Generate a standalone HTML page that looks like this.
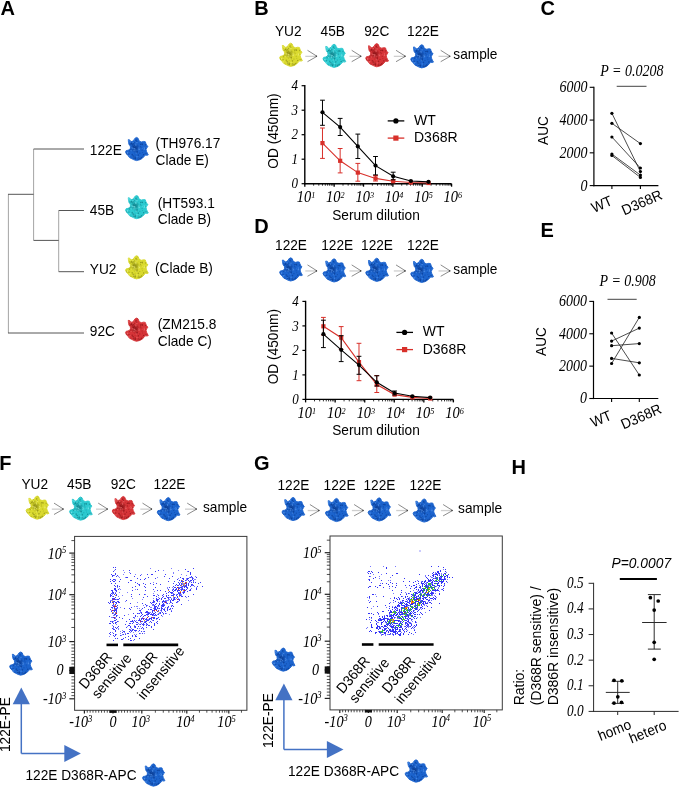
<!DOCTYPE html>
<html><head><meta charset="utf-8"><style>
html,body{margin:0;padding:0;background:#fff;}
body{width:685px;height:787px;overflow:hidden;}
svg{display:block;filter:blur(0.35px);}
</style></head><body>
<svg width="685" height="787" viewBox="0 0 685 787">
<defs>
<clipPath id="bclip"><path d="M2.81,2.30 4.34,2.55 5.37,4.34 7.15,3.83 8.69,2.55 9.45,1.02 11.24,0.00 12.77,0.77 13.54,2.55 14.05,3.83 16.35,4.60 18.40,4.09 20.18,4.34 20.69,5.88 21.46,7.66 22.74,9.20 21.72,10.73 20.95,12.26 21.46,14.31 22.48,16.35 23.25,17.63 21.97,18.14 20.44,17.88 18.91,19.42 16.86,21.46 14.31,22.74 11.24,23.51 8.69,22.74 6.13,21.46 4.09,20.44 2.55,18.40 1.02,16.86 0.00,14.82 0.77,13.29 2.55,13.03 4.34,12.26 5.11,10.73 4.85,8.69 3.58,7.15 3.07,5.11Z"/></clipPath>
<radialGradient id="gy" cx="0.42" cy="0.45" r="0.62"><stop offset="0" stop-color="#8e8e16"/><stop offset="0.35" stop-color="#dada2e"/><stop offset="1" stop-color="#dada2e"/></radialGradient>
<radialGradient id="gc" cx="0.42" cy="0.45" r="0.62"><stop offset="0" stop-color="#11808a"/><stop offset="0.35" stop-color="#2ccad0"/><stop offset="1" stop-color="#2ccad0"/></radialGradient>
<radialGradient id="gr" cx="0.42" cy="0.45" r="0.62"><stop offset="0" stop-color="#8c1418"/><stop offset="0.35" stop-color="#d63438"/><stop offset="1" stop-color="#d63438"/></radialGradient>
<radialGradient id="gb" cx="0.42" cy="0.45" r="0.62"><stop offset="0" stop-color="#0a3c92"/><stop offset="0.35" stop-color="#1c64ce"/><stop offset="1" stop-color="#1c64ce"/></radialGradient>
<g id="py"><path d="M2.81,2.30 4.34,2.55 5.37,4.34 7.15,3.83 8.69,2.55 9.45,1.02 11.24,0.00 12.77,0.77 13.54,2.55 14.05,3.83 16.35,4.60 18.40,4.09 20.18,4.34 20.69,5.88 21.46,7.66 22.74,9.20 21.72,10.73 20.95,12.26 21.46,14.31 22.48,16.35 23.25,17.63 21.97,18.14 20.44,17.88 18.91,19.42 16.86,21.46 14.31,22.74 11.24,23.51 8.69,22.74 6.13,21.46 4.09,20.44 2.55,18.40 1.02,16.86 0.00,14.82 0.77,13.29 2.55,13.03 4.34,12.26 5.11,10.73 4.85,8.69 3.58,7.15 3.07,5.11Z" fill="url(#gy)" stroke="#dada2e" stroke-width="0.9" stroke-linejoin="round"/><g clip-path="url(#bclip)">
<circle cx="7.5" cy="3.5" r="0.68" fill="#8e8e16" opacity="0.6"/>
<circle cx="12.5" cy="8.6" r="0.38" fill="#8e8e16" opacity="0.6"/>
<circle cx="0.9" cy="10.2" r="0.38" fill="#8e8e16" opacity="0.6"/>
<circle cx="9.9" cy="19.4" r="0.41" fill="#8e8e16" opacity="0.6"/>
<circle cx="14.6" cy="22.3" r="0.64" fill="#8e8e16" opacity="0.6"/>
<circle cx="22.7" cy="1.1" r="0.78" fill="#8e8e16" opacity="0.6"/>
<circle cx="3.4" cy="2.8" r="0.50" fill="#f2f27a" opacity="0.6"/>
<circle cx="4.2" cy="13.7" r="0.67" fill="#8e8e16" opacity="0.6"/>
<circle cx="12.7" cy="1.5" r="0.38" fill="#8e8e16" opacity="0.6"/>
<circle cx="15.8" cy="10.1" r="0.51" fill="#8e8e16" opacity="0.6"/>
<circle cx="10.5" cy="7.0" r="0.75" fill="#f2f27a" opacity="0.6"/>
<circle cx="5.7" cy="13.5" r="0.61" fill="#f2f27a" opacity="0.6"/>
<circle cx="17.0" cy="6.8" r="0.84" fill="#8e8e16" opacity="0.6"/>
<circle cx="9.7" cy="17.8" r="0.43" fill="#8e8e16" opacity="0.6"/>
<circle cx="0.9" cy="15.7" r="0.73" fill="#8e8e16" opacity="0.6"/>
<circle cx="20.4" cy="7.4" r="0.70" fill="#8e8e16" opacity="0.6"/>
<circle cx="13.5" cy="10.7" r="0.77" fill="#f2f27a" opacity="0.6"/>
<circle cx="11.0" cy="15.6" r="0.38" fill="#f2f27a" opacity="0.6"/>
<circle cx="15.0" cy="23.3" r="0.76" fill="#8e8e16" opacity="0.6"/>
<circle cx="9.0" cy="15.7" r="0.36" fill="#8e8e16" opacity="0.6"/>
<circle cx="3.9" cy="2.8" r="0.38" fill="#f2f27a" opacity="0.6"/>
<circle cx="3.0" cy="5.8" r="0.55" fill="#f2f27a" opacity="0.6"/>
<circle cx="1.9" cy="10.6" r="0.62" fill="#f2f27a" opacity="0.6"/>
<circle cx="19.0" cy="20.3" r="0.49" fill="#8e8e16" opacity="0.6"/>
<circle cx="8.3" cy="20.8" r="0.83" fill="#8e8e16" opacity="0.6"/>
<circle cx="4.1" cy="5.5" r="0.47" fill="#8e8e16" opacity="0.6"/>
<circle cx="13.7" cy="6.2" r="0.35" fill="#8e8e16" opacity="0.6"/>
<circle cx="8.6" cy="13.3" r="0.83" fill="#f2f27a" opacity="0.6"/>
<circle cx="12.0" cy="14.5" r="0.69" fill="#8e8e16" opacity="0.6"/>
<circle cx="20.9" cy="18.3" r="0.79" fill="#f2f27a" opacity="0.6"/>
<circle cx="9.1" cy="9.4" r="0.40" fill="#f2f27a" opacity="0.6"/>
<circle cx="1.4" cy="1.6" r="0.45" fill="#8e8e16" opacity="0.6"/>
<circle cx="7.9" cy="1.2" r="0.35" fill="#8e8e16" opacity="0.6"/>
<circle cx="2.4" cy="8.5" r="0.36" fill="#f2f27a" opacity="0.6"/>
<circle cx="14.3" cy="3.5" r="0.48" fill="#8e8e16" opacity="0.6"/>
<circle cx="8.5" cy="2.9" r="0.77" fill="#f2f27a" opacity="0.6"/>
<circle cx="10.8" cy="11.4" r="0.39" fill="#8e8e16" opacity="0.6"/>
<circle cx="8.0" cy="6.2" r="0.76" fill="#8e8e16" opacity="0.6"/>
<circle cx="0.5" cy="22.4" r="0.61" fill="#8e8e16" opacity="0.6"/>
<circle cx="12.6" cy="0.6" r="0.61" fill="#f2f27a" opacity="0.6"/>
<circle cx="20.1" cy="16.4" r="0.48" fill="#8e8e16" opacity="0.6"/>
<circle cx="3.9" cy="18.1" r="0.62" fill="#f2f27a" opacity="0.6"/>
<circle cx="7.7" cy="5.2" r="0.76" fill="#f2f27a" opacity="0.6"/>
<circle cx="19.8" cy="19.0" r="0.76" fill="#f2f27a" opacity="0.6"/>
<circle cx="5.3" cy="12.2" r="0.53" fill="#8e8e16" opacity="0.6"/>
<circle cx="0.6" cy="6.6" r="0.48" fill="#f2f27a" opacity="0.6"/>
<circle cx="22.2" cy="10.5" r="0.82" fill="#f2f27a" opacity="0.6"/>
<circle cx="22.2" cy="8.6" r="0.46" fill="#8e8e16" opacity="0.6"/>
<circle cx="4.6" cy="4.8" r="0.66" fill="#f2f27a" opacity="0.6"/>
<circle cx="19.5" cy="11.3" r="0.68" fill="#f2f27a" opacity="0.6"/>
<circle cx="2.0" cy="15.5" r="0.80" fill="#f2f27a" opacity="0.6"/>
<circle cx="17.4" cy="11.2" r="0.44" fill="#f2f27a" opacity="0.6"/>
<circle cx="7.7" cy="18.8" r="0.84" fill="#8e8e16" opacity="0.6"/>
<circle cx="9.3" cy="22.3" r="0.71" fill="#8e8e16" opacity="0.6"/>
<circle cx="3.0" cy="3.6" r="0.80" fill="#f2f27a" opacity="0.6"/>
<circle cx="3.4" cy="19.4" r="0.84" fill="#f2f27a" opacity="0.6"/>
<circle cx="8.1" cy="12.9" r="0.42" fill="#8e8e16" opacity="0.6"/>
<circle cx="22.6" cy="15.3" r="0.61" fill="#f2f27a" opacity="0.6"/>
<circle cx="10.1" cy="20.5" r="0.76" fill="#8e8e16" opacity="0.6"/>
<circle cx="5.9" cy="6.9" r="0.47" fill="#8e8e16" opacity="0.6"/>
<circle cx="6.0" cy="9.9" r="0.42" fill="#f2f27a" opacity="0.6"/>
<circle cx="8.2" cy="10.8" r="0.64" fill="#f2f27a" opacity="0.6"/>
<circle cx="9.8" cy="21.6" r="0.60" fill="#8e8e16" opacity="0.6"/>
<circle cx="12.2" cy="0.4" r="0.57" fill="#8e8e16" opacity="0.6"/>
<circle cx="0.1" cy="18.8" r="0.44" fill="#8e8e16" opacity="0.6"/>
<circle cx="16.9" cy="13.1" r="0.51" fill="#8e8e16" opacity="0.6"/>
<circle cx="12.9" cy="18.4" r="0.40" fill="#8e8e16" opacity="0.6"/>
<circle cx="5.8" cy="6.5" r="0.74" fill="#8e8e16" opacity="0.6"/>
<circle cx="13.1" cy="17.9" r="0.81" fill="#8e8e16" opacity="0.6"/>
<circle cx="14.2" cy="11.9" r="0.61" fill="#f2f27a" opacity="0.6"/>
<circle cx="10.5" cy="12.5" r="0.59" fill="#f2f27a" opacity="0.6"/>
<circle cx="16.3" cy="20.6" r="0.82" fill="#8e8e16" opacity="0.6"/>
<circle cx="13.0" cy="22.2" r="0.77" fill="#8e8e16" opacity="0.6"/>
<circle cx="2.8" cy="10.4" r="0.39" fill="#8e8e16" opacity="0.6"/>
<circle cx="1.7" cy="15.7" r="0.74" fill="#f2f27a" opacity="0.6"/>
<circle cx="3.6" cy="16.8" r="0.68" fill="#8e8e16" opacity="0.6"/>
<circle cx="20.5" cy="22.7" r="0.46" fill="#f2f27a" opacity="0.6"/>
<circle cx="9.3" cy="11.5" r="0.84" fill="#f2f27a" opacity="0.6"/>
<circle cx="3.8" cy="10.1" r="0.61" fill="#8e8e16" opacity="0.6"/>
<circle cx="4.6" cy="7.5" r="0.71" fill="#8e8e16" opacity="0.6"/>
<circle cx="12.9" cy="10.4" r="0.36" fill="#8e8e16" opacity="0.6"/>
<circle cx="14.5" cy="12.0" r="0.38" fill="#f2f27a" opacity="0.6"/>
<circle cx="18.3" cy="22.8" r="0.40" fill="#8e8e16" opacity="0.6"/>
<circle cx="0.9" cy="18.3" r="0.49" fill="#8e8e16" opacity="0.6"/>
<circle cx="9.8" cy="21.4" r="0.76" fill="#8e8e16" opacity="0.6"/>
<circle cx="3.5" cy="21.6" r="0.64" fill="#f2f27a" opacity="0.6"/>
<circle cx="2.1" cy="1.4" r="0.69" fill="#8e8e16" opacity="0.6"/>
<circle cx="1.7" cy="22.1" r="0.67" fill="#f2f27a" opacity="0.6"/>
<circle cx="1.9" cy="20.1" r="0.38" fill="#f2f27a" opacity="0.6"/>
<circle cx="10.6" cy="8.0" r="0.63" fill="#f2f27a" opacity="0.6"/>
<circle cx="6.2" cy="3.0" r="0.61" fill="#8e8e16" opacity="0.6"/>
<circle cx="2.5" cy="3.8" r="0.38" fill="#8e8e16" opacity="0.6"/>
<circle cx="7.3" cy="7.2" r="0.73" fill="#8e8e16" opacity="0.6"/>
<circle cx="11.6" cy="4.2" r="0.52" fill="#8e8e16" opacity="0.6"/>
<circle cx="5.8" cy="0.4" r="0.72" fill="#8e8e16" opacity="0.6"/>
<circle cx="4.4" cy="11.2" r="0.82" fill="#8e8e16" opacity="0.6"/>
<circle cx="19.0" cy="10.2" r="0.60" fill="#f2f27a" opacity="0.6"/>
<circle cx="9.1" cy="11.9" r="0.69" fill="#f2f27a" opacity="0.6"/>
<circle cx="8.0" cy="19.6" r="0.70" fill="#f2f27a" opacity="0.6"/>
<circle cx="9.4" cy="8.2" r="0.38" fill="#8e8e16" opacity="0.6"/>
<circle cx="1.6" cy="17.4" r="0.48" fill="#8e8e16" opacity="0.6"/>
<circle cx="2.0" cy="19.8" r="0.79" fill="#f2f27a" opacity="0.6"/>
<circle cx="6.6" cy="5.7" r="0.50" fill="#8e8e16" opacity="0.6"/>
<circle cx="3.7" cy="10.5" r="0.48" fill="#f2f27a" opacity="0.6"/>
<circle cx="22.6" cy="12.9" r="0.47" fill="#f2f27a" opacity="0.6"/>
<circle cx="7.2" cy="8.4" r="0.35" fill="#8e8e16" opacity="0.6"/>
<circle cx="11.0" cy="11.8" r="0.45" fill="#8e8e16" opacity="0.6"/>
<circle cx="0.1" cy="6.2" r="0.39" fill="#8e8e16" opacity="0.6"/>
<circle cx="1.0" cy="0.5" r="0.50" fill="#8e8e16" opacity="0.6"/>
<circle cx="13.6" cy="12.4" r="0.73" fill="#f2f27a" opacity="0.6"/>
<circle cx="16.6" cy="20.7" r="0.54" fill="#8e8e16" opacity="0.6"/>
<circle cx="22.9" cy="3.5" r="0.71" fill="#f2f27a" opacity="0.6"/>
<circle cx="1.0" cy="19.6" r="0.80" fill="#f2f27a" opacity="0.6"/>
<circle cx="17.1" cy="19.1" r="0.42" fill="#8e8e16" opacity="0.6"/>
<circle cx="11.7" cy="19.6" r="0.75" fill="#f2f27a" opacity="0.6"/>
<circle cx="13.6" cy="21.0" r="0.69" fill="#f2f27a" opacity="0.6"/>
<circle cx="5.3" cy="0.7" r="0.42" fill="#8e8e16" opacity="0.6"/>
<circle cx="2.4" cy="19.7" r="0.63" fill="#f2f27a" opacity="0.6"/>
<circle cx="14.6" cy="16.0" r="0.59" fill="#8e8e16" opacity="0.6"/>
<circle cx="18.5" cy="17.6" r="0.60" fill="#8e8e16" opacity="0.6"/>
<circle cx="15.3" cy="1.6" r="0.72" fill="#8e8e16" opacity="0.6"/>
<circle cx="1.7" cy="6.2" r="0.71" fill="#8e8e16" opacity="0.6"/>
<circle cx="17.2" cy="22.9" r="0.60" fill="#8e8e16" opacity="0.6"/>
<circle cx="11.1" cy="16.1" r="0.73" fill="#f2f27a" opacity="0.6"/>
<circle cx="14.9" cy="1.8" r="0.42" fill="#8e8e16" opacity="0.6"/>
<circle cx="17.3" cy="7.2" r="0.63" fill="#8e8e16" opacity="0.6"/>
<circle cx="1.4" cy="6.3" r="0.69" fill="#f2f27a" opacity="0.6"/>
<circle cx="15.7" cy="6.8" r="0.61" fill="#8e8e16" opacity="0.6"/>
<circle cx="10.8" cy="2.8" r="0.80" fill="#8e8e16" opacity="0.6"/>
<circle cx="22.7" cy="22.0" r="0.36" fill="#8e8e16" opacity="0.6"/>
<circle cx="19.1" cy="22.8" r="0.57" fill="#8e8e16" opacity="0.6"/>
<circle cx="4.9" cy="22.2" r="0.46" fill="#8e8e16" opacity="0.6"/>
<circle cx="3.3" cy="12.3" r="0.83" fill="#8e8e16" opacity="0.6"/>
<circle cx="19.1" cy="12.0" r="0.79" fill="#f2f27a" opacity="0.6"/>
<circle cx="5.4" cy="21.1" r="0.59" fill="#8e8e16" opacity="0.6"/>
<circle cx="0.1" cy="11.6" r="0.58" fill="#8e8e16" opacity="0.6"/>
<circle cx="3.3" cy="8.1" r="0.51" fill="#f2f27a" opacity="0.6"/>
<circle cx="0.0" cy="17.6" r="0.77" fill="#8e8e16" opacity="0.6"/>
<circle cx="21.5" cy="16.8" r="0.80" fill="#8e8e16" opacity="0.6"/>
<circle cx="8.7" cy="9.2" r="0.85" fill="#8e8e16" opacity="0.6"/>
<circle cx="8.4" cy="10.1" r="0.49" fill="#8e8e16" opacity="0.6"/>
<circle cx="2.4" cy="19.6" r="0.49" fill="#f2f27a" opacity="0.6"/>
<circle cx="5.8" cy="6.2" r="0.61" fill="#8e8e16" opacity="0.6"/>
<circle cx="8.7" cy="22.5" r="0.79" fill="#f2f27a" opacity="0.6"/>
<circle cx="14.7" cy="21.5" r="0.82" fill="#8e8e16" opacity="0.6"/>
<circle cx="16.7" cy="1.2" r="0.72" fill="#8e8e16" opacity="0.6"/>
<circle cx="17.5" cy="15.2" r="0.49" fill="#8e8e16" opacity="0.6"/>
<circle cx="21.5" cy="3.0" r="0.59" fill="#8e8e16" opacity="0.6"/>
<circle cx="6.9" cy="17.4" r="0.84" fill="#8e8e16" opacity="0.6"/>
<circle cx="15.3" cy="7.1" r="0.63" fill="#8e8e16" opacity="0.6"/>
<circle cx="3.9" cy="3.8" r="0.45" fill="#f2f27a" opacity="0.6"/>
<circle cx="11.6" cy="5.2" r="0.80" fill="#f2f27a" opacity="0.6"/>
<circle cx="10.5" cy="3.3" r="0.45" fill="#8e8e16" opacity="0.6"/>
<circle cx="8.0" cy="2.1" r="0.47" fill="#8e8e16" opacity="0.6"/>
<circle cx="13.2" cy="20.9" r="0.72" fill="#8e8e16" opacity="0.6"/>
<circle cx="9.6" cy="12.3" r="0.54" fill="#8e8e16" opacity="0.6"/>
<circle cx="1.4" cy="6.5" r="0.83" fill="#8e8e16" opacity="0.6"/>
<circle cx="11.7" cy="14.8" r="0.78" fill="#8e8e16" opacity="0.6"/>
<circle cx="6.3" cy="5.8" r="0.55" fill="#8e8e16" opacity="0.6"/>
<circle cx="22.2" cy="20.0" r="0.79" fill="#8e8e16" opacity="0.6"/>
<circle cx="0.7" cy="16.7" r="0.80" fill="#8e8e16" opacity="0.6"/>
<circle cx="13.7" cy="0.0" r="0.55" fill="#f2f27a" opacity="0.6"/>
<circle cx="19.2" cy="20.1" r="0.84" fill="#8e8e16" opacity="0.6"/>
<circle cx="2.5" cy="3.6" r="0.61" fill="#f2f27a" opacity="0.6"/>
<circle cx="21.9" cy="17.0" r="0.67" fill="#f2f27a" opacity="0.6"/>
<circle cx="10.6" cy="13.0" r="0.37" fill="#f2f27a" opacity="0.6"/>
<circle cx="5.4" cy="21.6" r="0.67" fill="#8e8e16" opacity="0.6"/>
<circle cx="3.0" cy="5.9" r="0.67" fill="#f2f27a" opacity="0.6"/>
<circle cx="2.6" cy="1.7" r="0.61" fill="#8e8e16" opacity="0.6"/>
<circle cx="9.0" cy="5.3" r="0.65" fill="#8e8e16" opacity="0.6"/>
<circle cx="7.0" cy="10.8" r="0.83" fill="#f2f27a" opacity="0.6"/>
<circle cx="20.5" cy="11.2" r="0.47" fill="#8e8e16" opacity="0.6"/>
<circle cx="22.3" cy="16.6" r="0.50" fill="#8e8e16" opacity="0.6"/>
<circle cx="11.6" cy="15.9" r="0.56" fill="#8e8e16" opacity="0.6"/>
<circle cx="15.5" cy="21.8" r="0.46" fill="#8e8e16" opacity="0.6"/>
<circle cx="7.9" cy="9.9" r="0.69" fill="#8e8e16" opacity="0.6"/>
<circle cx="18.5" cy="17.4" r="0.60" fill="#8e8e16" opacity="0.6"/>
<circle cx="22.5" cy="7.3" r="0.76" fill="#8e8e16" opacity="0.6"/>
<circle cx="5.1" cy="17.9" r="0.50" fill="#f2f27a" opacity="0.6"/>
<circle cx="11.5" cy="4.4" r="0.46" fill="#8e8e16" opacity="0.6"/>
<circle cx="15.5" cy="22.3" r="0.42" fill="#8e8e16" opacity="0.6"/>
<circle cx="5.0" cy="22.9" r="0.42" fill="#8e8e16" opacity="0.6"/>
<circle cx="1.4" cy="9.2" r="0.80" fill="#f2f27a" opacity="0.6"/>
<circle cx="17.0" cy="23.5" r="0.82" fill="#8e8e16" opacity="0.6"/>
<circle cx="4.3" cy="22.0" r="0.72" fill="#8e8e16" opacity="0.6"/>
<circle cx="15.4" cy="8.9" r="0.54" fill="#8e8e16" opacity="0.6"/>
<circle cx="3.9" cy="0.1" r="0.49" fill="#8e8e16" opacity="0.6"/>
<circle cx="22.2" cy="2.9" r="0.83" fill="#8e8e16" opacity="0.6"/>
<circle cx="8.3" cy="19.3" r="0.76" fill="#8e8e16" opacity="0.6"/>
<circle cx="1.1" cy="11.1" r="0.54" fill="#f2f27a" opacity="0.6"/>
</g></g>
<g id="pc"><path d="M2.81,2.30 4.34,2.55 5.37,4.34 7.15,3.83 8.69,2.55 9.45,1.02 11.24,0.00 12.77,0.77 13.54,2.55 14.05,3.83 16.35,4.60 18.40,4.09 20.18,4.34 20.69,5.88 21.46,7.66 22.74,9.20 21.72,10.73 20.95,12.26 21.46,14.31 22.48,16.35 23.25,17.63 21.97,18.14 20.44,17.88 18.91,19.42 16.86,21.46 14.31,22.74 11.24,23.51 8.69,22.74 6.13,21.46 4.09,20.44 2.55,18.40 1.02,16.86 0.00,14.82 0.77,13.29 2.55,13.03 4.34,12.26 5.11,10.73 4.85,8.69 3.58,7.15 3.07,5.11Z" fill="url(#gc)" stroke="#2ccad0" stroke-width="0.9" stroke-linejoin="round"/><g clip-path="url(#bclip)">
<circle cx="7.5" cy="3.5" r="0.68" fill="#11808a" opacity="0.6"/>
<circle cx="12.5" cy="8.6" r="0.38" fill="#11808a" opacity="0.6"/>
<circle cx="0.9" cy="10.2" r="0.38" fill="#11808a" opacity="0.6"/>
<circle cx="9.9" cy="19.4" r="0.41" fill="#11808a" opacity="0.6"/>
<circle cx="14.6" cy="22.3" r="0.64" fill="#11808a" opacity="0.6"/>
<circle cx="22.7" cy="1.1" r="0.78" fill="#11808a" opacity="0.6"/>
<circle cx="3.4" cy="2.8" r="0.50" fill="#7eeaee" opacity="0.6"/>
<circle cx="4.2" cy="13.7" r="0.67" fill="#11808a" opacity="0.6"/>
<circle cx="12.7" cy="1.5" r="0.38" fill="#11808a" opacity="0.6"/>
<circle cx="15.8" cy="10.1" r="0.51" fill="#11808a" opacity="0.6"/>
<circle cx="10.5" cy="7.0" r="0.75" fill="#7eeaee" opacity="0.6"/>
<circle cx="5.7" cy="13.5" r="0.61" fill="#7eeaee" opacity="0.6"/>
<circle cx="17.0" cy="6.8" r="0.84" fill="#11808a" opacity="0.6"/>
<circle cx="9.7" cy="17.8" r="0.43" fill="#11808a" opacity="0.6"/>
<circle cx="0.9" cy="15.7" r="0.73" fill="#11808a" opacity="0.6"/>
<circle cx="20.4" cy="7.4" r="0.70" fill="#11808a" opacity="0.6"/>
<circle cx="13.5" cy="10.7" r="0.77" fill="#7eeaee" opacity="0.6"/>
<circle cx="11.0" cy="15.6" r="0.38" fill="#7eeaee" opacity="0.6"/>
<circle cx="15.0" cy="23.3" r="0.76" fill="#11808a" opacity="0.6"/>
<circle cx="9.0" cy="15.7" r="0.36" fill="#11808a" opacity="0.6"/>
<circle cx="3.9" cy="2.8" r="0.38" fill="#7eeaee" opacity="0.6"/>
<circle cx="3.0" cy="5.8" r="0.55" fill="#7eeaee" opacity="0.6"/>
<circle cx="1.9" cy="10.6" r="0.62" fill="#7eeaee" opacity="0.6"/>
<circle cx="19.0" cy="20.3" r="0.49" fill="#11808a" opacity="0.6"/>
<circle cx="8.3" cy="20.8" r="0.83" fill="#11808a" opacity="0.6"/>
<circle cx="4.1" cy="5.5" r="0.47" fill="#11808a" opacity="0.6"/>
<circle cx="13.7" cy="6.2" r="0.35" fill="#11808a" opacity="0.6"/>
<circle cx="8.6" cy="13.3" r="0.83" fill="#7eeaee" opacity="0.6"/>
<circle cx="12.0" cy="14.5" r="0.69" fill="#11808a" opacity="0.6"/>
<circle cx="20.9" cy="18.3" r="0.79" fill="#7eeaee" opacity="0.6"/>
<circle cx="9.1" cy="9.4" r="0.40" fill="#7eeaee" opacity="0.6"/>
<circle cx="1.4" cy="1.6" r="0.45" fill="#11808a" opacity="0.6"/>
<circle cx="7.9" cy="1.2" r="0.35" fill="#11808a" opacity="0.6"/>
<circle cx="2.4" cy="8.5" r="0.36" fill="#7eeaee" opacity="0.6"/>
<circle cx="14.3" cy="3.5" r="0.48" fill="#11808a" opacity="0.6"/>
<circle cx="8.5" cy="2.9" r="0.77" fill="#7eeaee" opacity="0.6"/>
<circle cx="10.8" cy="11.4" r="0.39" fill="#11808a" opacity="0.6"/>
<circle cx="8.0" cy="6.2" r="0.76" fill="#11808a" opacity="0.6"/>
<circle cx="0.5" cy="22.4" r="0.61" fill="#11808a" opacity="0.6"/>
<circle cx="12.6" cy="0.6" r="0.61" fill="#7eeaee" opacity="0.6"/>
<circle cx="20.1" cy="16.4" r="0.48" fill="#11808a" opacity="0.6"/>
<circle cx="3.9" cy="18.1" r="0.62" fill="#7eeaee" opacity="0.6"/>
<circle cx="7.7" cy="5.2" r="0.76" fill="#7eeaee" opacity="0.6"/>
<circle cx="19.8" cy="19.0" r="0.76" fill="#7eeaee" opacity="0.6"/>
<circle cx="5.3" cy="12.2" r="0.53" fill="#11808a" opacity="0.6"/>
<circle cx="0.6" cy="6.6" r="0.48" fill="#7eeaee" opacity="0.6"/>
<circle cx="22.2" cy="10.5" r="0.82" fill="#7eeaee" opacity="0.6"/>
<circle cx="22.2" cy="8.6" r="0.46" fill="#11808a" opacity="0.6"/>
<circle cx="4.6" cy="4.8" r="0.66" fill="#7eeaee" opacity="0.6"/>
<circle cx="19.5" cy="11.3" r="0.68" fill="#7eeaee" opacity="0.6"/>
<circle cx="2.0" cy="15.5" r="0.80" fill="#7eeaee" opacity="0.6"/>
<circle cx="17.4" cy="11.2" r="0.44" fill="#7eeaee" opacity="0.6"/>
<circle cx="7.7" cy="18.8" r="0.84" fill="#11808a" opacity="0.6"/>
<circle cx="9.3" cy="22.3" r="0.71" fill="#11808a" opacity="0.6"/>
<circle cx="3.0" cy="3.6" r="0.80" fill="#7eeaee" opacity="0.6"/>
<circle cx="3.4" cy="19.4" r="0.84" fill="#7eeaee" opacity="0.6"/>
<circle cx="8.1" cy="12.9" r="0.42" fill="#11808a" opacity="0.6"/>
<circle cx="22.6" cy="15.3" r="0.61" fill="#7eeaee" opacity="0.6"/>
<circle cx="10.1" cy="20.5" r="0.76" fill="#11808a" opacity="0.6"/>
<circle cx="5.9" cy="6.9" r="0.47" fill="#11808a" opacity="0.6"/>
<circle cx="6.0" cy="9.9" r="0.42" fill="#7eeaee" opacity="0.6"/>
<circle cx="8.2" cy="10.8" r="0.64" fill="#7eeaee" opacity="0.6"/>
<circle cx="9.8" cy="21.6" r="0.60" fill="#11808a" opacity="0.6"/>
<circle cx="12.2" cy="0.4" r="0.57" fill="#11808a" opacity="0.6"/>
<circle cx="0.1" cy="18.8" r="0.44" fill="#11808a" opacity="0.6"/>
<circle cx="16.9" cy="13.1" r="0.51" fill="#11808a" opacity="0.6"/>
<circle cx="12.9" cy="18.4" r="0.40" fill="#11808a" opacity="0.6"/>
<circle cx="5.8" cy="6.5" r="0.74" fill="#11808a" opacity="0.6"/>
<circle cx="13.1" cy="17.9" r="0.81" fill="#11808a" opacity="0.6"/>
<circle cx="14.2" cy="11.9" r="0.61" fill="#7eeaee" opacity="0.6"/>
<circle cx="10.5" cy="12.5" r="0.59" fill="#7eeaee" opacity="0.6"/>
<circle cx="16.3" cy="20.6" r="0.82" fill="#11808a" opacity="0.6"/>
<circle cx="13.0" cy="22.2" r="0.77" fill="#11808a" opacity="0.6"/>
<circle cx="2.8" cy="10.4" r="0.39" fill="#11808a" opacity="0.6"/>
<circle cx="1.7" cy="15.7" r="0.74" fill="#7eeaee" opacity="0.6"/>
<circle cx="3.6" cy="16.8" r="0.68" fill="#11808a" opacity="0.6"/>
<circle cx="20.5" cy="22.7" r="0.46" fill="#7eeaee" opacity="0.6"/>
<circle cx="9.3" cy="11.5" r="0.84" fill="#7eeaee" opacity="0.6"/>
<circle cx="3.8" cy="10.1" r="0.61" fill="#11808a" opacity="0.6"/>
<circle cx="4.6" cy="7.5" r="0.71" fill="#11808a" opacity="0.6"/>
<circle cx="12.9" cy="10.4" r="0.36" fill="#11808a" opacity="0.6"/>
<circle cx="14.5" cy="12.0" r="0.38" fill="#7eeaee" opacity="0.6"/>
<circle cx="18.3" cy="22.8" r="0.40" fill="#11808a" opacity="0.6"/>
<circle cx="0.9" cy="18.3" r="0.49" fill="#11808a" opacity="0.6"/>
<circle cx="9.8" cy="21.4" r="0.76" fill="#11808a" opacity="0.6"/>
<circle cx="3.5" cy="21.6" r="0.64" fill="#7eeaee" opacity="0.6"/>
<circle cx="2.1" cy="1.4" r="0.69" fill="#11808a" opacity="0.6"/>
<circle cx="1.7" cy="22.1" r="0.67" fill="#7eeaee" opacity="0.6"/>
<circle cx="1.9" cy="20.1" r="0.38" fill="#7eeaee" opacity="0.6"/>
<circle cx="10.6" cy="8.0" r="0.63" fill="#7eeaee" opacity="0.6"/>
<circle cx="6.2" cy="3.0" r="0.61" fill="#11808a" opacity="0.6"/>
<circle cx="2.5" cy="3.8" r="0.38" fill="#11808a" opacity="0.6"/>
<circle cx="7.3" cy="7.2" r="0.73" fill="#11808a" opacity="0.6"/>
<circle cx="11.6" cy="4.2" r="0.52" fill="#11808a" opacity="0.6"/>
<circle cx="5.8" cy="0.4" r="0.72" fill="#11808a" opacity="0.6"/>
<circle cx="4.4" cy="11.2" r="0.82" fill="#11808a" opacity="0.6"/>
<circle cx="19.0" cy="10.2" r="0.60" fill="#7eeaee" opacity="0.6"/>
<circle cx="9.1" cy="11.9" r="0.69" fill="#7eeaee" opacity="0.6"/>
<circle cx="8.0" cy="19.6" r="0.70" fill="#7eeaee" opacity="0.6"/>
<circle cx="9.4" cy="8.2" r="0.38" fill="#11808a" opacity="0.6"/>
<circle cx="1.6" cy="17.4" r="0.48" fill="#11808a" opacity="0.6"/>
<circle cx="2.0" cy="19.8" r="0.79" fill="#7eeaee" opacity="0.6"/>
<circle cx="6.6" cy="5.7" r="0.50" fill="#11808a" opacity="0.6"/>
<circle cx="3.7" cy="10.5" r="0.48" fill="#7eeaee" opacity="0.6"/>
<circle cx="22.6" cy="12.9" r="0.47" fill="#7eeaee" opacity="0.6"/>
<circle cx="7.2" cy="8.4" r="0.35" fill="#11808a" opacity="0.6"/>
<circle cx="11.0" cy="11.8" r="0.45" fill="#11808a" opacity="0.6"/>
<circle cx="0.1" cy="6.2" r="0.39" fill="#11808a" opacity="0.6"/>
<circle cx="1.0" cy="0.5" r="0.50" fill="#11808a" opacity="0.6"/>
<circle cx="13.6" cy="12.4" r="0.73" fill="#7eeaee" opacity="0.6"/>
<circle cx="16.6" cy="20.7" r="0.54" fill="#11808a" opacity="0.6"/>
<circle cx="22.9" cy="3.5" r="0.71" fill="#7eeaee" opacity="0.6"/>
<circle cx="1.0" cy="19.6" r="0.80" fill="#7eeaee" opacity="0.6"/>
<circle cx="17.1" cy="19.1" r="0.42" fill="#11808a" opacity="0.6"/>
<circle cx="11.7" cy="19.6" r="0.75" fill="#7eeaee" opacity="0.6"/>
<circle cx="13.6" cy="21.0" r="0.69" fill="#7eeaee" opacity="0.6"/>
<circle cx="5.3" cy="0.7" r="0.42" fill="#11808a" opacity="0.6"/>
<circle cx="2.4" cy="19.7" r="0.63" fill="#7eeaee" opacity="0.6"/>
<circle cx="14.6" cy="16.0" r="0.59" fill="#11808a" opacity="0.6"/>
<circle cx="18.5" cy="17.6" r="0.60" fill="#11808a" opacity="0.6"/>
<circle cx="15.3" cy="1.6" r="0.72" fill="#11808a" opacity="0.6"/>
<circle cx="1.7" cy="6.2" r="0.71" fill="#11808a" opacity="0.6"/>
<circle cx="17.2" cy="22.9" r="0.60" fill="#11808a" opacity="0.6"/>
<circle cx="11.1" cy="16.1" r="0.73" fill="#7eeaee" opacity="0.6"/>
<circle cx="14.9" cy="1.8" r="0.42" fill="#11808a" opacity="0.6"/>
<circle cx="17.3" cy="7.2" r="0.63" fill="#11808a" opacity="0.6"/>
<circle cx="1.4" cy="6.3" r="0.69" fill="#7eeaee" opacity="0.6"/>
<circle cx="15.7" cy="6.8" r="0.61" fill="#11808a" opacity="0.6"/>
<circle cx="10.8" cy="2.8" r="0.80" fill="#11808a" opacity="0.6"/>
<circle cx="22.7" cy="22.0" r="0.36" fill="#11808a" opacity="0.6"/>
<circle cx="19.1" cy="22.8" r="0.57" fill="#11808a" opacity="0.6"/>
<circle cx="4.9" cy="22.2" r="0.46" fill="#11808a" opacity="0.6"/>
<circle cx="3.3" cy="12.3" r="0.83" fill="#11808a" opacity="0.6"/>
<circle cx="19.1" cy="12.0" r="0.79" fill="#7eeaee" opacity="0.6"/>
<circle cx="5.4" cy="21.1" r="0.59" fill="#11808a" opacity="0.6"/>
<circle cx="0.1" cy="11.6" r="0.58" fill="#11808a" opacity="0.6"/>
<circle cx="3.3" cy="8.1" r="0.51" fill="#7eeaee" opacity="0.6"/>
<circle cx="0.0" cy="17.6" r="0.77" fill="#11808a" opacity="0.6"/>
<circle cx="21.5" cy="16.8" r="0.80" fill="#11808a" opacity="0.6"/>
<circle cx="8.7" cy="9.2" r="0.85" fill="#11808a" opacity="0.6"/>
<circle cx="8.4" cy="10.1" r="0.49" fill="#11808a" opacity="0.6"/>
<circle cx="2.4" cy="19.6" r="0.49" fill="#7eeaee" opacity="0.6"/>
<circle cx="5.8" cy="6.2" r="0.61" fill="#11808a" opacity="0.6"/>
<circle cx="8.7" cy="22.5" r="0.79" fill="#7eeaee" opacity="0.6"/>
<circle cx="14.7" cy="21.5" r="0.82" fill="#11808a" opacity="0.6"/>
<circle cx="16.7" cy="1.2" r="0.72" fill="#11808a" opacity="0.6"/>
<circle cx="17.5" cy="15.2" r="0.49" fill="#11808a" opacity="0.6"/>
<circle cx="21.5" cy="3.0" r="0.59" fill="#11808a" opacity="0.6"/>
<circle cx="6.9" cy="17.4" r="0.84" fill="#11808a" opacity="0.6"/>
<circle cx="15.3" cy="7.1" r="0.63" fill="#11808a" opacity="0.6"/>
<circle cx="3.9" cy="3.8" r="0.45" fill="#7eeaee" opacity="0.6"/>
<circle cx="11.6" cy="5.2" r="0.80" fill="#7eeaee" opacity="0.6"/>
<circle cx="10.5" cy="3.3" r="0.45" fill="#11808a" opacity="0.6"/>
<circle cx="8.0" cy="2.1" r="0.47" fill="#11808a" opacity="0.6"/>
<circle cx="13.2" cy="20.9" r="0.72" fill="#11808a" opacity="0.6"/>
<circle cx="9.6" cy="12.3" r="0.54" fill="#11808a" opacity="0.6"/>
<circle cx="1.4" cy="6.5" r="0.83" fill="#11808a" opacity="0.6"/>
<circle cx="11.7" cy="14.8" r="0.78" fill="#11808a" opacity="0.6"/>
<circle cx="6.3" cy="5.8" r="0.55" fill="#11808a" opacity="0.6"/>
<circle cx="22.2" cy="20.0" r="0.79" fill="#11808a" opacity="0.6"/>
<circle cx="0.7" cy="16.7" r="0.80" fill="#11808a" opacity="0.6"/>
<circle cx="13.7" cy="0.0" r="0.55" fill="#7eeaee" opacity="0.6"/>
<circle cx="19.2" cy="20.1" r="0.84" fill="#11808a" opacity="0.6"/>
<circle cx="2.5" cy="3.6" r="0.61" fill="#7eeaee" opacity="0.6"/>
<circle cx="21.9" cy="17.0" r="0.67" fill="#7eeaee" opacity="0.6"/>
<circle cx="10.6" cy="13.0" r="0.37" fill="#7eeaee" opacity="0.6"/>
<circle cx="5.4" cy="21.6" r="0.67" fill="#11808a" opacity="0.6"/>
<circle cx="3.0" cy="5.9" r="0.67" fill="#7eeaee" opacity="0.6"/>
<circle cx="2.6" cy="1.7" r="0.61" fill="#11808a" opacity="0.6"/>
<circle cx="9.0" cy="5.3" r="0.65" fill="#11808a" opacity="0.6"/>
<circle cx="7.0" cy="10.8" r="0.83" fill="#7eeaee" opacity="0.6"/>
<circle cx="20.5" cy="11.2" r="0.47" fill="#11808a" opacity="0.6"/>
<circle cx="22.3" cy="16.6" r="0.50" fill="#11808a" opacity="0.6"/>
<circle cx="11.6" cy="15.9" r="0.56" fill="#11808a" opacity="0.6"/>
<circle cx="15.5" cy="21.8" r="0.46" fill="#11808a" opacity="0.6"/>
<circle cx="7.9" cy="9.9" r="0.69" fill="#11808a" opacity="0.6"/>
<circle cx="18.5" cy="17.4" r="0.60" fill="#11808a" opacity="0.6"/>
<circle cx="22.5" cy="7.3" r="0.76" fill="#11808a" opacity="0.6"/>
<circle cx="5.1" cy="17.9" r="0.50" fill="#7eeaee" opacity="0.6"/>
<circle cx="11.5" cy="4.4" r="0.46" fill="#11808a" opacity="0.6"/>
<circle cx="15.5" cy="22.3" r="0.42" fill="#11808a" opacity="0.6"/>
<circle cx="5.0" cy="22.9" r="0.42" fill="#11808a" opacity="0.6"/>
<circle cx="1.4" cy="9.2" r="0.80" fill="#7eeaee" opacity="0.6"/>
<circle cx="17.0" cy="23.5" r="0.82" fill="#11808a" opacity="0.6"/>
<circle cx="4.3" cy="22.0" r="0.72" fill="#11808a" opacity="0.6"/>
<circle cx="15.4" cy="8.9" r="0.54" fill="#11808a" opacity="0.6"/>
<circle cx="3.9" cy="0.1" r="0.49" fill="#11808a" opacity="0.6"/>
<circle cx="22.2" cy="2.9" r="0.83" fill="#11808a" opacity="0.6"/>
<circle cx="8.3" cy="19.3" r="0.76" fill="#11808a" opacity="0.6"/>
<circle cx="1.1" cy="11.1" r="0.54" fill="#7eeaee" opacity="0.6"/>
</g></g>
<g id="pr"><path d="M2.81,2.30 4.34,2.55 5.37,4.34 7.15,3.83 8.69,2.55 9.45,1.02 11.24,0.00 12.77,0.77 13.54,2.55 14.05,3.83 16.35,4.60 18.40,4.09 20.18,4.34 20.69,5.88 21.46,7.66 22.74,9.20 21.72,10.73 20.95,12.26 21.46,14.31 22.48,16.35 23.25,17.63 21.97,18.14 20.44,17.88 18.91,19.42 16.86,21.46 14.31,22.74 11.24,23.51 8.69,22.74 6.13,21.46 4.09,20.44 2.55,18.40 1.02,16.86 0.00,14.82 0.77,13.29 2.55,13.03 4.34,12.26 5.11,10.73 4.85,8.69 3.58,7.15 3.07,5.11Z" fill="url(#gr)" stroke="#d63438" stroke-width="0.9" stroke-linejoin="round"/><g clip-path="url(#bclip)">
<circle cx="7.5" cy="3.5" r="0.68" fill="#8c1418" opacity="0.6"/>
<circle cx="12.5" cy="8.6" r="0.38" fill="#8c1418" opacity="0.6"/>
<circle cx="0.9" cy="10.2" r="0.38" fill="#8c1418" opacity="0.6"/>
<circle cx="9.9" cy="19.4" r="0.41" fill="#8c1418" opacity="0.6"/>
<circle cx="14.6" cy="22.3" r="0.64" fill="#8c1418" opacity="0.6"/>
<circle cx="22.7" cy="1.1" r="0.78" fill="#8c1418" opacity="0.6"/>
<circle cx="3.4" cy="2.8" r="0.50" fill="#ee7272" opacity="0.6"/>
<circle cx="4.2" cy="13.7" r="0.67" fill="#8c1418" opacity="0.6"/>
<circle cx="12.7" cy="1.5" r="0.38" fill="#8c1418" opacity="0.6"/>
<circle cx="15.8" cy="10.1" r="0.51" fill="#8c1418" opacity="0.6"/>
<circle cx="10.5" cy="7.0" r="0.75" fill="#ee7272" opacity="0.6"/>
<circle cx="5.7" cy="13.5" r="0.61" fill="#ee7272" opacity="0.6"/>
<circle cx="17.0" cy="6.8" r="0.84" fill="#8c1418" opacity="0.6"/>
<circle cx="9.7" cy="17.8" r="0.43" fill="#8c1418" opacity="0.6"/>
<circle cx="0.9" cy="15.7" r="0.73" fill="#8c1418" opacity="0.6"/>
<circle cx="20.4" cy="7.4" r="0.70" fill="#8c1418" opacity="0.6"/>
<circle cx="13.5" cy="10.7" r="0.77" fill="#ee7272" opacity="0.6"/>
<circle cx="11.0" cy="15.6" r="0.38" fill="#ee7272" opacity="0.6"/>
<circle cx="15.0" cy="23.3" r="0.76" fill="#8c1418" opacity="0.6"/>
<circle cx="9.0" cy="15.7" r="0.36" fill="#8c1418" opacity="0.6"/>
<circle cx="3.9" cy="2.8" r="0.38" fill="#ee7272" opacity="0.6"/>
<circle cx="3.0" cy="5.8" r="0.55" fill="#ee7272" opacity="0.6"/>
<circle cx="1.9" cy="10.6" r="0.62" fill="#ee7272" opacity="0.6"/>
<circle cx="19.0" cy="20.3" r="0.49" fill="#8c1418" opacity="0.6"/>
<circle cx="8.3" cy="20.8" r="0.83" fill="#8c1418" opacity="0.6"/>
<circle cx="4.1" cy="5.5" r="0.47" fill="#8c1418" opacity="0.6"/>
<circle cx="13.7" cy="6.2" r="0.35" fill="#8c1418" opacity="0.6"/>
<circle cx="8.6" cy="13.3" r="0.83" fill="#ee7272" opacity="0.6"/>
<circle cx="12.0" cy="14.5" r="0.69" fill="#8c1418" opacity="0.6"/>
<circle cx="20.9" cy="18.3" r="0.79" fill="#ee7272" opacity="0.6"/>
<circle cx="9.1" cy="9.4" r="0.40" fill="#ee7272" opacity="0.6"/>
<circle cx="1.4" cy="1.6" r="0.45" fill="#8c1418" opacity="0.6"/>
<circle cx="7.9" cy="1.2" r="0.35" fill="#8c1418" opacity="0.6"/>
<circle cx="2.4" cy="8.5" r="0.36" fill="#ee7272" opacity="0.6"/>
<circle cx="14.3" cy="3.5" r="0.48" fill="#8c1418" opacity="0.6"/>
<circle cx="8.5" cy="2.9" r="0.77" fill="#ee7272" opacity="0.6"/>
<circle cx="10.8" cy="11.4" r="0.39" fill="#8c1418" opacity="0.6"/>
<circle cx="8.0" cy="6.2" r="0.76" fill="#8c1418" opacity="0.6"/>
<circle cx="0.5" cy="22.4" r="0.61" fill="#8c1418" opacity="0.6"/>
<circle cx="12.6" cy="0.6" r="0.61" fill="#ee7272" opacity="0.6"/>
<circle cx="20.1" cy="16.4" r="0.48" fill="#8c1418" opacity="0.6"/>
<circle cx="3.9" cy="18.1" r="0.62" fill="#ee7272" opacity="0.6"/>
<circle cx="7.7" cy="5.2" r="0.76" fill="#ee7272" opacity="0.6"/>
<circle cx="19.8" cy="19.0" r="0.76" fill="#ee7272" opacity="0.6"/>
<circle cx="5.3" cy="12.2" r="0.53" fill="#8c1418" opacity="0.6"/>
<circle cx="0.6" cy="6.6" r="0.48" fill="#ee7272" opacity="0.6"/>
<circle cx="22.2" cy="10.5" r="0.82" fill="#ee7272" opacity="0.6"/>
<circle cx="22.2" cy="8.6" r="0.46" fill="#8c1418" opacity="0.6"/>
<circle cx="4.6" cy="4.8" r="0.66" fill="#ee7272" opacity="0.6"/>
<circle cx="19.5" cy="11.3" r="0.68" fill="#ee7272" opacity="0.6"/>
<circle cx="2.0" cy="15.5" r="0.80" fill="#ee7272" opacity="0.6"/>
<circle cx="17.4" cy="11.2" r="0.44" fill="#ee7272" opacity="0.6"/>
<circle cx="7.7" cy="18.8" r="0.84" fill="#8c1418" opacity="0.6"/>
<circle cx="9.3" cy="22.3" r="0.71" fill="#8c1418" opacity="0.6"/>
<circle cx="3.0" cy="3.6" r="0.80" fill="#ee7272" opacity="0.6"/>
<circle cx="3.4" cy="19.4" r="0.84" fill="#ee7272" opacity="0.6"/>
<circle cx="8.1" cy="12.9" r="0.42" fill="#8c1418" opacity="0.6"/>
<circle cx="22.6" cy="15.3" r="0.61" fill="#ee7272" opacity="0.6"/>
<circle cx="10.1" cy="20.5" r="0.76" fill="#8c1418" opacity="0.6"/>
<circle cx="5.9" cy="6.9" r="0.47" fill="#8c1418" opacity="0.6"/>
<circle cx="6.0" cy="9.9" r="0.42" fill="#ee7272" opacity="0.6"/>
<circle cx="8.2" cy="10.8" r="0.64" fill="#ee7272" opacity="0.6"/>
<circle cx="9.8" cy="21.6" r="0.60" fill="#8c1418" opacity="0.6"/>
<circle cx="12.2" cy="0.4" r="0.57" fill="#8c1418" opacity="0.6"/>
<circle cx="0.1" cy="18.8" r="0.44" fill="#8c1418" opacity="0.6"/>
<circle cx="16.9" cy="13.1" r="0.51" fill="#8c1418" opacity="0.6"/>
<circle cx="12.9" cy="18.4" r="0.40" fill="#8c1418" opacity="0.6"/>
<circle cx="5.8" cy="6.5" r="0.74" fill="#8c1418" opacity="0.6"/>
<circle cx="13.1" cy="17.9" r="0.81" fill="#8c1418" opacity="0.6"/>
<circle cx="14.2" cy="11.9" r="0.61" fill="#ee7272" opacity="0.6"/>
<circle cx="10.5" cy="12.5" r="0.59" fill="#ee7272" opacity="0.6"/>
<circle cx="16.3" cy="20.6" r="0.82" fill="#8c1418" opacity="0.6"/>
<circle cx="13.0" cy="22.2" r="0.77" fill="#8c1418" opacity="0.6"/>
<circle cx="2.8" cy="10.4" r="0.39" fill="#8c1418" opacity="0.6"/>
<circle cx="1.7" cy="15.7" r="0.74" fill="#ee7272" opacity="0.6"/>
<circle cx="3.6" cy="16.8" r="0.68" fill="#8c1418" opacity="0.6"/>
<circle cx="20.5" cy="22.7" r="0.46" fill="#ee7272" opacity="0.6"/>
<circle cx="9.3" cy="11.5" r="0.84" fill="#ee7272" opacity="0.6"/>
<circle cx="3.8" cy="10.1" r="0.61" fill="#8c1418" opacity="0.6"/>
<circle cx="4.6" cy="7.5" r="0.71" fill="#8c1418" opacity="0.6"/>
<circle cx="12.9" cy="10.4" r="0.36" fill="#8c1418" opacity="0.6"/>
<circle cx="14.5" cy="12.0" r="0.38" fill="#ee7272" opacity="0.6"/>
<circle cx="18.3" cy="22.8" r="0.40" fill="#8c1418" opacity="0.6"/>
<circle cx="0.9" cy="18.3" r="0.49" fill="#8c1418" opacity="0.6"/>
<circle cx="9.8" cy="21.4" r="0.76" fill="#8c1418" opacity="0.6"/>
<circle cx="3.5" cy="21.6" r="0.64" fill="#ee7272" opacity="0.6"/>
<circle cx="2.1" cy="1.4" r="0.69" fill="#8c1418" opacity="0.6"/>
<circle cx="1.7" cy="22.1" r="0.67" fill="#ee7272" opacity="0.6"/>
<circle cx="1.9" cy="20.1" r="0.38" fill="#ee7272" opacity="0.6"/>
<circle cx="10.6" cy="8.0" r="0.63" fill="#ee7272" opacity="0.6"/>
<circle cx="6.2" cy="3.0" r="0.61" fill="#8c1418" opacity="0.6"/>
<circle cx="2.5" cy="3.8" r="0.38" fill="#8c1418" opacity="0.6"/>
<circle cx="7.3" cy="7.2" r="0.73" fill="#8c1418" opacity="0.6"/>
<circle cx="11.6" cy="4.2" r="0.52" fill="#8c1418" opacity="0.6"/>
<circle cx="5.8" cy="0.4" r="0.72" fill="#8c1418" opacity="0.6"/>
<circle cx="4.4" cy="11.2" r="0.82" fill="#8c1418" opacity="0.6"/>
<circle cx="19.0" cy="10.2" r="0.60" fill="#ee7272" opacity="0.6"/>
<circle cx="9.1" cy="11.9" r="0.69" fill="#ee7272" opacity="0.6"/>
<circle cx="8.0" cy="19.6" r="0.70" fill="#ee7272" opacity="0.6"/>
<circle cx="9.4" cy="8.2" r="0.38" fill="#8c1418" opacity="0.6"/>
<circle cx="1.6" cy="17.4" r="0.48" fill="#8c1418" opacity="0.6"/>
<circle cx="2.0" cy="19.8" r="0.79" fill="#ee7272" opacity="0.6"/>
<circle cx="6.6" cy="5.7" r="0.50" fill="#8c1418" opacity="0.6"/>
<circle cx="3.7" cy="10.5" r="0.48" fill="#ee7272" opacity="0.6"/>
<circle cx="22.6" cy="12.9" r="0.47" fill="#ee7272" opacity="0.6"/>
<circle cx="7.2" cy="8.4" r="0.35" fill="#8c1418" opacity="0.6"/>
<circle cx="11.0" cy="11.8" r="0.45" fill="#8c1418" opacity="0.6"/>
<circle cx="0.1" cy="6.2" r="0.39" fill="#8c1418" opacity="0.6"/>
<circle cx="1.0" cy="0.5" r="0.50" fill="#8c1418" opacity="0.6"/>
<circle cx="13.6" cy="12.4" r="0.73" fill="#ee7272" opacity="0.6"/>
<circle cx="16.6" cy="20.7" r="0.54" fill="#8c1418" opacity="0.6"/>
<circle cx="22.9" cy="3.5" r="0.71" fill="#ee7272" opacity="0.6"/>
<circle cx="1.0" cy="19.6" r="0.80" fill="#ee7272" opacity="0.6"/>
<circle cx="17.1" cy="19.1" r="0.42" fill="#8c1418" opacity="0.6"/>
<circle cx="11.7" cy="19.6" r="0.75" fill="#ee7272" opacity="0.6"/>
<circle cx="13.6" cy="21.0" r="0.69" fill="#ee7272" opacity="0.6"/>
<circle cx="5.3" cy="0.7" r="0.42" fill="#8c1418" opacity="0.6"/>
<circle cx="2.4" cy="19.7" r="0.63" fill="#ee7272" opacity="0.6"/>
<circle cx="14.6" cy="16.0" r="0.59" fill="#8c1418" opacity="0.6"/>
<circle cx="18.5" cy="17.6" r="0.60" fill="#8c1418" opacity="0.6"/>
<circle cx="15.3" cy="1.6" r="0.72" fill="#8c1418" opacity="0.6"/>
<circle cx="1.7" cy="6.2" r="0.71" fill="#8c1418" opacity="0.6"/>
<circle cx="17.2" cy="22.9" r="0.60" fill="#8c1418" opacity="0.6"/>
<circle cx="11.1" cy="16.1" r="0.73" fill="#ee7272" opacity="0.6"/>
<circle cx="14.9" cy="1.8" r="0.42" fill="#8c1418" opacity="0.6"/>
<circle cx="17.3" cy="7.2" r="0.63" fill="#8c1418" opacity="0.6"/>
<circle cx="1.4" cy="6.3" r="0.69" fill="#ee7272" opacity="0.6"/>
<circle cx="15.7" cy="6.8" r="0.61" fill="#8c1418" opacity="0.6"/>
<circle cx="10.8" cy="2.8" r="0.80" fill="#8c1418" opacity="0.6"/>
<circle cx="22.7" cy="22.0" r="0.36" fill="#8c1418" opacity="0.6"/>
<circle cx="19.1" cy="22.8" r="0.57" fill="#8c1418" opacity="0.6"/>
<circle cx="4.9" cy="22.2" r="0.46" fill="#8c1418" opacity="0.6"/>
<circle cx="3.3" cy="12.3" r="0.83" fill="#8c1418" opacity="0.6"/>
<circle cx="19.1" cy="12.0" r="0.79" fill="#ee7272" opacity="0.6"/>
<circle cx="5.4" cy="21.1" r="0.59" fill="#8c1418" opacity="0.6"/>
<circle cx="0.1" cy="11.6" r="0.58" fill="#8c1418" opacity="0.6"/>
<circle cx="3.3" cy="8.1" r="0.51" fill="#ee7272" opacity="0.6"/>
<circle cx="0.0" cy="17.6" r="0.77" fill="#8c1418" opacity="0.6"/>
<circle cx="21.5" cy="16.8" r="0.80" fill="#8c1418" opacity="0.6"/>
<circle cx="8.7" cy="9.2" r="0.85" fill="#8c1418" opacity="0.6"/>
<circle cx="8.4" cy="10.1" r="0.49" fill="#8c1418" opacity="0.6"/>
<circle cx="2.4" cy="19.6" r="0.49" fill="#ee7272" opacity="0.6"/>
<circle cx="5.8" cy="6.2" r="0.61" fill="#8c1418" opacity="0.6"/>
<circle cx="8.7" cy="22.5" r="0.79" fill="#ee7272" opacity="0.6"/>
<circle cx="14.7" cy="21.5" r="0.82" fill="#8c1418" opacity="0.6"/>
<circle cx="16.7" cy="1.2" r="0.72" fill="#8c1418" opacity="0.6"/>
<circle cx="17.5" cy="15.2" r="0.49" fill="#8c1418" opacity="0.6"/>
<circle cx="21.5" cy="3.0" r="0.59" fill="#8c1418" opacity="0.6"/>
<circle cx="6.9" cy="17.4" r="0.84" fill="#8c1418" opacity="0.6"/>
<circle cx="15.3" cy="7.1" r="0.63" fill="#8c1418" opacity="0.6"/>
<circle cx="3.9" cy="3.8" r="0.45" fill="#ee7272" opacity="0.6"/>
<circle cx="11.6" cy="5.2" r="0.80" fill="#ee7272" opacity="0.6"/>
<circle cx="10.5" cy="3.3" r="0.45" fill="#8c1418" opacity="0.6"/>
<circle cx="8.0" cy="2.1" r="0.47" fill="#8c1418" opacity="0.6"/>
<circle cx="13.2" cy="20.9" r="0.72" fill="#8c1418" opacity="0.6"/>
<circle cx="9.6" cy="12.3" r="0.54" fill="#8c1418" opacity="0.6"/>
<circle cx="1.4" cy="6.5" r="0.83" fill="#8c1418" opacity="0.6"/>
<circle cx="11.7" cy="14.8" r="0.78" fill="#8c1418" opacity="0.6"/>
<circle cx="6.3" cy="5.8" r="0.55" fill="#8c1418" opacity="0.6"/>
<circle cx="22.2" cy="20.0" r="0.79" fill="#8c1418" opacity="0.6"/>
<circle cx="0.7" cy="16.7" r="0.80" fill="#8c1418" opacity="0.6"/>
<circle cx="13.7" cy="0.0" r="0.55" fill="#ee7272" opacity="0.6"/>
<circle cx="19.2" cy="20.1" r="0.84" fill="#8c1418" opacity="0.6"/>
<circle cx="2.5" cy="3.6" r="0.61" fill="#ee7272" opacity="0.6"/>
<circle cx="21.9" cy="17.0" r="0.67" fill="#ee7272" opacity="0.6"/>
<circle cx="10.6" cy="13.0" r="0.37" fill="#ee7272" opacity="0.6"/>
<circle cx="5.4" cy="21.6" r="0.67" fill="#8c1418" opacity="0.6"/>
<circle cx="3.0" cy="5.9" r="0.67" fill="#ee7272" opacity="0.6"/>
<circle cx="2.6" cy="1.7" r="0.61" fill="#8c1418" opacity="0.6"/>
<circle cx="9.0" cy="5.3" r="0.65" fill="#8c1418" opacity="0.6"/>
<circle cx="7.0" cy="10.8" r="0.83" fill="#ee7272" opacity="0.6"/>
<circle cx="20.5" cy="11.2" r="0.47" fill="#8c1418" opacity="0.6"/>
<circle cx="22.3" cy="16.6" r="0.50" fill="#8c1418" opacity="0.6"/>
<circle cx="11.6" cy="15.9" r="0.56" fill="#8c1418" opacity="0.6"/>
<circle cx="15.5" cy="21.8" r="0.46" fill="#8c1418" opacity="0.6"/>
<circle cx="7.9" cy="9.9" r="0.69" fill="#8c1418" opacity="0.6"/>
<circle cx="18.5" cy="17.4" r="0.60" fill="#8c1418" opacity="0.6"/>
<circle cx="22.5" cy="7.3" r="0.76" fill="#8c1418" opacity="0.6"/>
<circle cx="5.1" cy="17.9" r="0.50" fill="#ee7272" opacity="0.6"/>
<circle cx="11.5" cy="4.4" r="0.46" fill="#8c1418" opacity="0.6"/>
<circle cx="15.5" cy="22.3" r="0.42" fill="#8c1418" opacity="0.6"/>
<circle cx="5.0" cy="22.9" r="0.42" fill="#8c1418" opacity="0.6"/>
<circle cx="1.4" cy="9.2" r="0.80" fill="#ee7272" opacity="0.6"/>
<circle cx="17.0" cy="23.5" r="0.82" fill="#8c1418" opacity="0.6"/>
<circle cx="4.3" cy="22.0" r="0.72" fill="#8c1418" opacity="0.6"/>
<circle cx="15.4" cy="8.9" r="0.54" fill="#8c1418" opacity="0.6"/>
<circle cx="3.9" cy="0.1" r="0.49" fill="#8c1418" opacity="0.6"/>
<circle cx="22.2" cy="2.9" r="0.83" fill="#8c1418" opacity="0.6"/>
<circle cx="8.3" cy="19.3" r="0.76" fill="#8c1418" opacity="0.6"/>
<circle cx="1.1" cy="11.1" r="0.54" fill="#ee7272" opacity="0.6"/>
</g></g>
<g id="pb"><path d="M2.81,2.30 4.34,2.55 5.37,4.34 7.15,3.83 8.69,2.55 9.45,1.02 11.24,0.00 12.77,0.77 13.54,2.55 14.05,3.83 16.35,4.60 18.40,4.09 20.18,4.34 20.69,5.88 21.46,7.66 22.74,9.20 21.72,10.73 20.95,12.26 21.46,14.31 22.48,16.35 23.25,17.63 21.97,18.14 20.44,17.88 18.91,19.42 16.86,21.46 14.31,22.74 11.24,23.51 8.69,22.74 6.13,21.46 4.09,20.44 2.55,18.40 1.02,16.86 0.00,14.82 0.77,13.29 2.55,13.03 4.34,12.26 5.11,10.73 4.85,8.69 3.58,7.15 3.07,5.11Z" fill="url(#gb)" stroke="#1c64ce" stroke-width="0.9" stroke-linejoin="round"/><g clip-path="url(#bclip)">
<circle cx="7.5" cy="3.5" r="0.68" fill="#0a3c92" opacity="0.6"/>
<circle cx="12.5" cy="8.6" r="0.38" fill="#0a3c92" opacity="0.6"/>
<circle cx="0.9" cy="10.2" r="0.38" fill="#0a3c92" opacity="0.6"/>
<circle cx="9.9" cy="19.4" r="0.41" fill="#0a3c92" opacity="0.6"/>
<circle cx="14.6" cy="22.3" r="0.64" fill="#0a3c92" opacity="0.6"/>
<circle cx="22.7" cy="1.1" r="0.78" fill="#0a3c92" opacity="0.6"/>
<circle cx="3.4" cy="2.8" r="0.50" fill="#5a9aee" opacity="0.6"/>
<circle cx="4.2" cy="13.7" r="0.67" fill="#0a3c92" opacity="0.6"/>
<circle cx="12.7" cy="1.5" r="0.38" fill="#0a3c92" opacity="0.6"/>
<circle cx="15.8" cy="10.1" r="0.51" fill="#0a3c92" opacity="0.6"/>
<circle cx="10.5" cy="7.0" r="0.75" fill="#5a9aee" opacity="0.6"/>
<circle cx="5.7" cy="13.5" r="0.61" fill="#5a9aee" opacity="0.6"/>
<circle cx="17.0" cy="6.8" r="0.84" fill="#0a3c92" opacity="0.6"/>
<circle cx="9.7" cy="17.8" r="0.43" fill="#0a3c92" opacity="0.6"/>
<circle cx="0.9" cy="15.7" r="0.73" fill="#0a3c92" opacity="0.6"/>
<circle cx="20.4" cy="7.4" r="0.70" fill="#0a3c92" opacity="0.6"/>
<circle cx="13.5" cy="10.7" r="0.77" fill="#5a9aee" opacity="0.6"/>
<circle cx="11.0" cy="15.6" r="0.38" fill="#5a9aee" opacity="0.6"/>
<circle cx="15.0" cy="23.3" r="0.76" fill="#0a3c92" opacity="0.6"/>
<circle cx="9.0" cy="15.7" r="0.36" fill="#0a3c92" opacity="0.6"/>
<circle cx="3.9" cy="2.8" r="0.38" fill="#5a9aee" opacity="0.6"/>
<circle cx="3.0" cy="5.8" r="0.55" fill="#5a9aee" opacity="0.6"/>
<circle cx="1.9" cy="10.6" r="0.62" fill="#5a9aee" opacity="0.6"/>
<circle cx="19.0" cy="20.3" r="0.49" fill="#0a3c92" opacity="0.6"/>
<circle cx="8.3" cy="20.8" r="0.83" fill="#0a3c92" opacity="0.6"/>
<circle cx="4.1" cy="5.5" r="0.47" fill="#0a3c92" opacity="0.6"/>
<circle cx="13.7" cy="6.2" r="0.35" fill="#0a3c92" opacity="0.6"/>
<circle cx="8.6" cy="13.3" r="0.83" fill="#5a9aee" opacity="0.6"/>
<circle cx="12.0" cy="14.5" r="0.69" fill="#0a3c92" opacity="0.6"/>
<circle cx="20.9" cy="18.3" r="0.79" fill="#5a9aee" opacity="0.6"/>
<circle cx="9.1" cy="9.4" r="0.40" fill="#5a9aee" opacity="0.6"/>
<circle cx="1.4" cy="1.6" r="0.45" fill="#0a3c92" opacity="0.6"/>
<circle cx="7.9" cy="1.2" r="0.35" fill="#0a3c92" opacity="0.6"/>
<circle cx="2.4" cy="8.5" r="0.36" fill="#5a9aee" opacity="0.6"/>
<circle cx="14.3" cy="3.5" r="0.48" fill="#0a3c92" opacity="0.6"/>
<circle cx="8.5" cy="2.9" r="0.77" fill="#5a9aee" opacity="0.6"/>
<circle cx="10.8" cy="11.4" r="0.39" fill="#0a3c92" opacity="0.6"/>
<circle cx="8.0" cy="6.2" r="0.76" fill="#0a3c92" opacity="0.6"/>
<circle cx="0.5" cy="22.4" r="0.61" fill="#0a3c92" opacity="0.6"/>
<circle cx="12.6" cy="0.6" r="0.61" fill="#5a9aee" opacity="0.6"/>
<circle cx="20.1" cy="16.4" r="0.48" fill="#0a3c92" opacity="0.6"/>
<circle cx="3.9" cy="18.1" r="0.62" fill="#5a9aee" opacity="0.6"/>
<circle cx="7.7" cy="5.2" r="0.76" fill="#5a9aee" opacity="0.6"/>
<circle cx="19.8" cy="19.0" r="0.76" fill="#5a9aee" opacity="0.6"/>
<circle cx="5.3" cy="12.2" r="0.53" fill="#0a3c92" opacity="0.6"/>
<circle cx="0.6" cy="6.6" r="0.48" fill="#5a9aee" opacity="0.6"/>
<circle cx="22.2" cy="10.5" r="0.82" fill="#5a9aee" opacity="0.6"/>
<circle cx="22.2" cy="8.6" r="0.46" fill="#0a3c92" opacity="0.6"/>
<circle cx="4.6" cy="4.8" r="0.66" fill="#5a9aee" opacity="0.6"/>
<circle cx="19.5" cy="11.3" r="0.68" fill="#5a9aee" opacity="0.6"/>
<circle cx="2.0" cy="15.5" r="0.80" fill="#5a9aee" opacity="0.6"/>
<circle cx="17.4" cy="11.2" r="0.44" fill="#5a9aee" opacity="0.6"/>
<circle cx="7.7" cy="18.8" r="0.84" fill="#0a3c92" opacity="0.6"/>
<circle cx="9.3" cy="22.3" r="0.71" fill="#0a3c92" opacity="0.6"/>
<circle cx="3.0" cy="3.6" r="0.80" fill="#5a9aee" opacity="0.6"/>
<circle cx="3.4" cy="19.4" r="0.84" fill="#5a9aee" opacity="0.6"/>
<circle cx="8.1" cy="12.9" r="0.42" fill="#0a3c92" opacity="0.6"/>
<circle cx="22.6" cy="15.3" r="0.61" fill="#5a9aee" opacity="0.6"/>
<circle cx="10.1" cy="20.5" r="0.76" fill="#0a3c92" opacity="0.6"/>
<circle cx="5.9" cy="6.9" r="0.47" fill="#0a3c92" opacity="0.6"/>
<circle cx="6.0" cy="9.9" r="0.42" fill="#5a9aee" opacity="0.6"/>
<circle cx="8.2" cy="10.8" r="0.64" fill="#5a9aee" opacity="0.6"/>
<circle cx="9.8" cy="21.6" r="0.60" fill="#0a3c92" opacity="0.6"/>
<circle cx="12.2" cy="0.4" r="0.57" fill="#0a3c92" opacity="0.6"/>
<circle cx="0.1" cy="18.8" r="0.44" fill="#0a3c92" opacity="0.6"/>
<circle cx="16.9" cy="13.1" r="0.51" fill="#0a3c92" opacity="0.6"/>
<circle cx="12.9" cy="18.4" r="0.40" fill="#0a3c92" opacity="0.6"/>
<circle cx="5.8" cy="6.5" r="0.74" fill="#0a3c92" opacity="0.6"/>
<circle cx="13.1" cy="17.9" r="0.81" fill="#0a3c92" opacity="0.6"/>
<circle cx="14.2" cy="11.9" r="0.61" fill="#5a9aee" opacity="0.6"/>
<circle cx="10.5" cy="12.5" r="0.59" fill="#5a9aee" opacity="0.6"/>
<circle cx="16.3" cy="20.6" r="0.82" fill="#0a3c92" opacity="0.6"/>
<circle cx="13.0" cy="22.2" r="0.77" fill="#0a3c92" opacity="0.6"/>
<circle cx="2.8" cy="10.4" r="0.39" fill="#0a3c92" opacity="0.6"/>
<circle cx="1.7" cy="15.7" r="0.74" fill="#5a9aee" opacity="0.6"/>
<circle cx="3.6" cy="16.8" r="0.68" fill="#0a3c92" opacity="0.6"/>
<circle cx="20.5" cy="22.7" r="0.46" fill="#5a9aee" opacity="0.6"/>
<circle cx="9.3" cy="11.5" r="0.84" fill="#5a9aee" opacity="0.6"/>
<circle cx="3.8" cy="10.1" r="0.61" fill="#0a3c92" opacity="0.6"/>
<circle cx="4.6" cy="7.5" r="0.71" fill="#0a3c92" opacity="0.6"/>
<circle cx="12.9" cy="10.4" r="0.36" fill="#0a3c92" opacity="0.6"/>
<circle cx="14.5" cy="12.0" r="0.38" fill="#5a9aee" opacity="0.6"/>
<circle cx="18.3" cy="22.8" r="0.40" fill="#0a3c92" opacity="0.6"/>
<circle cx="0.9" cy="18.3" r="0.49" fill="#0a3c92" opacity="0.6"/>
<circle cx="9.8" cy="21.4" r="0.76" fill="#0a3c92" opacity="0.6"/>
<circle cx="3.5" cy="21.6" r="0.64" fill="#5a9aee" opacity="0.6"/>
<circle cx="2.1" cy="1.4" r="0.69" fill="#0a3c92" opacity="0.6"/>
<circle cx="1.7" cy="22.1" r="0.67" fill="#5a9aee" opacity="0.6"/>
<circle cx="1.9" cy="20.1" r="0.38" fill="#5a9aee" opacity="0.6"/>
<circle cx="10.6" cy="8.0" r="0.63" fill="#5a9aee" opacity="0.6"/>
<circle cx="6.2" cy="3.0" r="0.61" fill="#0a3c92" opacity="0.6"/>
<circle cx="2.5" cy="3.8" r="0.38" fill="#0a3c92" opacity="0.6"/>
<circle cx="7.3" cy="7.2" r="0.73" fill="#0a3c92" opacity="0.6"/>
<circle cx="11.6" cy="4.2" r="0.52" fill="#0a3c92" opacity="0.6"/>
<circle cx="5.8" cy="0.4" r="0.72" fill="#0a3c92" opacity="0.6"/>
<circle cx="4.4" cy="11.2" r="0.82" fill="#0a3c92" opacity="0.6"/>
<circle cx="19.0" cy="10.2" r="0.60" fill="#5a9aee" opacity="0.6"/>
<circle cx="9.1" cy="11.9" r="0.69" fill="#5a9aee" opacity="0.6"/>
<circle cx="8.0" cy="19.6" r="0.70" fill="#5a9aee" opacity="0.6"/>
<circle cx="9.4" cy="8.2" r="0.38" fill="#0a3c92" opacity="0.6"/>
<circle cx="1.6" cy="17.4" r="0.48" fill="#0a3c92" opacity="0.6"/>
<circle cx="2.0" cy="19.8" r="0.79" fill="#5a9aee" opacity="0.6"/>
<circle cx="6.6" cy="5.7" r="0.50" fill="#0a3c92" opacity="0.6"/>
<circle cx="3.7" cy="10.5" r="0.48" fill="#5a9aee" opacity="0.6"/>
<circle cx="22.6" cy="12.9" r="0.47" fill="#5a9aee" opacity="0.6"/>
<circle cx="7.2" cy="8.4" r="0.35" fill="#0a3c92" opacity="0.6"/>
<circle cx="11.0" cy="11.8" r="0.45" fill="#0a3c92" opacity="0.6"/>
<circle cx="0.1" cy="6.2" r="0.39" fill="#0a3c92" opacity="0.6"/>
<circle cx="1.0" cy="0.5" r="0.50" fill="#0a3c92" opacity="0.6"/>
<circle cx="13.6" cy="12.4" r="0.73" fill="#5a9aee" opacity="0.6"/>
<circle cx="16.6" cy="20.7" r="0.54" fill="#0a3c92" opacity="0.6"/>
<circle cx="22.9" cy="3.5" r="0.71" fill="#5a9aee" opacity="0.6"/>
<circle cx="1.0" cy="19.6" r="0.80" fill="#5a9aee" opacity="0.6"/>
<circle cx="17.1" cy="19.1" r="0.42" fill="#0a3c92" opacity="0.6"/>
<circle cx="11.7" cy="19.6" r="0.75" fill="#5a9aee" opacity="0.6"/>
<circle cx="13.6" cy="21.0" r="0.69" fill="#5a9aee" opacity="0.6"/>
<circle cx="5.3" cy="0.7" r="0.42" fill="#0a3c92" opacity="0.6"/>
<circle cx="2.4" cy="19.7" r="0.63" fill="#5a9aee" opacity="0.6"/>
<circle cx="14.6" cy="16.0" r="0.59" fill="#0a3c92" opacity="0.6"/>
<circle cx="18.5" cy="17.6" r="0.60" fill="#0a3c92" opacity="0.6"/>
<circle cx="15.3" cy="1.6" r="0.72" fill="#0a3c92" opacity="0.6"/>
<circle cx="1.7" cy="6.2" r="0.71" fill="#0a3c92" opacity="0.6"/>
<circle cx="17.2" cy="22.9" r="0.60" fill="#0a3c92" opacity="0.6"/>
<circle cx="11.1" cy="16.1" r="0.73" fill="#5a9aee" opacity="0.6"/>
<circle cx="14.9" cy="1.8" r="0.42" fill="#0a3c92" opacity="0.6"/>
<circle cx="17.3" cy="7.2" r="0.63" fill="#0a3c92" opacity="0.6"/>
<circle cx="1.4" cy="6.3" r="0.69" fill="#5a9aee" opacity="0.6"/>
<circle cx="15.7" cy="6.8" r="0.61" fill="#0a3c92" opacity="0.6"/>
<circle cx="10.8" cy="2.8" r="0.80" fill="#0a3c92" opacity="0.6"/>
<circle cx="22.7" cy="22.0" r="0.36" fill="#0a3c92" opacity="0.6"/>
<circle cx="19.1" cy="22.8" r="0.57" fill="#0a3c92" opacity="0.6"/>
<circle cx="4.9" cy="22.2" r="0.46" fill="#0a3c92" opacity="0.6"/>
<circle cx="3.3" cy="12.3" r="0.83" fill="#0a3c92" opacity="0.6"/>
<circle cx="19.1" cy="12.0" r="0.79" fill="#5a9aee" opacity="0.6"/>
<circle cx="5.4" cy="21.1" r="0.59" fill="#0a3c92" opacity="0.6"/>
<circle cx="0.1" cy="11.6" r="0.58" fill="#0a3c92" opacity="0.6"/>
<circle cx="3.3" cy="8.1" r="0.51" fill="#5a9aee" opacity="0.6"/>
<circle cx="0.0" cy="17.6" r="0.77" fill="#0a3c92" opacity="0.6"/>
<circle cx="21.5" cy="16.8" r="0.80" fill="#0a3c92" opacity="0.6"/>
<circle cx="8.7" cy="9.2" r="0.85" fill="#0a3c92" opacity="0.6"/>
<circle cx="8.4" cy="10.1" r="0.49" fill="#0a3c92" opacity="0.6"/>
<circle cx="2.4" cy="19.6" r="0.49" fill="#5a9aee" opacity="0.6"/>
<circle cx="5.8" cy="6.2" r="0.61" fill="#0a3c92" opacity="0.6"/>
<circle cx="8.7" cy="22.5" r="0.79" fill="#5a9aee" opacity="0.6"/>
<circle cx="14.7" cy="21.5" r="0.82" fill="#0a3c92" opacity="0.6"/>
<circle cx="16.7" cy="1.2" r="0.72" fill="#0a3c92" opacity="0.6"/>
<circle cx="17.5" cy="15.2" r="0.49" fill="#0a3c92" opacity="0.6"/>
<circle cx="21.5" cy="3.0" r="0.59" fill="#0a3c92" opacity="0.6"/>
<circle cx="6.9" cy="17.4" r="0.84" fill="#0a3c92" opacity="0.6"/>
<circle cx="15.3" cy="7.1" r="0.63" fill="#0a3c92" opacity="0.6"/>
<circle cx="3.9" cy="3.8" r="0.45" fill="#5a9aee" opacity="0.6"/>
<circle cx="11.6" cy="5.2" r="0.80" fill="#5a9aee" opacity="0.6"/>
<circle cx="10.5" cy="3.3" r="0.45" fill="#0a3c92" opacity="0.6"/>
<circle cx="8.0" cy="2.1" r="0.47" fill="#0a3c92" opacity="0.6"/>
<circle cx="13.2" cy="20.9" r="0.72" fill="#0a3c92" opacity="0.6"/>
<circle cx="9.6" cy="12.3" r="0.54" fill="#0a3c92" opacity="0.6"/>
<circle cx="1.4" cy="6.5" r="0.83" fill="#0a3c92" opacity="0.6"/>
<circle cx="11.7" cy="14.8" r="0.78" fill="#0a3c92" opacity="0.6"/>
<circle cx="6.3" cy="5.8" r="0.55" fill="#0a3c92" opacity="0.6"/>
<circle cx="22.2" cy="20.0" r="0.79" fill="#0a3c92" opacity="0.6"/>
<circle cx="0.7" cy="16.7" r="0.80" fill="#0a3c92" opacity="0.6"/>
<circle cx="13.7" cy="0.0" r="0.55" fill="#5a9aee" opacity="0.6"/>
<circle cx="19.2" cy="20.1" r="0.84" fill="#0a3c92" opacity="0.6"/>
<circle cx="2.5" cy="3.6" r="0.61" fill="#5a9aee" opacity="0.6"/>
<circle cx="21.9" cy="17.0" r="0.67" fill="#5a9aee" opacity="0.6"/>
<circle cx="10.6" cy="13.0" r="0.37" fill="#5a9aee" opacity="0.6"/>
<circle cx="5.4" cy="21.6" r="0.67" fill="#0a3c92" opacity="0.6"/>
<circle cx="3.0" cy="5.9" r="0.67" fill="#5a9aee" opacity="0.6"/>
<circle cx="2.6" cy="1.7" r="0.61" fill="#0a3c92" opacity="0.6"/>
<circle cx="9.0" cy="5.3" r="0.65" fill="#0a3c92" opacity="0.6"/>
<circle cx="7.0" cy="10.8" r="0.83" fill="#5a9aee" opacity="0.6"/>
<circle cx="20.5" cy="11.2" r="0.47" fill="#0a3c92" opacity="0.6"/>
<circle cx="22.3" cy="16.6" r="0.50" fill="#0a3c92" opacity="0.6"/>
<circle cx="11.6" cy="15.9" r="0.56" fill="#0a3c92" opacity="0.6"/>
<circle cx="15.5" cy="21.8" r="0.46" fill="#0a3c92" opacity="0.6"/>
<circle cx="7.9" cy="9.9" r="0.69" fill="#0a3c92" opacity="0.6"/>
<circle cx="18.5" cy="17.4" r="0.60" fill="#0a3c92" opacity="0.6"/>
<circle cx="22.5" cy="7.3" r="0.76" fill="#0a3c92" opacity="0.6"/>
<circle cx="5.1" cy="17.9" r="0.50" fill="#5a9aee" opacity="0.6"/>
<circle cx="11.5" cy="4.4" r="0.46" fill="#0a3c92" opacity="0.6"/>
<circle cx="15.5" cy="22.3" r="0.42" fill="#0a3c92" opacity="0.6"/>
<circle cx="5.0" cy="22.9" r="0.42" fill="#0a3c92" opacity="0.6"/>
<circle cx="1.4" cy="9.2" r="0.80" fill="#5a9aee" opacity="0.6"/>
<circle cx="17.0" cy="23.5" r="0.82" fill="#0a3c92" opacity="0.6"/>
<circle cx="4.3" cy="22.0" r="0.72" fill="#0a3c92" opacity="0.6"/>
<circle cx="15.4" cy="8.9" r="0.54" fill="#0a3c92" opacity="0.6"/>
<circle cx="3.9" cy="0.1" r="0.49" fill="#0a3c92" opacity="0.6"/>
<circle cx="22.2" cy="2.9" r="0.83" fill="#0a3c92" opacity="0.6"/>
<circle cx="8.3" cy="19.3" r="0.76" fill="#0a3c92" opacity="0.6"/>
<circle cx="1.1" cy="11.1" r="0.54" fill="#5a9aee" opacity="0.6"/>
</g></g>
<g id="chev"><rect x="-11.7" y="-0.6" width="11.2" height="1.3" fill="#cfcfcf"/><polyline points="-9.5,-6 0,0 -9.5,5.4" fill="none" stroke="#858585" stroke-width="0.95"/><circle cx="-0.6" cy="0" r="0.8" fill="#444"/></g>
</defs>
<text font-family='"Liberation Sans", sans-serif' font-size="20" font-weight="bold" transform="translate(0.60,14.60)">A</text>
<text font-family='"Liberation Sans", sans-serif' font-size="20" font-weight="bold" transform="translate(254.20,14.60)">B</text>
<text font-family='"Liberation Sans", sans-serif' font-size="20" font-weight="bold" transform="translate(540.40,14.60)">C</text>
<text font-family='"Liberation Sans", sans-serif' font-size="20" font-weight="bold" transform="translate(254.20,233.00)">D</text>
<text font-family='"Liberation Sans", sans-serif' font-size="20" font-weight="bold" transform="translate(540.60,237.00)">E</text>
<text font-family='"Liberation Sans", sans-serif' font-size="20" font-weight="bold" transform="translate(-0.80,469.60)">F</text>
<text font-family='"Liberation Sans", sans-serif' font-size="20" font-weight="bold" transform="translate(254.00,470.20)">G</text>
<text font-family='"Liberation Sans", sans-serif' font-size="20" font-weight="bold" transform="translate(511.60,474.30)">H</text>
<line x1="33.60" y1="149.00" x2="33.60" y2="240.40" stroke="#9a9a9a" stroke-width="0.9"/>
<line x1="8.40" y1="194.30" x2="8.40" y2="333.00" stroke="#9a9a9a" stroke-width="0.9"/>
<line x1="58.70" y1="210.50" x2="58.70" y2="271.70" stroke="#9a9a9a" stroke-width="0.9"/>
<line x1="33.60" y1="149.00" x2="84.00" y2="149.00" stroke="#555" stroke-width="1.0"/>
<line x1="8.00" y1="194.30" x2="33.60" y2="194.30" stroke="#555" stroke-width="1.0"/>
<line x1="33.60" y1="240.40" x2="58.70" y2="240.40" stroke="#555" stroke-width="1.0"/>
<line x1="58.70" y1="210.50" x2="84.00" y2="210.50" stroke="#555" stroke-width="1.0"/>
<line x1="58.70" y1="271.70" x2="84.00" y2="271.70" stroke="#555" stroke-width="1.0"/>
<line x1="8.00" y1="333.00" x2="84.00" y2="333.00" stroke="#555" stroke-width="1.0"/>
<text font-family='"Liberation Sans", sans-serif' font-size="13.7" transform="translate(89.80,154.50) scale(1,1.06)">122E</text>
<text font-family='"Liberation Sans", sans-serif' font-size="13.7" transform="translate(89.80,215.00) scale(1,1.06)">45B</text>
<text font-family='"Liberation Sans", sans-serif' font-size="13.7" transform="translate(89.80,274.10) scale(1,1.06)">YU2</text>
<text font-family='"Liberation Sans", sans-serif' font-size="13.7" transform="translate(89.80,335.80) scale(1,1.06)">92C</text>
<use href="#pb" transform="translate(125.50,137.40) scale(0.981,0.987)"/>
<use href="#pc" transform="translate(125.50,195.50) scale(0.981,0.987)"/>
<use href="#py" transform="translate(125.50,255.70) scale(0.981,0.987)"/>
<use href="#pr" transform="translate(125.50,318.10) scale(0.981,0.987)"/>
<text font-family='"Liberation Sans", sans-serif' font-size="13.7" transform="translate(155.60,148.00) scale(1,1.06)">(TH976.17</text>
<text font-family='"Liberation Sans", sans-serif' font-size="13.7" transform="translate(155.60,165.00) scale(1,1.06)">Clade E)</text>
<text font-family='"Liberation Sans", sans-serif' font-size="13.7" transform="translate(157.80,207.70) scale(1,1.06)">(HT593.1</text>
<text font-family='"Liberation Sans", sans-serif' font-size="13.7" transform="translate(157.80,224.20) scale(1,1.06)">Clade B)</text>
<text font-family='"Liberation Sans", sans-serif' font-size="13.7" transform="translate(155.00,272.60) scale(1,1.06)">(Clade B)</text>
<text font-family='"Liberation Sans", sans-serif' font-size="13.7" transform="translate(157.80,329.30) scale(1,1.06)">(ZM215.8</text>
<text font-family='"Liberation Sans", sans-serif' font-size="13.7" transform="translate(157.80,345.90) scale(1,1.06)">Clade C)</text>
<use href="#py" transform="translate(279.60,43.20) scale(0.981,0.987)"/>
<use href="#pc" transform="translate(323.00,44.20) scale(0.981,0.987)"/>
<use href="#pr" transform="translate(365.70,43.60) scale(0.981,0.987)"/>
<use href="#pb" transform="translate(410.70,44.70) scale(0.981,0.987)"/>
<use href="#chev" x="317.00" y="56.30"/>
<use href="#chev" x="361.20" y="56.30"/>
<use href="#chev" x="405.50" y="56.30"/>
<use href="#chev" x="450.20" y="56.30"/>
<text font-family='"Liberation Sans", sans-serif' font-size="13.7" text-anchor="middle" transform="translate(288.20,35.80) scale(1,1.06)">YU2</text>
<text font-family='"Liberation Sans", sans-serif' font-size="13.7" text-anchor="middle" transform="translate(332.80,35.80) scale(1,1.06)">45B</text>
<text font-family='"Liberation Sans", sans-serif' font-size="13.7" text-anchor="middle" transform="translate(376.70,35.80) scale(1,1.06)">92C</text>
<text font-family='"Liberation Sans", sans-serif' font-size="13.7" text-anchor="middle" transform="translate(423.00,35.80) scale(1,1.06)">122E</text>
<text font-family='"Liberation Sans", sans-serif' font-size="13.7" transform="translate(453.30,59.20) scale(1,1.06)">sample</text>
<use href="#pb" transform="translate(279.60,257.80) scale(0.981,0.987)"/>
<use href="#pb" transform="translate(323.00,258.80) scale(0.981,0.987)"/>
<use href="#pb" transform="translate(365.70,258.20) scale(0.981,0.987)"/>
<use href="#pb" transform="translate(410.70,259.30) scale(0.981,0.987)"/>
<use href="#chev" x="317.00" y="270.90"/>
<use href="#chev" x="361.20" y="270.90"/>
<use href="#chev" x="405.50" y="270.90"/>
<use href="#chev" x="450.20" y="270.90"/>
<text font-family='"Liberation Sans", sans-serif' font-size="13.7" text-anchor="middle" transform="translate(291.00,250.40) scale(1,1.06)">122E</text>
<text font-family='"Liberation Sans", sans-serif' font-size="13.7" text-anchor="middle" transform="translate(337.20,250.40) scale(1,1.06)">122E</text>
<text font-family='"Liberation Sans", sans-serif' font-size="13.7" text-anchor="middle" transform="translate(377.00,250.40) scale(1,1.06)">122E</text>
<text font-family='"Liberation Sans", sans-serif' font-size="13.7" text-anchor="middle" transform="translate(423.00,250.40) scale(1,1.06)">122E</text>
<text font-family='"Liberation Sans", sans-serif' font-size="13.7" transform="translate(453.30,273.80) scale(1,1.06)">sample</text>
<use href="#py" transform="translate(26.10,496.00) scale(0.981,0.987)"/>
<use href="#pc" transform="translate(69.50,497.00) scale(0.981,0.987)"/>
<use href="#pr" transform="translate(112.20,496.40) scale(0.981,0.987)"/>
<use href="#pb" transform="translate(157.20,497.50) scale(0.981,0.987)"/>
<use href="#chev" x="63.50" y="509.10"/>
<use href="#chev" x="107.70" y="509.10"/>
<use href="#chev" x="152.00" y="509.10"/>
<use href="#chev" x="196.70" y="509.10"/>
<text font-family='"Liberation Sans", sans-serif' font-size="13.7" text-anchor="middle" transform="translate(34.70,488.60) scale(1,1.06)">YU2</text>
<text font-family='"Liberation Sans", sans-serif' font-size="13.7" text-anchor="middle" transform="translate(79.30,488.60) scale(1,1.06)">45B</text>
<text font-family='"Liberation Sans", sans-serif' font-size="13.7" text-anchor="middle" transform="translate(123.20,488.60) scale(1,1.06)">92C</text>
<text font-family='"Liberation Sans", sans-serif' font-size="13.7" text-anchor="middle" transform="translate(169.50,488.60) scale(1,1.06)">122E</text>
<text font-family='"Liberation Sans", sans-serif' font-size="13.7" transform="translate(203.00,512.00) scale(1,1.06)">sample</text>
<use href="#pb" transform="translate(282.00,497.40) scale(0.981,0.987)"/>
<use href="#pb" transform="translate(325.40,498.40) scale(0.981,0.987)"/>
<use href="#pb" transform="translate(368.10,497.80) scale(0.981,0.987)"/>
<use href="#pb" transform="translate(413.10,498.90) scale(0.981,0.987)"/>
<use href="#chev" x="319.40" y="510.50"/>
<use href="#chev" x="363.60" y="510.50"/>
<use href="#chev" x="407.90" y="510.50"/>
<use href="#chev" x="452.60" y="510.50"/>
<text font-family='"Liberation Sans", sans-serif' font-size="13.7" text-anchor="middle" transform="translate(293.40,490.00) scale(1,1.06)">122E</text>
<text font-family='"Liberation Sans", sans-serif' font-size="13.7" text-anchor="middle" transform="translate(339.60,490.00) scale(1,1.06)">122E</text>
<text font-family='"Liberation Sans", sans-serif' font-size="13.7" text-anchor="middle" transform="translate(379.40,490.00) scale(1,1.06)">122E</text>
<text font-family='"Liberation Sans", sans-serif' font-size="13.7" text-anchor="middle" transform="translate(425.40,490.00) scale(1,1.06)">122E</text>
<text font-family='"Liberation Sans", sans-serif' font-size="13.7" transform="translate(458.10,513.40) scale(1,1.06)">sample</text>
<line x1="304.80" y1="85.10" x2="304.80" y2="184.30" stroke="#000" stroke-width="1.4"/>
<line x1="304.10" y1="183.70" x2="451.60" y2="183.70" stroke="#000" stroke-width="1.4"/>
<line x1="301.60" y1="183.70" x2="304.80" y2="183.70" stroke="#000" stroke-width="1.2"/>
<text font-family='"Liberation Serif", serif' font-size="13" font-style="italic" text-anchor="end" transform="translate(298.00,188.30) scale(1,1.2)">0</text>
<line x1="301.60" y1="159.20" x2="304.80" y2="159.20" stroke="#000" stroke-width="1.2"/>
<text font-family='"Liberation Serif", serif' font-size="13" font-style="italic" text-anchor="end" transform="translate(298.00,163.80) scale(1,1.2)">1</text>
<line x1="301.60" y1="134.70" x2="304.80" y2="134.70" stroke="#000" stroke-width="1.2"/>
<text font-family='"Liberation Serif", serif' font-size="13" font-style="italic" text-anchor="end" transform="translate(298.00,139.30) scale(1,1.2)">2</text>
<line x1="301.60" y1="110.20" x2="304.80" y2="110.20" stroke="#000" stroke-width="1.2"/>
<text font-family='"Liberation Serif", serif' font-size="13" font-style="italic" text-anchor="end" transform="translate(298.00,114.80) scale(1,1.2)">3</text>
<line x1="301.60" y1="85.70" x2="304.80" y2="85.70" stroke="#000" stroke-width="1.2"/>
<text font-family='"Liberation Serif", serif' font-size="13" font-style="italic" text-anchor="end" transform="translate(298.00,90.30) scale(1,1.2)">4</text>
<line x1="304.80" y1="183.70" x2="304.80" y2="186.70" stroke="#000" stroke-width="1.3"/>
<text font-family='"Liberation Serif", serif' font-size="14.5" font-style="italic" text-anchor="middle" transform="translate(306.00,201.90) scale(1,1.12)">10<tspan font-size="8.2" dy="-3.2">1</tspan></text>
<line x1="313.64" y1="183.70" x2="313.64" y2="185.70" stroke="#000" stroke-width="0.8"/>
<line x1="318.81" y1="183.70" x2="318.81" y2="185.70" stroke="#000" stroke-width="0.8"/>
<line x1="322.48" y1="183.70" x2="322.48" y2="185.70" stroke="#000" stroke-width="0.8"/>
<line x1="325.32" y1="183.70" x2="325.32" y2="185.70" stroke="#000" stroke-width="0.8"/>
<line x1="327.65" y1="183.70" x2="327.65" y2="185.70" stroke="#000" stroke-width="0.8"/>
<line x1="329.61" y1="183.70" x2="329.61" y2="185.70" stroke="#000" stroke-width="0.8"/>
<line x1="331.31" y1="183.70" x2="331.31" y2="185.70" stroke="#000" stroke-width="0.8"/>
<line x1="332.82" y1="183.70" x2="332.82" y2="185.70" stroke="#000" stroke-width="0.8"/>
<line x1="334.16" y1="183.70" x2="334.16" y2="186.70" stroke="#000" stroke-width="1.3"/>
<text font-family='"Liberation Serif", serif' font-size="14.5" font-style="italic" text-anchor="middle" transform="translate(335.36,201.90) scale(1,1.12)">10<tspan font-size="8.2" dy="-3.2">2</tspan></text>
<line x1="343.00" y1="183.70" x2="343.00" y2="185.70" stroke="#000" stroke-width="0.8"/>
<line x1="348.17" y1="183.70" x2="348.17" y2="185.70" stroke="#000" stroke-width="0.8"/>
<line x1="351.84" y1="183.70" x2="351.84" y2="185.70" stroke="#000" stroke-width="0.8"/>
<line x1="354.68" y1="183.70" x2="354.68" y2="185.70" stroke="#000" stroke-width="0.8"/>
<line x1="357.01" y1="183.70" x2="357.01" y2="185.70" stroke="#000" stroke-width="0.8"/>
<line x1="358.97" y1="183.70" x2="358.97" y2="185.70" stroke="#000" stroke-width="0.8"/>
<line x1="360.67" y1="183.70" x2="360.67" y2="185.70" stroke="#000" stroke-width="0.8"/>
<line x1="362.18" y1="183.70" x2="362.18" y2="185.70" stroke="#000" stroke-width="0.8"/>
<line x1="363.52" y1="183.70" x2="363.52" y2="186.70" stroke="#000" stroke-width="1.3"/>
<text font-family='"Liberation Serif", serif' font-size="14.5" font-style="italic" text-anchor="middle" transform="translate(364.72,201.90) scale(1,1.12)">10<tspan font-size="8.2" dy="-3.2">3</tspan></text>
<line x1="372.36" y1="183.70" x2="372.36" y2="185.70" stroke="#000" stroke-width="0.8"/>
<line x1="377.53" y1="183.70" x2="377.53" y2="185.70" stroke="#000" stroke-width="0.8"/>
<line x1="381.20" y1="183.70" x2="381.20" y2="185.70" stroke="#000" stroke-width="0.8"/>
<line x1="384.04" y1="183.70" x2="384.04" y2="185.70" stroke="#000" stroke-width="0.8"/>
<line x1="386.37" y1="183.70" x2="386.37" y2="185.70" stroke="#000" stroke-width="0.8"/>
<line x1="388.33" y1="183.70" x2="388.33" y2="185.70" stroke="#000" stroke-width="0.8"/>
<line x1="390.03" y1="183.70" x2="390.03" y2="185.70" stroke="#000" stroke-width="0.8"/>
<line x1="391.54" y1="183.70" x2="391.54" y2="185.70" stroke="#000" stroke-width="0.8"/>
<line x1="392.88" y1="183.70" x2="392.88" y2="186.70" stroke="#000" stroke-width="1.3"/>
<text font-family='"Liberation Serif", serif' font-size="14.5" font-style="italic" text-anchor="middle" transform="translate(394.08,201.90) scale(1,1.12)">10<tspan font-size="8.2" dy="-3.2">4</tspan></text>
<line x1="401.72" y1="183.70" x2="401.72" y2="185.70" stroke="#000" stroke-width="0.8"/>
<line x1="406.89" y1="183.70" x2="406.89" y2="185.70" stroke="#000" stroke-width="0.8"/>
<line x1="410.56" y1="183.70" x2="410.56" y2="185.70" stroke="#000" stroke-width="0.8"/>
<line x1="413.40" y1="183.70" x2="413.40" y2="185.70" stroke="#000" stroke-width="0.8"/>
<line x1="415.73" y1="183.70" x2="415.73" y2="185.70" stroke="#000" stroke-width="0.8"/>
<line x1="417.69" y1="183.70" x2="417.69" y2="185.70" stroke="#000" stroke-width="0.8"/>
<line x1="419.39" y1="183.70" x2="419.39" y2="185.70" stroke="#000" stroke-width="0.8"/>
<line x1="420.90" y1="183.70" x2="420.90" y2="185.70" stroke="#000" stroke-width="0.8"/>
<line x1="422.24" y1="183.70" x2="422.24" y2="186.70" stroke="#000" stroke-width="1.3"/>
<text font-family='"Liberation Serif", serif' font-size="14.5" font-style="italic" text-anchor="middle" transform="translate(423.44,201.90) scale(1,1.12)">10<tspan font-size="8.2" dy="-3.2">5</tspan></text>
<line x1="431.08" y1="183.70" x2="431.08" y2="185.70" stroke="#000" stroke-width="0.8"/>
<line x1="436.25" y1="183.70" x2="436.25" y2="185.70" stroke="#000" stroke-width="0.8"/>
<line x1="439.92" y1="183.70" x2="439.92" y2="185.70" stroke="#000" stroke-width="0.8"/>
<line x1="442.76" y1="183.70" x2="442.76" y2="185.70" stroke="#000" stroke-width="0.8"/>
<line x1="445.09" y1="183.70" x2="445.09" y2="185.70" stroke="#000" stroke-width="0.8"/>
<line x1="447.05" y1="183.70" x2="447.05" y2="185.70" stroke="#000" stroke-width="0.8"/>
<line x1="448.75" y1="183.70" x2="448.75" y2="185.70" stroke="#000" stroke-width="0.8"/>
<line x1="450.26" y1="183.70" x2="450.26" y2="185.70" stroke="#000" stroke-width="0.8"/>
<line x1="451.60" y1="183.70" x2="451.60" y2="186.70" stroke="#000" stroke-width="1.3"/>
<text font-family='"Liberation Serif", serif' font-size="14.5" font-style="italic" text-anchor="middle" transform="translate(452.80,201.90) scale(1,1.12)">10<tspan font-size="8.2" dy="-3.2">6</tspan></text>
<polyline points="322.48,143.10 340.15,160.80 357.83,172.60 375.51,178.40 393.18,181.20 410.86,182.50 428.54,183.00" fill="none" stroke="#d8302a" stroke-width="1.1"/>
<line x1="322.48" y1="128.00" x2="322.48" y2="158.40" stroke="#d8302a" stroke-width="1.0"/>
<line x1="320.08" y1="128.00" x2="324.88" y2="128.00" stroke="#d8302a" stroke-width="1.0"/>
<line x1="320.08" y1="158.40" x2="324.88" y2="158.40" stroke="#d8302a" stroke-width="1.0"/>
<line x1="340.15" y1="148.50" x2="340.15" y2="172.90" stroke="#d8302a" stroke-width="1.0"/>
<line x1="337.75" y1="148.50" x2="342.55" y2="148.50" stroke="#d8302a" stroke-width="1.0"/>
<line x1="337.75" y1="172.90" x2="342.55" y2="172.90" stroke="#d8302a" stroke-width="1.0"/>
<line x1="357.83" y1="163.40" x2="357.83" y2="181.20" stroke="#d8302a" stroke-width="1.0"/>
<line x1="355.43" y1="163.40" x2="360.23" y2="163.40" stroke="#d8302a" stroke-width="1.0"/>
<line x1="355.43" y1="181.20" x2="360.23" y2="181.20" stroke="#d8302a" stroke-width="1.0"/>
<line x1="375.51" y1="175.50" x2="375.51" y2="181.00" stroke="#d8302a" stroke-width="1.0"/>
<line x1="373.11" y1="175.50" x2="377.91" y2="175.50" stroke="#d8302a" stroke-width="1.0"/>
<line x1="373.11" y1="181.00" x2="377.91" y2="181.00" stroke="#d8302a" stroke-width="1.0"/>
<rect x="320.38" y="141.00" width="4.2" height="4.2" fill="#d8302a"/>
<rect x="338.05" y="158.70" width="4.2" height="4.2" fill="#d8302a"/>
<rect x="355.73" y="170.50" width="4.2" height="4.2" fill="#d8302a"/>
<rect x="373.41" y="176.30" width="4.2" height="4.2" fill="#d8302a"/>
<rect x="391.08" y="179.10" width="4.2" height="4.2" fill="#d8302a"/>
<rect x="408.76" y="180.40" width="4.2" height="4.2" fill="#d8302a"/>
<rect x="426.44" y="180.90" width="4.2" height="4.2" fill="#d8302a"/>
<polyline points="322.48,112.30 340.15,127.10 357.83,146.40 375.51,165.60 393.18,176.30 410.86,181.00 428.54,181.90" fill="none" stroke="#000" stroke-width="1.1"/>
<line x1="322.48" y1="100.20" x2="322.48" y2="125.30" stroke="#000" stroke-width="1.0"/>
<line x1="320.08" y1="100.20" x2="324.88" y2="100.20" stroke="#000" stroke-width="1.0"/>
<line x1="320.08" y1="125.30" x2="324.88" y2="125.30" stroke="#000" stroke-width="1.0"/>
<line x1="340.15" y1="118.40" x2="340.15" y2="135.50" stroke="#000" stroke-width="1.0"/>
<line x1="337.75" y1="118.40" x2="342.55" y2="118.40" stroke="#000" stroke-width="1.0"/>
<line x1="337.75" y1="135.50" x2="342.55" y2="135.50" stroke="#000" stroke-width="1.0"/>
<line x1="357.83" y1="134.10" x2="357.83" y2="158.50" stroke="#000" stroke-width="1.0"/>
<line x1="355.43" y1="134.10" x2="360.23" y2="134.10" stroke="#000" stroke-width="1.0"/>
<line x1="355.43" y1="158.50" x2="360.23" y2="158.50" stroke="#000" stroke-width="1.0"/>
<line x1="375.51" y1="156.50" x2="375.51" y2="174.90" stroke="#000" stroke-width="1.0"/>
<line x1="373.11" y1="156.50" x2="377.91" y2="156.50" stroke="#000" stroke-width="1.0"/>
<line x1="373.11" y1="174.90" x2="377.91" y2="174.90" stroke="#000" stroke-width="1.0"/>
<line x1="393.18" y1="172.20" x2="393.18" y2="179.80" stroke="#000" stroke-width="1.0"/>
<line x1="390.78" y1="172.20" x2="395.58" y2="172.20" stroke="#000" stroke-width="1.0"/>
<line x1="390.78" y1="179.80" x2="395.58" y2="179.80" stroke="#000" stroke-width="1.0"/>
<circle cx="322.48" cy="112.30" r="2.1" fill="#000"/>
<circle cx="340.15" cy="127.10" r="2.1" fill="#000"/>
<circle cx="357.83" cy="146.40" r="2.1" fill="#000"/>
<circle cx="375.51" cy="165.60" r="2.1" fill="#000"/>
<circle cx="393.18" cy="176.30" r="2.1" fill="#000"/>
<circle cx="410.86" cy="181.00" r="2.1" fill="#000"/>
<circle cx="428.54" cy="181.90" r="2.1" fill="#000"/>
<line x1="387.70" y1="120.90" x2="404.30" y2="120.90" stroke="#000" stroke-width="1.3"/>
<circle cx="395.90" cy="120.90" r="2.6" fill="#000"/>
<text font-family='"Liberation Sans", sans-serif' font-size="14" transform="translate(414.00,124.90)">WT</text>
<line x1="387.70" y1="138.10" x2="404.30" y2="138.10" stroke="#d8302a" stroke-width="1.3"/>
<rect x="393.30" y="135.50" width="5.2" height="5.2" fill="#d8302a"/>
<text font-family='"Liberation Sans", sans-serif' font-size="14" transform="translate(414.00,142.10)">D368R</text>
<text font-family='"Liberation Sans", sans-serif' font-size="13.7" text-anchor="middle" transform="translate(277.60,131.00) rotate(-90) scale(1,1.06)">OD (450nm)</text>
<text font-family='"Liberation Sans", sans-serif' font-size="13.7" text-anchor="middle" transform="translate(376.00,219.70) scale(1,1.06)">Serum dilution</text>
<line x1="305.60" y1="300.80" x2="305.60" y2="400.00" stroke="#000" stroke-width="1.4"/>
<line x1="304.90" y1="399.40" x2="453.40" y2="399.40" stroke="#000" stroke-width="1.4"/>
<line x1="302.40" y1="399.40" x2="305.60" y2="399.40" stroke="#000" stroke-width="1.2"/>
<text font-family='"Liberation Serif", serif' font-size="13" font-style="italic" text-anchor="end" transform="translate(298.80,404.00) scale(1,1.2)">0</text>
<line x1="302.40" y1="374.90" x2="305.60" y2="374.90" stroke="#000" stroke-width="1.2"/>
<text font-family='"Liberation Serif", serif' font-size="13" font-style="italic" text-anchor="end" transform="translate(298.80,379.50) scale(1,1.2)">1</text>
<line x1="302.40" y1="350.40" x2="305.60" y2="350.40" stroke="#000" stroke-width="1.2"/>
<text font-family='"Liberation Serif", serif' font-size="13" font-style="italic" text-anchor="end" transform="translate(298.80,355.00) scale(1,1.2)">2</text>
<line x1="302.40" y1="325.90" x2="305.60" y2="325.90" stroke="#000" stroke-width="1.2"/>
<text font-family='"Liberation Serif", serif' font-size="13" font-style="italic" text-anchor="end" transform="translate(298.80,330.50) scale(1,1.2)">3</text>
<line x1="302.40" y1="301.40" x2="305.60" y2="301.40" stroke="#000" stroke-width="1.2"/>
<text font-family='"Liberation Serif", serif' font-size="13" font-style="italic" text-anchor="end" transform="translate(298.80,306.00) scale(1,1.2)">4</text>
<line x1="305.60" y1="399.40" x2="305.60" y2="402.40" stroke="#000" stroke-width="1.3"/>
<text font-family='"Liberation Serif", serif' font-size="14.5" font-style="italic" text-anchor="middle" transform="translate(306.80,417.60) scale(1,1.12)">10<tspan font-size="8.2" dy="-3.2">1</tspan></text>
<line x1="314.50" y1="399.40" x2="314.50" y2="401.40" stroke="#000" stroke-width="0.8"/>
<line x1="319.70" y1="399.40" x2="319.70" y2="401.40" stroke="#000" stroke-width="0.8"/>
<line x1="323.40" y1="399.40" x2="323.40" y2="401.40" stroke="#000" stroke-width="0.8"/>
<line x1="326.26" y1="399.40" x2="326.26" y2="401.40" stroke="#000" stroke-width="0.8"/>
<line x1="328.60" y1="399.40" x2="328.60" y2="401.40" stroke="#000" stroke-width="0.8"/>
<line x1="330.58" y1="399.40" x2="330.58" y2="401.40" stroke="#000" stroke-width="0.8"/>
<line x1="332.30" y1="399.40" x2="332.30" y2="401.40" stroke="#000" stroke-width="0.8"/>
<line x1="333.81" y1="399.40" x2="333.81" y2="401.40" stroke="#000" stroke-width="0.8"/>
<line x1="335.16" y1="399.40" x2="335.16" y2="402.40" stroke="#000" stroke-width="1.3"/>
<text font-family='"Liberation Serif", serif' font-size="14.5" font-style="italic" text-anchor="middle" transform="translate(336.36,417.60) scale(1,1.12)">10<tspan font-size="8.2" dy="-3.2">2</tspan></text>
<line x1="344.06" y1="399.40" x2="344.06" y2="401.40" stroke="#000" stroke-width="0.8"/>
<line x1="349.26" y1="399.40" x2="349.26" y2="401.40" stroke="#000" stroke-width="0.8"/>
<line x1="352.96" y1="399.40" x2="352.96" y2="401.40" stroke="#000" stroke-width="0.8"/>
<line x1="355.82" y1="399.40" x2="355.82" y2="401.40" stroke="#000" stroke-width="0.8"/>
<line x1="358.16" y1="399.40" x2="358.16" y2="401.40" stroke="#000" stroke-width="0.8"/>
<line x1="360.14" y1="399.40" x2="360.14" y2="401.40" stroke="#000" stroke-width="0.8"/>
<line x1="361.86" y1="399.40" x2="361.86" y2="401.40" stroke="#000" stroke-width="0.8"/>
<line x1="363.37" y1="399.40" x2="363.37" y2="401.40" stroke="#000" stroke-width="0.8"/>
<line x1="364.72" y1="399.40" x2="364.72" y2="402.40" stroke="#000" stroke-width="1.3"/>
<text font-family='"Liberation Serif", serif' font-size="14.5" font-style="italic" text-anchor="middle" transform="translate(365.92,417.60) scale(1,1.12)">10<tspan font-size="8.2" dy="-3.2">3</tspan></text>
<line x1="373.62" y1="399.40" x2="373.62" y2="401.40" stroke="#000" stroke-width="0.8"/>
<line x1="378.82" y1="399.40" x2="378.82" y2="401.40" stroke="#000" stroke-width="0.8"/>
<line x1="382.52" y1="399.40" x2="382.52" y2="401.40" stroke="#000" stroke-width="0.8"/>
<line x1="385.38" y1="399.40" x2="385.38" y2="401.40" stroke="#000" stroke-width="0.8"/>
<line x1="387.72" y1="399.40" x2="387.72" y2="401.40" stroke="#000" stroke-width="0.8"/>
<line x1="389.70" y1="399.40" x2="389.70" y2="401.40" stroke="#000" stroke-width="0.8"/>
<line x1="391.42" y1="399.40" x2="391.42" y2="401.40" stroke="#000" stroke-width="0.8"/>
<line x1="392.93" y1="399.40" x2="392.93" y2="401.40" stroke="#000" stroke-width="0.8"/>
<line x1="394.28" y1="399.40" x2="394.28" y2="402.40" stroke="#000" stroke-width="1.3"/>
<text font-family='"Liberation Serif", serif' font-size="14.5" font-style="italic" text-anchor="middle" transform="translate(395.48,417.60) scale(1,1.12)">10<tspan font-size="8.2" dy="-3.2">4</tspan></text>
<line x1="403.18" y1="399.40" x2="403.18" y2="401.40" stroke="#000" stroke-width="0.8"/>
<line x1="408.38" y1="399.40" x2="408.38" y2="401.40" stroke="#000" stroke-width="0.8"/>
<line x1="412.08" y1="399.40" x2="412.08" y2="401.40" stroke="#000" stroke-width="0.8"/>
<line x1="414.94" y1="399.40" x2="414.94" y2="401.40" stroke="#000" stroke-width="0.8"/>
<line x1="417.28" y1="399.40" x2="417.28" y2="401.40" stroke="#000" stroke-width="0.8"/>
<line x1="419.26" y1="399.40" x2="419.26" y2="401.40" stroke="#000" stroke-width="0.8"/>
<line x1="420.98" y1="399.40" x2="420.98" y2="401.40" stroke="#000" stroke-width="0.8"/>
<line x1="422.49" y1="399.40" x2="422.49" y2="401.40" stroke="#000" stroke-width="0.8"/>
<line x1="423.84" y1="399.40" x2="423.84" y2="402.40" stroke="#000" stroke-width="1.3"/>
<text font-family='"Liberation Serif", serif' font-size="14.5" font-style="italic" text-anchor="middle" transform="translate(425.04,417.60) scale(1,1.12)">10<tspan font-size="8.2" dy="-3.2">5</tspan></text>
<line x1="432.74" y1="399.40" x2="432.74" y2="401.40" stroke="#000" stroke-width="0.8"/>
<line x1="437.94" y1="399.40" x2="437.94" y2="401.40" stroke="#000" stroke-width="0.8"/>
<line x1="441.64" y1="399.40" x2="441.64" y2="401.40" stroke="#000" stroke-width="0.8"/>
<line x1="444.50" y1="399.40" x2="444.50" y2="401.40" stroke="#000" stroke-width="0.8"/>
<line x1="446.84" y1="399.40" x2="446.84" y2="401.40" stroke="#000" stroke-width="0.8"/>
<line x1="448.82" y1="399.40" x2="448.82" y2="401.40" stroke="#000" stroke-width="0.8"/>
<line x1="450.54" y1="399.40" x2="450.54" y2="401.40" stroke="#000" stroke-width="0.8"/>
<line x1="452.05" y1="399.40" x2="452.05" y2="401.40" stroke="#000" stroke-width="0.8"/>
<line x1="453.40" y1="399.40" x2="453.40" y2="402.40" stroke="#000" stroke-width="1.3"/>
<text font-family='"Liberation Serif", serif' font-size="14.5" font-style="italic" text-anchor="middle" transform="translate(454.60,417.60) scale(1,1.12)">10<tspan font-size="8.2" dy="-3.2">6</tspan></text>
<polyline points="323.40,326.30 341.19,337.70 358.99,362.10 376.79,384.60 394.58,394.60 412.38,397.40 430.18,398.50" fill="none" stroke="#d8302a" stroke-width="1.1"/>
<line x1="323.40" y1="317.40" x2="323.40" y2="335.00" stroke="#d8302a" stroke-width="1.0"/>
<line x1="321.00" y1="317.40" x2="325.80" y2="317.40" stroke="#d8302a" stroke-width="1.0"/>
<line x1="321.00" y1="335.00" x2="325.80" y2="335.00" stroke="#d8302a" stroke-width="1.0"/>
<line x1="341.19" y1="326.60" x2="341.19" y2="349.40" stroke="#d8302a" stroke-width="1.0"/>
<line x1="338.79" y1="326.60" x2="343.59" y2="326.60" stroke="#d8302a" stroke-width="1.0"/>
<line x1="338.79" y1="349.40" x2="343.59" y2="349.40" stroke="#d8302a" stroke-width="1.0"/>
<line x1="358.99" y1="343.30" x2="358.99" y2="380.70" stroke="#d8302a" stroke-width="1.0"/>
<line x1="356.59" y1="343.30" x2="361.39" y2="343.30" stroke="#d8302a" stroke-width="1.0"/>
<line x1="356.59" y1="380.70" x2="361.39" y2="380.70" stroke="#d8302a" stroke-width="1.0"/>
<line x1="376.79" y1="375.50" x2="376.79" y2="392.50" stroke="#d8302a" stroke-width="1.0"/>
<line x1="374.39" y1="375.50" x2="379.19" y2="375.50" stroke="#d8302a" stroke-width="1.0"/>
<line x1="374.39" y1="392.50" x2="379.19" y2="392.50" stroke="#d8302a" stroke-width="1.0"/>
<rect x="321.30" y="324.20" width="4.2" height="4.2" fill="#d8302a"/>
<rect x="339.09" y="335.60" width="4.2" height="4.2" fill="#d8302a"/>
<rect x="356.89" y="360.00" width="4.2" height="4.2" fill="#d8302a"/>
<rect x="374.69" y="382.50" width="4.2" height="4.2" fill="#d8302a"/>
<rect x="392.48" y="392.50" width="4.2" height="4.2" fill="#d8302a"/>
<rect x="410.28" y="395.30" width="4.2" height="4.2" fill="#d8302a"/>
<rect x="428.08" y="396.40" width="4.2" height="4.2" fill="#d8302a"/>
<polyline points="323.40,334.20 341.19,349.80 358.99,365.10 376.79,382.30 394.58,393.00 412.38,396.30 430.18,397.60" fill="none" stroke="#000" stroke-width="1.1"/>
<line x1="323.40" y1="320.20" x2="323.40" y2="347.60" stroke="#000" stroke-width="1.0"/>
<line x1="321.00" y1="320.20" x2="325.80" y2="320.20" stroke="#000" stroke-width="1.0"/>
<line x1="321.00" y1="347.60" x2="325.80" y2="347.60" stroke="#000" stroke-width="1.0"/>
<line x1="341.19" y1="335.70" x2="341.19" y2="361.60" stroke="#000" stroke-width="1.0"/>
<line x1="338.79" y1="335.70" x2="343.59" y2="335.70" stroke="#000" stroke-width="1.0"/>
<line x1="338.79" y1="361.60" x2="343.59" y2="361.60" stroke="#000" stroke-width="1.0"/>
<line x1="358.99" y1="356.30" x2="358.99" y2="374.30" stroke="#000" stroke-width="1.0"/>
<line x1="356.59" y1="356.30" x2="361.39" y2="356.30" stroke="#000" stroke-width="1.0"/>
<line x1="356.59" y1="374.30" x2="361.39" y2="374.30" stroke="#000" stroke-width="1.0"/>
<line x1="376.79" y1="375.80" x2="376.79" y2="386.00" stroke="#000" stroke-width="1.0"/>
<line x1="374.39" y1="375.80" x2="379.19" y2="375.80" stroke="#000" stroke-width="1.0"/>
<line x1="374.39" y1="386.00" x2="379.19" y2="386.00" stroke="#000" stroke-width="1.0"/>
<line x1="394.58" y1="391.00" x2="394.58" y2="395.00" stroke="#000" stroke-width="1.0"/>
<line x1="392.18" y1="391.00" x2="396.98" y2="391.00" stroke="#000" stroke-width="1.0"/>
<line x1="392.18" y1="395.00" x2="396.98" y2="395.00" stroke="#000" stroke-width="1.0"/>
<circle cx="323.40" cy="334.20" r="2.1" fill="#000"/>
<circle cx="341.19" cy="349.80" r="2.1" fill="#000"/>
<circle cx="358.99" cy="365.10" r="2.1" fill="#000"/>
<circle cx="376.79" cy="382.30" r="2.1" fill="#000"/>
<circle cx="394.58" cy="393.00" r="2.1" fill="#000"/>
<circle cx="412.38" cy="396.30" r="2.1" fill="#000"/>
<circle cx="430.18" cy="397.60" r="2.1" fill="#000"/>
<line x1="396.40" y1="332.40" x2="413.00" y2="332.40" stroke="#000" stroke-width="1.3"/>
<circle cx="404.60" cy="332.40" r="2.6" fill="#000"/>
<text font-family='"Liberation Sans", sans-serif' font-size="14" transform="translate(422.70,336.40)">WT</text>
<line x1="396.40" y1="349.60" x2="413.00" y2="349.60" stroke="#d8302a" stroke-width="1.3"/>
<rect x="402.00" y="347.00" width="5.2" height="5.2" fill="#d8302a"/>
<text font-family='"Liberation Sans", sans-serif' font-size="14" transform="translate(422.70,353.60)">D368R</text>
<text font-family='"Liberation Sans", sans-serif' font-size="13.7" text-anchor="middle" transform="translate(278.40,346.70) rotate(-90) scale(1,1.06)">OD (450nm)</text>
<text font-family='"Liberation Sans", sans-serif' font-size="13.7" text-anchor="middle" transform="translate(376.00,435.40) scale(1,1.06)">Serum dilution</text>
<line x1="593.90" y1="86.80" x2="593.90" y2="186.20" stroke="#000" stroke-width="1.2"/>
<line x1="593.30" y1="185.60" x2="658.40" y2="185.60" stroke="#000" stroke-width="1.2"/>
<line x1="589.70" y1="185.60" x2="593.90" y2="185.60" stroke="#000" stroke-width="1.1"/>
<text font-family='"Liberation Serif", serif' font-size="14" font-style="italic" text-anchor="end" transform="translate(587.50,190.50) scale(1,1.2)">0</text>
<line x1="589.70" y1="152.83" x2="593.90" y2="152.83" stroke="#000" stroke-width="1.1"/>
<text font-family='"Liberation Serif", serif' font-size="14" font-style="italic" text-anchor="end" transform="translate(587.50,157.73) scale(1,1.2)">2000</text>
<line x1="589.70" y1="120.07" x2="593.90" y2="120.07" stroke="#000" stroke-width="1.1"/>
<text font-family='"Liberation Serif", serif' font-size="14" font-style="italic" text-anchor="end" transform="translate(587.50,124.97) scale(1,1.2)">4000</text>
<line x1="589.70" y1="87.30" x2="593.90" y2="87.30" stroke="#000" stroke-width="1.1"/>
<text font-family='"Liberation Serif", serif' font-size="14" font-style="italic" text-anchor="end" transform="translate(587.50,92.20) scale(1,1.2)">6000</text>
<line x1="611.90" y1="185.60" x2="611.90" y2="189.00" stroke="#000" stroke-width="1.1"/>
<line x1="640.40" y1="185.60" x2="640.40" y2="189.00" stroke="#000" stroke-width="1.1"/>
<text font-family='"Liberation Serif", serif' font-size="14" font-style="italic" transform="translate(600.30,75.90) scale(1,1.2)">P = 0.0208</text>
<line x1="616.70" y1="86.30" x2="646.50" y2="86.30" stroke="#444" stroke-width="1.0"/>
<line x1="611.90" y1="113.30" x2="640.40" y2="171.60" stroke="#111" stroke-width="0.75"/>
<line x1="611.90" y1="123.30" x2="640.40" y2="143.60" stroke="#111" stroke-width="0.75"/>
<line x1="611.90" y1="137.00" x2="640.40" y2="168.00" stroke="#111" stroke-width="0.75"/>
<line x1="611.90" y1="154.10" x2="640.40" y2="175.10" stroke="#111" stroke-width="0.75"/>
<line x1="611.90" y1="155.50" x2="640.40" y2="177.40" stroke="#111" stroke-width="0.75"/>
<circle cx="611.90" cy="113.30" r="1.6" fill="#000"/><circle cx="640.40" cy="171.60" r="1.6" fill="#000"/>
<circle cx="611.90" cy="123.30" r="1.6" fill="#000"/><circle cx="640.40" cy="143.60" r="1.6" fill="#000"/>
<circle cx="611.90" cy="137.00" r="1.6" fill="#000"/><circle cx="640.40" cy="168.00" r="1.6" fill="#000"/>
<circle cx="611.90" cy="154.10" r="1.6" fill="#000"/><circle cx="640.40" cy="175.10" r="1.6" fill="#000"/>
<circle cx="611.90" cy="155.50" r="1.6" fill="#000"/><circle cx="640.40" cy="177.40" r="1.6" fill="#000"/>
<text font-family='"Liberation Sans", sans-serif' font-size="13.7" text-anchor="middle" transform="translate(547.60,130.50) rotate(-90) scale(1,1.06)">AUC</text>
<text font-family='"Liberation Sans", sans-serif' font-size="13.7" transform="translate(593.90,212.90) rotate(-23.4) scale(1,1.06)">WT</text>
<text font-family='"Liberation Sans", sans-serif' font-size="13.7" transform="translate(624.30,215.40) rotate(-23.4) scale(1,1.06)">D368R</text>
<line x1="593.50" y1="300.90" x2="593.50" y2="399.10" stroke="#000" stroke-width="1.2"/>
<line x1="592.90" y1="398.50" x2="658.30" y2="398.50" stroke="#000" stroke-width="1.2"/>
<line x1="589.30" y1="398.50" x2="593.50" y2="398.50" stroke="#000" stroke-width="1.1"/>
<text font-family='"Liberation Serif", serif' font-size="14" font-style="italic" text-anchor="end" transform="translate(587.10,403.40) scale(1,1.2)">0</text>
<line x1="589.30" y1="366.13" x2="593.50" y2="366.13" stroke="#000" stroke-width="1.1"/>
<text font-family='"Liberation Serif", serif' font-size="14" font-style="italic" text-anchor="end" transform="translate(587.10,371.03) scale(1,1.2)">2000</text>
<line x1="589.30" y1="333.77" x2="593.50" y2="333.77" stroke="#000" stroke-width="1.1"/>
<text font-family='"Liberation Serif", serif' font-size="14" font-style="italic" text-anchor="end" transform="translate(587.10,338.67) scale(1,1.2)">4000</text>
<line x1="589.30" y1="301.40" x2="593.50" y2="301.40" stroke="#000" stroke-width="1.1"/>
<text font-family='"Liberation Serif", serif' font-size="14" font-style="italic" text-anchor="end" transform="translate(587.10,306.30) scale(1,1.2)">6000</text>
<line x1="611.60" y1="398.50" x2="611.60" y2="401.90" stroke="#000" stroke-width="1.1"/>
<line x1="639.30" y1="398.50" x2="639.30" y2="401.90" stroke="#000" stroke-width="1.1"/>
<text font-family='"Liberation Serif", serif' font-size="14" font-style="italic" transform="translate(599.60,286.10) scale(1,1.2)">P = 0.908</text>
<line x1="607.50" y1="299.30" x2="636.70" y2="299.30" stroke="#444" stroke-width="1.0"/>
<line x1="611.60" y1="333.00" x2="639.30" y2="375.00" stroke="#111" stroke-width="0.75"/>
<line x1="611.60" y1="341.10" x2="639.30" y2="328.10" stroke="#111" stroke-width="0.75"/>
<line x1="611.60" y1="345.70" x2="639.30" y2="343.60" stroke="#111" stroke-width="0.75"/>
<line x1="611.60" y1="358.40" x2="639.30" y2="362.80" stroke="#111" stroke-width="0.75"/>
<line x1="611.60" y1="363.50" x2="639.30" y2="317.40" stroke="#111" stroke-width="0.75"/>
<circle cx="611.60" cy="333.00" r="1.6" fill="#000"/><circle cx="639.30" cy="375.00" r="1.6" fill="#000"/>
<circle cx="611.60" cy="341.10" r="1.6" fill="#000"/><circle cx="639.30" cy="328.10" r="1.6" fill="#000"/>
<circle cx="611.60" cy="345.70" r="1.6" fill="#000"/><circle cx="639.30" cy="343.60" r="1.6" fill="#000"/>
<circle cx="611.60" cy="358.40" r="1.6" fill="#000"/><circle cx="639.30" cy="362.80" r="1.6" fill="#000"/>
<circle cx="611.60" cy="363.50" r="1.6" fill="#000"/><circle cx="639.30" cy="317.40" r="1.6" fill="#000"/>
<text font-family='"Liberation Sans", sans-serif' font-size="13.7" text-anchor="middle" transform="translate(546.40,341.50) rotate(-90) scale(1,1.06)">AUC</text>
<text font-family='"Liberation Sans", sans-serif' font-size="13.7" transform="translate(593.20,427.60) rotate(-23.4) scale(1,1.06)">WT</text>
<text font-family='"Liberation Sans", sans-serif' font-size="13.7" transform="translate(623.50,429.60) rotate(-23.4) scale(1,1.06)">D368R</text>
<rect x="74.60" y="536.40" width="172.30" height="173.90" fill="none" stroke="#3a3a3a" stroke-width="1"/>
<line x1="69.30" y1="553.10" x2="74.60" y2="553.10" stroke="#222" stroke-width="1.2"/>
<line x1="69.30" y1="594.70" x2="74.60" y2="594.70" stroke="#222" stroke-width="1.2"/>
<line x1="69.30" y1="641.60" x2="74.60" y2="641.60" stroke="#222" stroke-width="1.2"/>
<line x1="69.30" y1="670.40" x2="74.60" y2="670.40" stroke="#222" stroke-width="1.2"/>
<line x1="69.30" y1="698.80" x2="74.60" y2="698.80" stroke="#222" stroke-width="1.2"/>
<line x1="71.40" y1="627.48" x2="74.60" y2="627.48" stroke="#222" stroke-width="0.8"/>
<line x1="71.40" y1="619.22" x2="74.60" y2="619.22" stroke="#222" stroke-width="0.8"/>
<line x1="71.40" y1="613.36" x2="74.60" y2="613.36" stroke="#222" stroke-width="0.8"/>
<line x1="71.40" y1="608.82" x2="74.60" y2="608.82" stroke="#222" stroke-width="0.8"/>
<line x1="71.40" y1="605.10" x2="74.60" y2="605.10" stroke="#222" stroke-width="0.8"/>
<line x1="71.40" y1="601.96" x2="74.60" y2="601.96" stroke="#222" stroke-width="0.8"/>
<line x1="71.40" y1="599.25" x2="74.60" y2="599.25" stroke="#222" stroke-width="0.8"/>
<line x1="71.40" y1="596.85" x2="74.60" y2="596.85" stroke="#222" stroke-width="0.8"/>
<line x1="71.40" y1="582.18" x2="74.60" y2="582.18" stroke="#222" stroke-width="0.8"/>
<line x1="71.40" y1="574.85" x2="74.60" y2="574.85" stroke="#222" stroke-width="0.8"/>
<line x1="71.40" y1="569.65" x2="74.60" y2="569.65" stroke="#222" stroke-width="0.8"/>
<line x1="71.40" y1="565.62" x2="74.60" y2="565.62" stroke="#222" stroke-width="0.8"/>
<line x1="71.40" y1="562.33" x2="74.60" y2="562.33" stroke="#222" stroke-width="0.8"/>
<line x1="71.40" y1="559.54" x2="74.60" y2="559.54" stroke="#222" stroke-width="0.8"/>
<line x1="71.40" y1="557.13" x2="74.60" y2="557.13" stroke="#222" stroke-width="0.8"/>
<line x1="71.40" y1="555.00" x2="74.60" y2="555.00" stroke="#222" stroke-width="0.8"/>
<line x1="71.40" y1="540.58" x2="74.60" y2="540.58" stroke="#222" stroke-width="0.8"/>
<line x1="71.40" y1="644.80" x2="74.60" y2="644.80" stroke="#222" stroke-width="0.8"/>
<line x1="71.40" y1="673.56" x2="74.60" y2="673.56" stroke="#222" stroke-width="0.8"/>
<line x1="71.40" y1="648.00" x2="74.60" y2="648.00" stroke="#222" stroke-width="0.8"/>
<line x1="71.40" y1="676.71" x2="74.60" y2="676.71" stroke="#222" stroke-width="0.8"/>
<line x1="71.40" y1="651.20" x2="74.60" y2="651.20" stroke="#222" stroke-width="0.8"/>
<line x1="71.40" y1="679.87" x2="74.60" y2="679.87" stroke="#222" stroke-width="0.8"/>
<line x1="71.40" y1="654.40" x2="74.60" y2="654.40" stroke="#222" stroke-width="0.8"/>
<line x1="71.40" y1="683.02" x2="74.60" y2="683.02" stroke="#222" stroke-width="0.8"/>
<line x1="71.40" y1="657.60" x2="74.60" y2="657.60" stroke="#222" stroke-width="0.8"/>
<line x1="71.40" y1="686.18" x2="74.60" y2="686.18" stroke="#222" stroke-width="0.8"/>
<line x1="71.40" y1="660.80" x2="74.60" y2="660.80" stroke="#222" stroke-width="0.8"/>
<line x1="71.40" y1="689.33" x2="74.60" y2="689.33" stroke="#222" stroke-width="0.8"/>
<line x1="71.40" y1="664.00" x2="74.60" y2="664.00" stroke="#222" stroke-width="0.8"/>
<line x1="71.40" y1="692.49" x2="74.60" y2="692.49" stroke="#222" stroke-width="0.8"/>
<line x1="71.40" y1="667.20" x2="74.60" y2="667.20" stroke="#222" stroke-width="0.8"/>
<line x1="71.40" y1="695.64" x2="74.60" y2="695.64" stroke="#222" stroke-width="0.8"/>
<rect x="69.30" y="666.80" width="5.3" height="7.2" fill="#111"/>
<text font-family='"Liberation Serif", serif' font-size="14.2" font-style="italic" text-anchor="end" transform="translate(66.20,558.60) scale(1,1.2)">10<tspan font-size="8.6" dy="-4.6">5</tspan></text>
<text font-family='"Liberation Serif", serif' font-size="14.2" font-style="italic" text-anchor="end" transform="translate(66.20,600.20) scale(1,1.2)">10<tspan font-size="8.6" dy="-4.6">4</tspan></text>
<text font-family='"Liberation Serif", serif' font-size="14.2" font-style="italic" text-anchor="end" transform="translate(66.20,647.10) scale(1,1.2)">10<tspan font-size="8.6" dy="-4.6">3</tspan></text>
<text font-family='"Liberation Serif", serif' font-size="14.2" font-style="italic" text-anchor="end" transform="translate(63.60,675.00) scale(1,1.2)">0</text>
<text font-family='"Liberation Serif", serif' font-size="14.2" font-style="italic" text-anchor="end" transform="translate(66.20,704.30) scale(1,1.2)">-10<tspan font-size="8.6" dy="-4.6">3</tspan></text>
<line x1="84.40" y1="710.30" x2="84.40" y2="713.50" stroke="#222" stroke-width="1.2"/>
<line x1="113.00" y1="710.30" x2="113.00" y2="713.50" stroke="#222" stroke-width="1.2"/>
<line x1="141.80" y1="710.30" x2="141.80" y2="713.50" stroke="#222" stroke-width="1.2"/>
<line x1="186.80" y1="710.30" x2="186.80" y2="713.50" stroke="#222" stroke-width="1.2"/>
<line x1="228.80" y1="710.30" x2="228.80" y2="713.50" stroke="#222" stroke-width="1.2"/>
<line x1="155.35" y1="710.30" x2="155.35" y2="712.70" stroke="#222" stroke-width="0.8"/>
<line x1="163.27" y1="710.30" x2="163.27" y2="712.70" stroke="#222" stroke-width="0.8"/>
<line x1="168.89" y1="710.30" x2="168.89" y2="712.70" stroke="#222" stroke-width="0.8"/>
<line x1="173.25" y1="710.30" x2="173.25" y2="712.70" stroke="#222" stroke-width="0.8"/>
<line x1="176.82" y1="710.30" x2="176.82" y2="712.70" stroke="#222" stroke-width="0.8"/>
<line x1="179.83" y1="710.30" x2="179.83" y2="712.70" stroke="#222" stroke-width="0.8"/>
<line x1="182.44" y1="710.30" x2="182.44" y2="712.70" stroke="#222" stroke-width="0.8"/>
<line x1="184.74" y1="710.30" x2="184.74" y2="712.70" stroke="#222" stroke-width="0.8"/>
<line x1="199.44" y1="710.30" x2="199.44" y2="712.70" stroke="#222" stroke-width="0.8"/>
<line x1="206.84" y1="710.30" x2="206.84" y2="712.70" stroke="#222" stroke-width="0.8"/>
<line x1="212.09" y1="710.30" x2="212.09" y2="712.70" stroke="#222" stroke-width="0.8"/>
<line x1="216.16" y1="710.30" x2="216.16" y2="712.70" stroke="#222" stroke-width="0.8"/>
<line x1="219.48" y1="710.30" x2="219.48" y2="712.70" stroke="#222" stroke-width="0.8"/>
<line x1="222.29" y1="710.30" x2="222.29" y2="712.70" stroke="#222" stroke-width="0.8"/>
<line x1="224.73" y1="710.30" x2="224.73" y2="712.70" stroke="#222" stroke-width="0.8"/>
<line x1="226.88" y1="710.30" x2="226.88" y2="712.70" stroke="#222" stroke-width="0.8"/>
<line x1="241.44" y1="710.30" x2="241.44" y2="712.70" stroke="#222" stroke-width="0.8"/>
<line x1="87.26" y1="710.30" x2="87.26" y2="712.70" stroke="#222" stroke-width="0.8"/>
<line x1="115.88" y1="710.30" x2="115.88" y2="712.70" stroke="#222" stroke-width="0.8"/>
<line x1="90.12" y1="710.30" x2="90.12" y2="712.70" stroke="#222" stroke-width="0.8"/>
<line x1="118.76" y1="710.30" x2="118.76" y2="712.70" stroke="#222" stroke-width="0.8"/>
<line x1="92.98" y1="710.30" x2="92.98" y2="712.70" stroke="#222" stroke-width="0.8"/>
<line x1="121.64" y1="710.30" x2="121.64" y2="712.70" stroke="#222" stroke-width="0.8"/>
<line x1="95.84" y1="710.30" x2="95.84" y2="712.70" stroke="#222" stroke-width="0.8"/>
<line x1="124.52" y1="710.30" x2="124.52" y2="712.70" stroke="#222" stroke-width="0.8"/>
<line x1="98.70" y1="710.30" x2="98.70" y2="712.70" stroke="#222" stroke-width="0.8"/>
<line x1="127.40" y1="710.30" x2="127.40" y2="712.70" stroke="#222" stroke-width="0.8"/>
<line x1="101.56" y1="710.30" x2="101.56" y2="712.70" stroke="#222" stroke-width="0.8"/>
<line x1="130.28" y1="710.30" x2="130.28" y2="712.70" stroke="#222" stroke-width="0.8"/>
<line x1="104.42" y1="710.30" x2="104.42" y2="712.70" stroke="#222" stroke-width="0.8"/>
<line x1="133.16" y1="710.30" x2="133.16" y2="712.70" stroke="#222" stroke-width="0.8"/>
<line x1="107.28" y1="710.30" x2="107.28" y2="712.70" stroke="#222" stroke-width="0.8"/>
<line x1="136.04" y1="710.30" x2="136.04" y2="712.70" stroke="#222" stroke-width="0.8"/>
<line x1="110.14" y1="710.30" x2="110.14" y2="712.70" stroke="#222" stroke-width="0.8"/>
<line x1="138.92" y1="710.30" x2="138.92" y2="712.70" stroke="#222" stroke-width="0.8"/>
<rect x="109.40" y="710.30" width="7.2" height="2.6" fill="#111"/>
<text font-family='"Liberation Serif", serif' font-size="14.2" font-style="italic" text-anchor="middle" transform="translate(80.80,727.20) scale(1,1.2)">-10<tspan font-size="8.6" dy="-4.6">3</tspan></text>
<text font-family='"Liberation Serif", serif' font-size="14.2" font-style="italic" text-anchor="middle" transform="translate(113.00,727.20) scale(1,1.2)">0</text>
<text font-family='"Liberation Serif", serif' font-size="14.2" font-style="italic" text-anchor="middle" transform="translate(140.80,727.20) scale(1,1.2)">10<tspan font-size="8.6" dy="-4.6">3</tspan></text>
<text font-family='"Liberation Serif", serif' font-size="14.2" font-style="italic" text-anchor="middle" transform="translate(185.40,727.20) scale(1,1.2)">10<tspan font-size="8.6" dy="-4.6">4</tspan></text>
<text font-family='"Liberation Serif", serif' font-size="14.2" font-style="italic" text-anchor="middle" transform="translate(226.60,727.20) scale(1,1.2)">10<tspan font-size="8.6" dy="-4.6">5</tspan></text>
<line x1="106.50" y1="644.90" x2="118.00" y2="644.90" stroke="#000" stroke-width="2.6"/>
<line x1="123.30" y1="644.90" x2="178.20" y2="644.90" stroke="#000" stroke-width="2.6"/>
<text font-family='"Liberation Sans", sans-serif' font-size="13.7" transform="translate(85.50,689.80) rotate(-50) scale(1,1.06)">D368R</text>
<text font-family='"Liberation Sans", sans-serif' font-size="13.7" transform="translate(98.20,699.50) rotate(-50) scale(1,1.06)">sensitive</text>
<text font-family='"Liberation Sans", sans-serif' font-size="13.7" transform="translate(130.90,689.60) rotate(-50) scale(1,1.06)">D368R</text>
<text font-family='"Liberation Sans", sans-serif' font-size="13.7" transform="translate(144.00,700.40) rotate(-50) scale(1,1.06)">insensitive</text>
<line x1="21.30" y1="703.00" x2="21.30" y2="753.50" stroke="#4472c4" stroke-width="1.5"/>
<line x1="21.30" y1="753.50" x2="65.00" y2="753.50" stroke="#4472c4" stroke-width="1.5"/>
<polygon points="21.30,687.60 29.90,704.30 12.70,704.30" fill="#4472c4"/>
<polygon points="80.90,753.50 64.30,745.10 64.30,761.90" fill="#4472c4"/>
<use href="#pb" transform="translate(9.60,652.00) scale(0.981,0.987)"/>
<text font-family='"Liberation Sans", sans-serif' font-size="13.7" text-anchor="middle" transform="translate(10.30,724.60) rotate(-90) scale(1,1.06)">122E-PE</text>
<text font-family='"Liberation Sans", sans-serif' font-size="13.7" transform="translate(25.40,780.40) scale(1,1.06)">122E D368R-APC</text>
<use href="#pb" transform="translate(142.50,763.80) scale(0.968,0.953)"/>
<rect x="330.00" y="536.00" width="172.30" height="173.90" fill="none" stroke="#3a3a3a" stroke-width="1"/>
<line x1="324.70" y1="552.70" x2="330.00" y2="552.70" stroke="#222" stroke-width="1.2"/>
<line x1="324.70" y1="594.30" x2="330.00" y2="594.30" stroke="#222" stroke-width="1.2"/>
<line x1="324.70" y1="641.20" x2="330.00" y2="641.20" stroke="#222" stroke-width="1.2"/>
<line x1="324.70" y1="670.00" x2="330.00" y2="670.00" stroke="#222" stroke-width="1.2"/>
<line x1="324.70" y1="698.40" x2="330.00" y2="698.40" stroke="#222" stroke-width="1.2"/>
<line x1="326.80" y1="627.08" x2="330.00" y2="627.08" stroke="#222" stroke-width="0.8"/>
<line x1="326.80" y1="618.82" x2="330.00" y2="618.82" stroke="#222" stroke-width="0.8"/>
<line x1="326.80" y1="612.96" x2="330.00" y2="612.96" stroke="#222" stroke-width="0.8"/>
<line x1="326.80" y1="608.42" x2="330.00" y2="608.42" stroke="#222" stroke-width="0.8"/>
<line x1="326.80" y1="604.70" x2="330.00" y2="604.70" stroke="#222" stroke-width="0.8"/>
<line x1="326.80" y1="601.56" x2="330.00" y2="601.56" stroke="#222" stroke-width="0.8"/>
<line x1="326.80" y1="598.85" x2="330.00" y2="598.85" stroke="#222" stroke-width="0.8"/>
<line x1="326.80" y1="596.45" x2="330.00" y2="596.45" stroke="#222" stroke-width="0.8"/>
<line x1="326.80" y1="581.78" x2="330.00" y2="581.78" stroke="#222" stroke-width="0.8"/>
<line x1="326.80" y1="574.45" x2="330.00" y2="574.45" stroke="#222" stroke-width="0.8"/>
<line x1="326.80" y1="569.25" x2="330.00" y2="569.25" stroke="#222" stroke-width="0.8"/>
<line x1="326.80" y1="565.22" x2="330.00" y2="565.22" stroke="#222" stroke-width="0.8"/>
<line x1="326.80" y1="561.93" x2="330.00" y2="561.93" stroke="#222" stroke-width="0.8"/>
<line x1="326.80" y1="559.14" x2="330.00" y2="559.14" stroke="#222" stroke-width="0.8"/>
<line x1="326.80" y1="556.73" x2="330.00" y2="556.73" stroke="#222" stroke-width="0.8"/>
<line x1="326.80" y1="554.60" x2="330.00" y2="554.60" stroke="#222" stroke-width="0.8"/>
<line x1="326.80" y1="540.18" x2="330.00" y2="540.18" stroke="#222" stroke-width="0.8"/>
<line x1="326.80" y1="644.40" x2="330.00" y2="644.40" stroke="#222" stroke-width="0.8"/>
<line x1="326.80" y1="673.16" x2="330.00" y2="673.16" stroke="#222" stroke-width="0.8"/>
<line x1="326.80" y1="647.60" x2="330.00" y2="647.60" stroke="#222" stroke-width="0.8"/>
<line x1="326.80" y1="676.31" x2="330.00" y2="676.31" stroke="#222" stroke-width="0.8"/>
<line x1="326.80" y1="650.80" x2="330.00" y2="650.80" stroke="#222" stroke-width="0.8"/>
<line x1="326.80" y1="679.47" x2="330.00" y2="679.47" stroke="#222" stroke-width="0.8"/>
<line x1="326.80" y1="654.00" x2="330.00" y2="654.00" stroke="#222" stroke-width="0.8"/>
<line x1="326.80" y1="682.62" x2="330.00" y2="682.62" stroke="#222" stroke-width="0.8"/>
<line x1="326.80" y1="657.20" x2="330.00" y2="657.20" stroke="#222" stroke-width="0.8"/>
<line x1="326.80" y1="685.78" x2="330.00" y2="685.78" stroke="#222" stroke-width="0.8"/>
<line x1="326.80" y1="660.40" x2="330.00" y2="660.40" stroke="#222" stroke-width="0.8"/>
<line x1="326.80" y1="688.93" x2="330.00" y2="688.93" stroke="#222" stroke-width="0.8"/>
<line x1="326.80" y1="663.60" x2="330.00" y2="663.60" stroke="#222" stroke-width="0.8"/>
<line x1="326.80" y1="692.09" x2="330.00" y2="692.09" stroke="#222" stroke-width="0.8"/>
<line x1="326.80" y1="666.80" x2="330.00" y2="666.80" stroke="#222" stroke-width="0.8"/>
<line x1="326.80" y1="695.24" x2="330.00" y2="695.24" stroke="#222" stroke-width="0.8"/>
<rect x="324.70" y="666.40" width="5.3" height="7.2" fill="#111"/>
<text font-family='"Liberation Serif", serif' font-size="14.2" font-style="italic" text-anchor="end" transform="translate(321.60,558.20) scale(1,1.2)">10<tspan font-size="8.6" dy="-4.6">5</tspan></text>
<text font-family='"Liberation Serif", serif' font-size="14.2" font-style="italic" text-anchor="end" transform="translate(321.60,599.80) scale(1,1.2)">10<tspan font-size="8.6" dy="-4.6">4</tspan></text>
<text font-family='"Liberation Serif", serif' font-size="14.2" font-style="italic" text-anchor="end" transform="translate(321.60,646.70) scale(1,1.2)">10<tspan font-size="8.6" dy="-4.6">3</tspan></text>
<text font-family='"Liberation Serif", serif' font-size="14.2" font-style="italic" text-anchor="end" transform="translate(319.00,674.60) scale(1,1.2)">0</text>
<text font-family='"Liberation Serif", serif' font-size="14.2" font-style="italic" text-anchor="end" transform="translate(321.60,703.90) scale(1,1.2)">-10<tspan font-size="8.6" dy="-4.6">3</tspan></text>
<line x1="339.80" y1="709.90" x2="339.80" y2="713.10" stroke="#222" stroke-width="1.2"/>
<line x1="368.40" y1="709.90" x2="368.40" y2="713.10" stroke="#222" stroke-width="1.2"/>
<line x1="397.20" y1="709.90" x2="397.20" y2="713.10" stroke="#222" stroke-width="1.2"/>
<line x1="442.20" y1="709.90" x2="442.20" y2="713.10" stroke="#222" stroke-width="1.2"/>
<line x1="484.20" y1="709.90" x2="484.20" y2="713.10" stroke="#222" stroke-width="1.2"/>
<line x1="410.75" y1="709.90" x2="410.75" y2="712.30" stroke="#222" stroke-width="0.8"/>
<line x1="418.67" y1="709.90" x2="418.67" y2="712.30" stroke="#222" stroke-width="0.8"/>
<line x1="424.29" y1="709.90" x2="424.29" y2="712.30" stroke="#222" stroke-width="0.8"/>
<line x1="428.65" y1="709.90" x2="428.65" y2="712.30" stroke="#222" stroke-width="0.8"/>
<line x1="432.22" y1="709.90" x2="432.22" y2="712.30" stroke="#222" stroke-width="0.8"/>
<line x1="435.23" y1="709.90" x2="435.23" y2="712.30" stroke="#222" stroke-width="0.8"/>
<line x1="437.84" y1="709.90" x2="437.84" y2="712.30" stroke="#222" stroke-width="0.8"/>
<line x1="440.14" y1="709.90" x2="440.14" y2="712.30" stroke="#222" stroke-width="0.8"/>
<line x1="454.84" y1="709.90" x2="454.84" y2="712.30" stroke="#222" stroke-width="0.8"/>
<line x1="462.24" y1="709.90" x2="462.24" y2="712.30" stroke="#222" stroke-width="0.8"/>
<line x1="467.49" y1="709.90" x2="467.49" y2="712.30" stroke="#222" stroke-width="0.8"/>
<line x1="471.56" y1="709.90" x2="471.56" y2="712.30" stroke="#222" stroke-width="0.8"/>
<line x1="474.88" y1="709.90" x2="474.88" y2="712.30" stroke="#222" stroke-width="0.8"/>
<line x1="477.69" y1="709.90" x2="477.69" y2="712.30" stroke="#222" stroke-width="0.8"/>
<line x1="480.13" y1="709.90" x2="480.13" y2="712.30" stroke="#222" stroke-width="0.8"/>
<line x1="482.28" y1="709.90" x2="482.28" y2="712.30" stroke="#222" stroke-width="0.8"/>
<line x1="496.84" y1="709.90" x2="496.84" y2="712.30" stroke="#222" stroke-width="0.8"/>
<line x1="342.66" y1="709.90" x2="342.66" y2="712.30" stroke="#222" stroke-width="0.8"/>
<line x1="371.28" y1="709.90" x2="371.28" y2="712.30" stroke="#222" stroke-width="0.8"/>
<line x1="345.52" y1="709.90" x2="345.52" y2="712.30" stroke="#222" stroke-width="0.8"/>
<line x1="374.16" y1="709.90" x2="374.16" y2="712.30" stroke="#222" stroke-width="0.8"/>
<line x1="348.38" y1="709.90" x2="348.38" y2="712.30" stroke="#222" stroke-width="0.8"/>
<line x1="377.04" y1="709.90" x2="377.04" y2="712.30" stroke="#222" stroke-width="0.8"/>
<line x1="351.24" y1="709.90" x2="351.24" y2="712.30" stroke="#222" stroke-width="0.8"/>
<line x1="379.92" y1="709.90" x2="379.92" y2="712.30" stroke="#222" stroke-width="0.8"/>
<line x1="354.10" y1="709.90" x2="354.10" y2="712.30" stroke="#222" stroke-width="0.8"/>
<line x1="382.80" y1="709.90" x2="382.80" y2="712.30" stroke="#222" stroke-width="0.8"/>
<line x1="356.96" y1="709.90" x2="356.96" y2="712.30" stroke="#222" stroke-width="0.8"/>
<line x1="385.68" y1="709.90" x2="385.68" y2="712.30" stroke="#222" stroke-width="0.8"/>
<line x1="359.82" y1="709.90" x2="359.82" y2="712.30" stroke="#222" stroke-width="0.8"/>
<line x1="388.56" y1="709.90" x2="388.56" y2="712.30" stroke="#222" stroke-width="0.8"/>
<line x1="362.68" y1="709.90" x2="362.68" y2="712.30" stroke="#222" stroke-width="0.8"/>
<line x1="391.44" y1="709.90" x2="391.44" y2="712.30" stroke="#222" stroke-width="0.8"/>
<line x1="365.54" y1="709.90" x2="365.54" y2="712.30" stroke="#222" stroke-width="0.8"/>
<line x1="394.32" y1="709.90" x2="394.32" y2="712.30" stroke="#222" stroke-width="0.8"/>
<rect x="364.80" y="709.90" width="7.2" height="2.6" fill="#111"/>
<text font-family='"Liberation Serif", serif' font-size="14.2" font-style="italic" text-anchor="middle" transform="translate(336.20,726.80) scale(1,1.2)">-10<tspan font-size="8.6" dy="-4.6">3</tspan></text>
<text font-family='"Liberation Serif", serif' font-size="14.2" font-style="italic" text-anchor="middle" transform="translate(368.40,726.80) scale(1,1.2)">0</text>
<text font-family='"Liberation Serif", serif' font-size="14.2" font-style="italic" text-anchor="middle" transform="translate(396.20,726.80) scale(1,1.2)">10<tspan font-size="8.6" dy="-4.6">3</tspan></text>
<text font-family='"Liberation Serif", serif' font-size="14.2" font-style="italic" text-anchor="middle" transform="translate(440.80,726.80) scale(1,1.2)">10<tspan font-size="8.6" dy="-4.6">4</tspan></text>
<text font-family='"Liberation Serif", serif' font-size="14.2" font-style="italic" text-anchor="middle" transform="translate(482.00,726.80) scale(1,1.2)">10<tspan font-size="8.6" dy="-4.6">5</tspan></text>
<line x1="361.90" y1="644.50" x2="373.40" y2="644.50" stroke="#000" stroke-width="2.6"/>
<line x1="378.70" y1="644.50" x2="433.60" y2="644.50" stroke="#000" stroke-width="2.6"/>
<text font-family='"Liberation Sans", sans-serif' font-size="13.7" transform="translate(343.10,694.20) rotate(-50) scale(1,1.06)">D368R</text>
<text font-family='"Liberation Sans", sans-serif' font-size="13.7" transform="translate(355.80,703.90) rotate(-50) scale(1,1.06)">sensitive</text>
<text font-family='"Liberation Sans", sans-serif' font-size="13.7" transform="translate(388.50,694.00) rotate(-50) scale(1,1.06)">D368R</text>
<text font-family='"Liberation Sans", sans-serif' font-size="13.7" transform="translate(401.60,704.80) rotate(-50) scale(1,1.06)">insensitive</text>
<line x1="283.90" y1="699.00" x2="283.90" y2="749.50" stroke="#4472c4" stroke-width="1.5"/>
<line x1="283.90" y1="749.50" x2="327.60" y2="749.50" stroke="#4472c4" stroke-width="1.5"/>
<polygon points="283.90,683.60 292.50,700.30 275.30,700.30" fill="#4472c4"/>
<polygon points="343.50,749.50 326.90,741.10 326.90,757.90" fill="#4472c4"/>
<use href="#pb" transform="translate(272.20,648.00) scale(0.981,0.987)"/>
<text font-family='"Liberation Sans", sans-serif' font-size="13.7" text-anchor="middle" transform="translate(272.90,720.60) rotate(-90) scale(1,1.06)">122E-PE</text>
<text font-family='"Liberation Sans", sans-serif' font-size="13.7" transform="translate(288.00,776.40) scale(1,1.06)">122E D368R-APC</text>
<use href="#pb" transform="translate(405.10,759.80) scale(0.968,0.953)"/>
<path fill="#e85020" d="M114 614h1v1h-1zM115 608h1v1h-1zM115 592h1v1h-1zM115 622h1v1h-1zM114 608h1v1h-1zM113 603h1v1h-1zM155 609h1v1h-1zM152 615h1v1h-1zM166 602h1v1h-1zM173 595h1v1h-1zM152 617h1v1h-1zM162 602h1v1h-1zM170 602h1v1h-1zM184 587h1v1h-1zM186 582h1v1h-1zM181 595h1v1h-1zM154 609h1v1h-1z"/>
<path fill="#8080ff" d="M117 587h1v1h-1zM113 599h1v1h-1zM113 599h1v1h-1zM116 595h1v1h-1zM118 621h1v1h-1zM113 596h1v1h-1zM113 617h1v1h-1zM115 618h1v1h-1zM113 615h1v1h-1zM113 627h1v1h-1zM115 579h1v1h-1zM112 613h1v1h-1zM111 610h1v1h-1zM112 590h1v1h-1zM115 608h1v1h-1zM113 606h1v1h-1zM116 612h1v1h-1zM113 599h1v1h-1zM112 625h1v1h-1zM115 606h1v1h-1zM112 632h1v1h-1zM110 609h1v1h-1zM112 594h1v1h-1zM117 608h1v1h-1zM115 606h1v1h-1zM113 581h1v1h-1zM115 597h1v1h-1zM112 607h1v1h-1zM113 602h1v1h-1zM116 634h1v1h-1zM111 600h1v1h-1zM117 615h1v1h-1zM110 600h1v1h-1zM111 621h1v1h-1zM118 596h1v1h-1zM114 599h1v1h-1zM113 613h1v1h-1zM120 607h1v1h-1zM113 612h1v1h-1zM116 613h1v1h-1zM109 636h1v1h-1zM112 610h1v1h-1zM115 592h1v1h-1zM112 592h1v1h-1zM111 611h1v1h-1zM112 593h1v1h-1zM119 588h1v1h-1zM115 631h1v1h-1zM114 615h1v1h-1zM114 605h1v1h-1zM113 605h1v1h-1zM115 617h1v1h-1zM114 575h1v1h-1zM112 600h1v1h-1zM113 628h1v1h-1zM112 596h1v1h-1zM114 570h1v1h-1zM118 629h1v1h-1zM115 597h1v1h-1zM116 624h1v1h-1zM116 599h1v1h-1zM114 614h1v1h-1zM112 617h1v1h-1zM111 617h1v1h-1zM113 621h1v1h-1zM115 610h1v1h-1zM167 610h1v1h-1zM169 597h1v1h-1zM182 583h1v1h-1zM169 603h1v1h-1zM195 579h1v1h-1zM168 590h1v1h-1zM136 620h1v1h-1zM157 600h1v1h-1zM144 624h1v1h-1zM160 613h1v1h-1zM190 581h1v1h-1zM143 624h1v1h-1zM183 591h1v1h-1zM159 612h1v1h-1zM166 600h1v1h-1zM183 583h1v1h-1zM138 613h1v1h-1zM146 620h1v1h-1zM178 601h1v1h-1zM194 586h1v1h-1zM182 580h1v1h-1zM140 633h1v1h-1zM157 614h1v1h-1zM149 622h1v1h-1zM161 606h1v1h-1zM125 633h1v1h-1zM120 631h1v1h-1zM168 600h1v1h-1zM183 579h1v1h-1zM177 594h1v1h-1zM168 599h1v1h-1zM181 590h1v1h-1zM147 615h1v1h-1zM147 613h1v1h-1zM175 599h1v1h-1zM180 595h1v1h-1zM141 623h1v1h-1zM164 604h1v1h-1zM144 618h1v1h-1zM143 629h1v1h-1zM141 612h1v1h-1zM153 608h1v1h-1zM180 593h1v1h-1zM183 589h1v1h-1zM169 603h1v1h-1zM171 598h1v1h-1zM162 601h1v1h-1zM149 612h1v1h-1zM153 593h1v1h-1zM157 594h1v1h-1zM150 612h1v1h-1zM134 625h1v1h-1zM157 590h1v1h-1zM193 578h1v1h-1zM181 589h1v1h-1zM174 597h1v1h-1zM170 609h1v1h-1zM159 601h1v1h-1zM148 619h1v1h-1zM153 615h1v1h-1zM152 605h1v1h-1zM161 611h1v1h-1zM190 589h1v1h-1zM127 626h1v1h-1zM183 586h1v1h-1zM131 628h1v1h-1zM179 590h1v1h-1zM195 576h1v1h-1zM129 625h1v1h-1zM143 631h1v1h-1zM140 616h1v1h-1zM185 583h1v1h-1zM166 601h1v1h-1zM171 602h1v1h-1zM181 595h1v1h-1zM173 598h1v1h-1zM127 633h1v1h-1zM136 634h1v1h-1zM156 606h1v1h-1zM166 603h1v1h-1zM134 627h1v1h-1zM189 577h1v1h-1zM160 610h1v1h-1zM185 583h1v1h-1zM181 588h1v1h-1zM177 599h1v1h-1zM165 600h1v1h-1zM168 606h1v1h-1zM175 597h1v1h-1zM139 618h1v1h-1zM165 601h1v1h-1zM140 626h1v1h-1zM150 609h1v1h-1zM171 610h1v1h-1zM154 611h1v1h-1zM188 583h1v1h-1zM152 604h1v1h-1zM136 606h1v1h-1zM192 585h1v1h-1zM131 630h1v1h-1zM139 628h1v1h-1zM165 601h1v1h-1zM134 634h1v1h-1zM153 598h1v1h-1zM158 608h1v1h-1zM186 597h1v1h-1zM146 606h1v1h-1zM140 612h1v1h-1zM171 605h1v1h-1zM182 584h1v1h-1zM180 589h1v1h-1zM162 595h1v1h-1zM183 589h1v1h-1zM168 606h1v1h-1zM191 577h1v1h-1zM155 615h1v1h-1zM158 613h1v1h-1zM171 602h1v1h-1zM138 631h1v1h-1zM180 587h1v1h-1zM169 614h1v1h-1zM172 593h1v1h-1zM140 611h1v1h-1zM168 607h1v1h-1zM133 621h1v1h-1zM176 598h1v1h-1zM166 613h1v1h-1zM166 602h1v1h-1zM169 603h1v1h-1zM180 594h1v1h-1zM150 607h1v1h-1zM183 593h1v1h-1zM124 632h1v1h-1zM179 592h1v1h-1zM170 592h1v1h-1zM140 622h1v1h-1zM184 584h1v1h-1zM142 617h1v1h-1zM173 597h1v1h-1zM182 592h1v1h-1zM190 573h1v1h-1zM148 612h1v1h-1zM181 574h1v1h-1zM159 613h1v1h-1zM152 614h1v1h-1zM193 581h1v1h-1zM189 582h1v1h-1zM122 634h1v1h-1zM147 619h1v1h-1zM152 620h1v1h-1zM164 602h1v1h-1zM146 620h1v1h-1zM179 596h1v1h-1zM130 629h1v1h-1zM174 594h1v1h-1zM134 617h1v1h-1zM164 608h1v1h-1zM137 616h1v1h-1zM180 594h1v1h-1zM191 588h1v1h-1zM186 578h1v1h-1zM138 626h1v1h-1zM133 632h1v1h-1zM162 616h1v1h-1zM177 602h1v1h-1zM171 598h1v1h-1zM181 586h1v1h-1zM182 587h1v1h-1zM167 587h1v1h-1zM140 616h1v1h-1zM183 591h1v1h-1zM160 613h1v1h-1zM134 618h1v1h-1zM145 619h1v1h-1zM156 619h1v1h-1zM170 609h1v1h-1zM161 608h1v1h-1zM132 635h1v1h-1zM166 603h1v1h-1zM141 613h1v1h-1zM167 588h1v1h-1zM172 589h1v1h-1zM169 599h1v1h-1zM155 607h1v1h-1zM144 633h1v1h-1zM142 617h1v1h-1zM168 589h1v1h-1zM122 630h1v1h-1zM186 580h1v1h-1zM154 602h1v1h-1zM173 588h1v1h-1zM196 587h1v1h-1zM176 589h1v1h-1zM167 600h1v1h-1zM133 640h1v1h-1zM164 608h1v1h-1zM144 621h1v1h-1zM167 588h1v1h-1zM176 594h1v1h-1zM158 597h1v1h-1zM173 593h1v1h-1zM181 594h1v1h-1zM179 587h1v1h-1zM163 614h1v1h-1zM135 636h1v1h-1zM164 601h1v1h-1zM189 590h1v1h-1zM165 607h1v1h-1zM131 631h1v1h-1zM153 605h1v1h-1zM168 598h1v1h-1zM178 598h1v1h-1zM151 609h1v1h-1zM139 620h1v1h-1zM135 631h1v1h-1zM143 605h1v1h-1zM151 619h1v1h-1zM146 624h1v1h-1zM141 609h1v1h-1zM188 600h1v1h-1zM179 593h1v1h-1zM166 593h1v1h-1zM185 582h1v1h-1zM127 577h1v1h-1zM137 606h1v1h-1zM138 620h1v1h-1zM139 608h1v1h-1zM113 615h1v1h-1zM172 587h1v1h-1zM137 608h1v1h-1zM158 606h1v1h-1zM115 595h1v1h-1zM123 574h1v1h-1zM163 570h1v1h-1zM178 578h1v1h-1zM129 572h1v1h-1zM120 589h1v1h-1zM168 589h1v1h-1zM186 575h1v1h-1zM173 596h1v1h-1zM112 608h1v1h-1zM115 586h1v1h-1zM127 592h1v1h-1zM147 615h1v1h-1zM122 595h1v1h-1zM141 574h1v1h-1zM147 617h1v1h-1zM156 610h1v1h-1zM142 599h1v1h-1zM139 624h1v1h-1zM145 594h1v1h-1zM187 571h1v1h-1zM194 579h1v1h-1zM178 570h1v1h-1zM135 574h1v1h-1zM121 635h1v1h-1zM147 605h1v1h-1zM124 572h1v1h-1zM154 591h1v1h-1zM119 592h1v1h-1zM135 621h1v1h-1zM129 608h1v1h-1zM130 632h1v1h-1zM115 593h1v1h-1zM159 604h1v1h-1zM125 601h1v1h-1zM186 579h1v1h-1zM113 581h1v1h-1zM123 570h1v1h-1zM125 577h1v1h-1zM180 582h1v1h-1zM173 572h1v1h-1zM153 582h1v1h-1zM138 623h1v1h-1zM128 614h1v1h-1zM151 613h1v1h-1zM119 577h1v1h-1zM151 607h1v1h-1zM118 576h1v1h-1zM135 589h1v1h-1zM137 602h1v1h-1zM150 568h1v1h-1zM157 577h1v1h-1zM134 606h1v1h-1zM172 590h1v1h-1zM138 584h1v1h-1zM132 598h1v1h-1zM118 628h1v1h-1zM163 596h1v1h-1zM120 633h1v1h-1zM173 573h1v1h-1zM171 568h1v1h-1zM173 589h1v1h-1z"/>
<path fill="#3c3cf8" d="M117 575h1v1h-1zM113 596h1v1h-1zM115 622h1v1h-1zM114 636h1v1h-1zM109 616h1v1h-1zM115 623h1v1h-1zM116 591h1v1h-1zM115 610h1v1h-1zM112 592h1v1h-1zM110 632h1v1h-1zM109 603h1v1h-1zM112 580h1v1h-1zM113 626h1v1h-1zM110 581h1v1h-1zM114 614h1v1h-1zM116 595h1v1h-1zM113 567h1v1h-1zM116 615h1v1h-1zM115 604h1v1h-1zM111 583h1v1h-1zM112 590h1v1h-1zM114 598h1v1h-1zM115 609h1v1h-1zM116 590h1v1h-1zM115 573h1v1h-1zM116 628h1v1h-1zM111 593h1v1h-1zM115 573h1v1h-1zM115 599h1v1h-1zM110 596h1v1h-1zM116 611h1v1h-1zM113 579h1v1h-1zM114 609h1v1h-1zM115 569h1v1h-1zM114 581h1v1h-1zM115 612h1v1h-1zM115 590h1v1h-1zM113 606h1v1h-1zM115 588h1v1h-1zM117 586h1v1h-1zM118 602h1v1h-1zM110 602h1v1h-1zM116 619h1v1h-1zM114 589h1v1h-1zM111 607h1v1h-1zM117 627h1v1h-1zM115 586h1v1h-1zM113 640h1v1h-1zM114 620h1v1h-1zM117 607h1v1h-1zM119 602h1v1h-1zM110 609h1v1h-1zM112 628h1v1h-1zM115 613h1v1h-1zM115 627h1v1h-1zM112 607h1v1h-1zM115 602h1v1h-1zM114 588h1v1h-1zM113 592h1v1h-1zM112 591h1v1h-1zM115 622h1v1h-1zM115 614h1v1h-1zM113 623h1v1h-1zM111 611h1v1h-1zM113 610h1v1h-1zM117 599h1v1h-1zM110 634h1v1h-1zM117 638h1v1h-1zM115 630h1v1h-1zM119 581h1v1h-1zM114 614h1v1h-1zM113 604h1v1h-1zM110 621h1v1h-1zM117 601h1v1h-1zM112 575h1v1h-1zM113 601h1v1h-1zM114 609h1v1h-1zM116 603h1v1h-1zM114 617h1v1h-1zM113 593h1v1h-1zM110 601h1v1h-1zM116 622h1v1h-1zM115 589h1v1h-1zM117 605h1v1h-1zM116 608h1v1h-1zM116 615h1v1h-1zM114 579h1v1h-1zM113 633h1v1h-1zM114 611h1v1h-1zM114 594h1v1h-1zM113 610h1v1h-1zM109 633h1v1h-1zM114 610h1v1h-1zM114 611h1v1h-1zM116 610h1v1h-1zM115 589h1v1h-1zM112 613h1v1h-1zM112 599h1v1h-1zM116 602h1v1h-1zM118 599h1v1h-1zM119 617h1v1h-1zM112 602h1v1h-1zM115 593h1v1h-1zM115 627h1v1h-1zM114 601h1v1h-1zM110 595h1v1h-1zM113 598h1v1h-1zM112 621h1v1h-1zM113 575h1v1h-1zM115 602h1v1h-1zM116 576h1v1h-1zM115 580h1v1h-1zM114 579h1v1h-1zM113 602h1v1h-1zM113 571h1v1h-1zM115 638h1v1h-1zM111 590h1v1h-1zM116 594h1v1h-1zM112 576h1v1h-1zM112 612h1v1h-1zM114 589h1v1h-1zM112 598h1v1h-1zM111 574h1v1h-1zM117 621h1v1h-1zM111 595h1v1h-1zM110 623h1v1h-1zM110 594h1v1h-1zM115 589h1v1h-1zM110 596h1v1h-1zM115 635h1v1h-1zM115 567h1v1h-1zM115 583h1v1h-1zM116 606h1v1h-1zM115 634h1v1h-1zM118 589h1v1h-1zM116 616h1v1h-1zM113 617h1v1h-1zM115 574h1v1h-1zM114 629h1v1h-1zM114 607h1v1h-1zM108 602h1v1h-1zM114 618h1v1h-1zM111 574h1v1h-1zM112 605h1v1h-1zM110 623h1v1h-1zM110 579h1v1h-1zM112 622h1v1h-1zM116 595h1v1h-1zM118 601h1v1h-1zM114 585h1v1h-1zM116 609h1v1h-1zM113 581h1v1h-1zM109 623h1v1h-1zM114 589h1v1h-1zM113 592h1v1h-1zM115 597h1v1h-1zM159 619h1v1h-1zM156 622h1v1h-1zM132 636h1v1h-1zM170 601h1v1h-1zM155 607h1v1h-1zM139 638h1v1h-1zM135 626h1v1h-1zM163 603h1v1h-1zM163 605h1v1h-1zM198 583h1v1h-1zM168 606h1v1h-1zM179 593h1v1h-1zM191 582h1v1h-1zM167 610h1v1h-1zM159 604h1v1h-1zM190 590h1v1h-1zM154 609h1v1h-1zM181 584h1v1h-1zM154 618h1v1h-1zM137 622h1v1h-1zM157 611h1v1h-1zM132 629h1v1h-1zM145 622h1v1h-1zM159 603h1v1h-1zM157 611h1v1h-1zM172 608h1v1h-1zM168 595h1v1h-1zM154 623h1v1h-1zM178 582h1v1h-1zM130 627h1v1h-1zM159 608h1v1h-1zM156 610h1v1h-1zM144 607h1v1h-1zM148 620h1v1h-1zM188 578h1v1h-1zM171 595h1v1h-1zM183 585h1v1h-1zM145 621h1v1h-1zM149 613h1v1h-1zM135 630h1v1h-1zM139 619h1v1h-1zM183 593h1v1h-1zM147 614h1v1h-1zM151 627h1v1h-1zM158 617h1v1h-1zM151 618h1v1h-1zM161 607h1v1h-1zM182 588h1v1h-1zM162 608h1v1h-1zM172 592h1v1h-1zM173 586h1v1h-1zM174 594h1v1h-1zM165 598h1v1h-1zM174 587h1v1h-1zM184 586h1v1h-1zM148 612h1v1h-1zM141 628h1v1h-1zM143 616h1v1h-1zM179 599h1v1h-1zM158 599h1v1h-1zM132 635h1v1h-1zM166 602h1v1h-1zM154 617h1v1h-1zM133 617h1v1h-1zM161 598h1v1h-1zM180 585h1v1h-1zM131 631h1v1h-1zM174 590h1v1h-1zM190 574h1v1h-1zM148 613h1v1h-1zM180 593h1v1h-1zM193 585h1v1h-1zM142 618h1v1h-1zM185 590h1v1h-1zM142 614h1v1h-1zM134 630h1v1h-1zM146 611h1v1h-1zM155 604h1v1h-1zM158 605h1v1h-1zM142 633h1v1h-1zM162 606h1v1h-1zM158 610h1v1h-1zM168 592h1v1h-1zM137 628h1v1h-1zM152 615h1v1h-1zM177 596h1v1h-1zM178 587h1v1h-1zM153 618h1v1h-1zM141 631h1v1h-1zM173 591h1v1h-1zM150 621h1v1h-1zM171 606h1v1h-1zM165 611h1v1h-1zM173 589h1v1h-1zM164 605h1v1h-1zM170 601h1v1h-1zM170 597h1v1h-1zM149 613h1v1h-1zM155 609h1v1h-1zM185 582h1v1h-1zM142 618h1v1h-1zM122 632h1v1h-1zM151 626h1v1h-1zM143 619h1v1h-1zM130 621h1v1h-1zM183 592h1v1h-1zM176 584h1v1h-1zM160 613h1v1h-1zM178 588h1v1h-1zM191 576h1v1h-1zM125 637h1v1h-1zM130 638h1v1h-1zM151 614h1v1h-1zM168 597h1v1h-1zM184 589h1v1h-1zM182 588h1v1h-1zM128 625h1v1h-1zM179 584h1v1h-1zM148 614h1v1h-1zM182 578h1v1h-1zM180 595h1v1h-1zM157 621h1v1h-1zM136 630h1v1h-1zM129 625h1v1h-1zM113 629h1v1h-1zM151 603h1v1h-1zM162 612h1v1h-1zM186 586h1v1h-1zM181 581h1v1h-1zM192 584h1v1h-1zM180 587h1v1h-1zM190 577h1v1h-1zM167 597h1v1h-1zM188 580h1v1h-1zM173 606h1v1h-1zM185 580h1v1h-1zM163 613h1v1h-1zM145 612h1v1h-1zM181 596h1v1h-1zM153 602h1v1h-1zM161 610h1v1h-1zM162 597h1v1h-1zM140 610h1v1h-1zM158 614h1v1h-1zM155 614h1v1h-1zM138 626h1v1h-1zM141 621h1v1h-1zM129 631h1v1h-1zM126 627h1v1h-1zM143 625h1v1h-1zM181 589h1v1h-1zM186 583h1v1h-1zM162 601h1v1h-1zM190 573h1v1h-1zM134 626h1v1h-1zM149 619h1v1h-1zM186 585h1v1h-1zM188 596h1v1h-1zM163 604h1v1h-1zM157 611h1v1h-1zM202 586h1v1h-1zM147 611h1v1h-1zM158 599h1v1h-1zM146 614h1v1h-1zM186 589h1v1h-1zM125 624h1v1h-1zM157 607h1v1h-1zM171 599h1v1h-1zM165 598h1v1h-1zM139 620h1v1h-1zM140 620h1v1h-1zM186 589h1v1h-1zM185 586h1v1h-1zM157 623h1v1h-1zM170 602h1v1h-1zM196 589h1v1h-1zM193 580h1v1h-1zM130 623h1v1h-1zM172 605h1v1h-1zM172 600h1v1h-1zM187 587h1v1h-1zM141 619h1v1h-1zM154 613h1v1h-1zM146 621h1v1h-1zM131 640h1v1h-1zM137 624h1v1h-1zM143 623h1v1h-1zM193 594h1v1h-1zM152 614h1v1h-1zM191 580h1v1h-1zM176 595h1v1h-1zM141 612h1v1h-1zM135 635h1v1h-1zM158 614h1v1h-1zM164 609h1v1h-1zM161 605h1v1h-1zM185 590h1v1h-1zM130 638h1v1h-1zM155 608h1v1h-1zM152 612h1v1h-1zM160 612h1v1h-1zM153 629h1v1h-1zM175 587h1v1h-1zM168 598h1v1h-1zM123 631h1v1h-1zM179 588h1v1h-1zM162 602h1v1h-1zM156 600h1v1h-1zM177 587h1v1h-1zM171 611h1v1h-1zM186 583h1v1h-1zM129 623h1v1h-1zM129 629h1v1h-1zM125 634h1v1h-1zM145 619h1v1h-1zM149 625h1v1h-1zM169 591h1v1h-1zM157 608h1v1h-1zM142 627h1v1h-1zM143 628h1v1h-1zM120 635h1v1h-1zM155 612h1v1h-1zM146 625h1v1h-1zM161 608h1v1h-1zM178 592h1v1h-1zM153 617h1v1h-1zM170 608h1v1h-1zM157 618h1v1h-1zM127 633h1v1h-1zM154 624h1v1h-1zM144 622h1v1h-1zM183 592h1v1h-1zM192 578h1v1h-1zM141 612h1v1h-1zM174 581h1v1h-1zM188 584h1v1h-1zM147 624h1v1h-1zM178 582h1v1h-1zM153 600h1v1h-1zM170 600h1v1h-1zM147 620h1v1h-1zM185 582h1v1h-1zM147 617h1v1h-1zM164 598h1v1h-1zM161 609h1v1h-1zM169 609h1v1h-1zM144 620h1v1h-1zM157 611h1v1h-1zM178 599h1v1h-1zM178 599h1v1h-1zM148 609h1v1h-1zM156 598h1v1h-1zM174 599h1v1h-1zM181 590h1v1h-1zM174 599h1v1h-1zM179 590h1v1h-1zM178 593h1v1h-1zM184 583h1v1h-1zM169 591h1v1h-1zM183 593h1v1h-1zM181 587h1v1h-1zM162 604h1v1h-1zM156 618h1v1h-1zM163 609h1v1h-1zM131 621h1v1h-1zM168 590h1v1h-1zM134 620h1v1h-1zM140 624h1v1h-1zM176 589h1v1h-1zM149 606h1v1h-1zM167 609h1v1h-1zM161 599h1v1h-1zM150 614h1v1h-1zM188 585h1v1h-1zM158 611h1v1h-1zM146 623h1v1h-1zM156 609h1v1h-1zM148 609h1v1h-1zM186 587h1v1h-1zM184 589h1v1h-1zM157 590h1v1h-1zM177 590h1v1h-1zM152 614h1v1h-1zM174 598h1v1h-1zM179 583h1v1h-1zM158 595h1v1h-1zM141 618h1v1h-1zM181 583h1v1h-1zM146 612h1v1h-1zM187 588h1v1h-1zM187 591h1v1h-1zM151 617h1v1h-1zM189 590h1v1h-1zM175 590h1v1h-1zM181 604h1v1h-1zM150 609h1v1h-1zM178 593h1v1h-1zM136 622h1v1h-1zM154 601h1v1h-1zM163 594h1v1h-1zM174 597h1v1h-1zM128 636h1v1h-1zM196 588h1v1h-1zM133 617h1v1h-1zM153 604h1v1h-1zM141 615h1v1h-1zM145 615h1v1h-1zM158 614h1v1h-1zM176 589h1v1h-1zM177 585h1v1h-1zM154 607h1v1h-1zM192 577h1v1h-1zM128 633h1v1h-1zM162 608h1v1h-1zM163 606h1v1h-1zM174 587h1v1h-1zM153 618h1v1h-1zM142 624h1v1h-1zM183 578h1v1h-1zM132 630h1v1h-1zM187 578h1v1h-1zM159 598h1v1h-1zM190 586h1v1h-1zM195 582h1v1h-1zM191 585h1v1h-1zM148 625h1v1h-1zM143 624h1v1h-1zM144 615h1v1h-1zM142 621h1v1h-1zM179 580h1v1h-1zM141 621h1v1h-1zM163 601h1v1h-1zM133 613h1v1h-1zM128 639h1v1h-1zM190 589h1v1h-1zM187 579h1v1h-1zM150 618h1v1h-1zM183 579h1v1h-1zM171 593h1v1h-1zM173 594h1v1h-1zM165 613h1v1h-1zM190 580h1v1h-1zM154 607h1v1h-1zM173 599h1v1h-1zM179 600h1v1h-1zM172 603h1v1h-1zM183 581h1v1h-1zM185 596h1v1h-1zM136 636h1v1h-1zM176 588h1v1h-1zM172 595h1v1h-1zM167 597h1v1h-1zM157 601h1v1h-1zM171 592h1v1h-1zM153 620h1v1h-1zM146 618h1v1h-1zM163 600h1v1h-1zM177 597h1v1h-1zM132 623h1v1h-1zM139 633h1v1h-1zM130 630h1v1h-1zM149 618h1v1h-1zM156 609h1v1h-1zM156 615h1v1h-1zM167 607h1v1h-1zM156 606h1v1h-1zM164 601h1v1h-1zM175 589h1v1h-1zM165 591h1v1h-1zM175 590h1v1h-1zM170 602h1v1h-1zM146 618h1v1h-1zM155 606h1v1h-1zM177 594h1v1h-1zM133 622h1v1h-1zM179 595h1v1h-1zM177 601h1v1h-1zM166 593h1v1h-1zM153 601h1v1h-1zM147 612h1v1h-1zM137 613h1v1h-1zM134 639h1v1h-1zM184 592h1v1h-1zM180 592h1v1h-1zM176 602h1v1h-1zM136 624h1v1h-1zM153 614h1v1h-1zM155 608h1v1h-1zM179 594h1v1h-1zM182 586h1v1h-1zM167 603h1v1h-1zM181 580h1v1h-1zM139 630h1v1h-1zM190 589h1v1h-1zM165 601h1v1h-1zM145 604h1v1h-1zM191 584h1v1h-1zM178 590h1v1h-1zM123 634h1v1h-1zM151 619h1v1h-1zM130 627h1v1h-1zM173 595h1v1h-1zM193 582h1v1h-1zM197 586h1v1h-1zM186 584h1v1h-1zM184 587h1v1h-1zM130 640h1v1h-1zM154 615h1v1h-1zM148 616h1v1h-1zM152 611h1v1h-1zM151 609h1v1h-1zM148 612h1v1h-1zM175 585h1v1h-1zM200 582h1v1h-1zM118 626h1v1h-1zM154 606h1v1h-1zM123 638h1v1h-1zM163 604h1v1h-1zM165 602h1v1h-1zM172 590h1v1h-1zM146 627h1v1h-1zM144 631h1v1h-1zM162 605h1v1h-1zM188 583h1v1h-1zM153 610h1v1h-1zM182 596h1v1h-1zM180 587h1v1h-1zM184 589h1v1h-1zM158 611h1v1h-1zM177 591h1v1h-1zM182 589h1v1h-1zM153 613h1v1h-1zM152 610h1v1h-1zM177 597h1v1h-1zM178 590h1v1h-1zM135 621h1v1h-1zM173 600h1v1h-1zM190 586h1v1h-1zM164 610h1v1h-1zM177 596h1v1h-1zM140 620h1v1h-1zM167 608h1v1h-1zM183 593h1v1h-1zM184 591h1v1h-1zM133 629h1v1h-1zM185 585h1v1h-1zM156 603h1v1h-1zM157 599h1v1h-1zM154 625h1v1h-1zM135 636h1v1h-1zM161 615h1v1h-1zM151 622h1v1h-1zM177 596h1v1h-1zM189 581h1v1h-1zM149 618h1v1h-1zM178 587h1v1h-1zM160 584h1v1h-1zM145 590h1v1h-1zM139 584h1v1h-1zM165 574h1v1h-1zM137 589h1v1h-1zM152 574h1v1h-1zM115 631h1v1h-1zM119 586h1v1h-1zM148 577h1v1h-1zM113 635h1v1h-1zM157 600h1v1h-1zM172 576h1v1h-1zM130 609h1v1h-1zM117 585h1v1h-1zM153 584h1v1h-1zM138 620h1v1h-1zM124 615h1v1h-1zM114 608h1v1h-1zM177 585h1v1h-1zM129 570h1v1h-1zM130 603h1v1h-1zM164 576h1v1h-1zM153 589h1v1h-1zM168 592h1v1h-1zM154 608h1v1h-1zM140 616h1v1h-1zM127 577h1v1h-1zM151 574h1v1h-1zM124 631h1v1h-1zM141 613h1v1h-1zM117 586h1v1h-1zM120 635h1v1h-1zM115 606h1v1h-1zM130 580h1v1h-1zM153 595h1v1h-1zM185 569h1v1h-1zM131 596h1v1h-1zM188 571h1v1h-1zM156 599h1v1h-1zM156 596h1v1h-1zM134 576h1v1h-1zM152 611h1v1h-1zM132 590h1v1h-1zM119 598h1v1h-1zM196 577h1v1h-1zM168 589h1v1h-1zM158 570h1v1h-1zM122 639h1v1h-1zM169 587h1v1h-1zM128 582h1v1h-1zM132 587h1v1h-1zM147 574h1v1h-1zM122 618h1v1h-1zM139 594h1v1h-1zM126 577h1v1h-1zM155 587h1v1h-1zM139 613h1v1h-1zM160 590h1v1h-1zM170 592h1v1h-1zM140 579h1v1h-1zM139 610h1v1h-1zM135 615h1v1h-1zM135 582h1v1h-1zM156 583h1v1h-1zM183 585h1v1h-1zM120 579h1v1h-1zM154 605h1v1h-1zM115 620h1v1h-1zM177 579h1v1h-1zM143 583h1v1h-1zM137 583h1v1h-1zM126 600h1v1h-1zM150 583h1v1h-1zM130 573h1v1h-1zM142 603h1v1h-1zM182 581h1v1h-1zM129 619h1v1h-1zM132 621h1v1h-1zM166 596h1v1h-1zM130 626h1v1h-1zM135 627h1v1h-1zM145 587h1v1h-1zM139 585h1v1h-1zM143 597h1v1h-1zM169 578h1v1h-1zM142 608h1v1h-1zM155 571h1v1h-1zM144 586h1v1h-1zM146 619h1v1h-1zM155 578h1v1h-1zM118 589h1v1h-1zM190 572h1v1h-1zM146 605h1v1h-1zM152 602h1v1h-1zM124 608h1v1h-1zM173 583h1v1h-1zM163 596h1v1h-1zM145 578h1v1h-1zM144 579h1v1h-1zM137 578h1v1h-1zM192 579h1v1h-1zM144 594h1v1h-1zM121 639h1v1h-1zM166 595h1v1h-1zM135 616h1v1h-1zM180 577h1v1h-1zM150 602h1v1h-1zM115 573h1v1h-1zM154 595h1v1h-1zM168 581h1v1h-1zM114 599h1v1h-1zM147 596h1v1h-1zM113 623h1v1h-1zM131 594h1v1h-1zM145 584h1v1h-1zM145 615h1v1h-1zM131 580h1v1h-1zM178 585h1v1h-1zM140 575h1v1h-1zM135 586h1v1h-1zM126 621h1v1h-1zM132 620h1v1h-1zM162 595h1v1h-1zM193 568h1v1h-1zM129 608h1v1h-1zM116 612h1v1h-1zM131 607h1v1h-1z"/>
<path fill="#e02020" d="M114 617h1v1h-1zM116 613h1v1h-1zM112 610h1v1h-1zM115 606h1v1h-1zM114 606h1v1h-1zM113 599h1v1h-1zM143 618h1v1h-1zM178 589h1v1h-1zM177 599h1v1h-1zM165 602h1v1h-1zM154 610h1v1h-1zM185 583h1v1h-1zM140 621h1v1h-1zM177 587h1v1h-1zM156 610h1v1h-1zM184 590h1v1h-1zM180 592h1v1h-1zM147 617h1v1h-1zM173 596h1v1h-1z"/>
<path fill="#f0a020" d="M114 609h1v1h-1zM115 605h1v1h-1zM112 612h1v1h-1zM115 595h1v1h-1zM112 601h1v1h-1zM115 612h1v1h-1zM179 596h1v1h-1zM144 620h1v1h-1zM182 582h1v1h-1zM168 590h1v1h-1zM183 590h1v1h-1zM184 585h1v1h-1zM181 585h1v1h-1zM183 584h1v1h-1zM184 583h1v1h-1zM180 591h1v1h-1zM158 611h1v1h-1zM182 580h1v1h-1zM173 596h1v1h-1z"/>
<path fill="#7878ff" d="M369 598h1v1h-1zM371 620h1v1h-1zM367 627h1v1h-1zM368 600h1v1h-1zM367 597h1v1h-1zM369 613h1v1h-1zM371 608h1v1h-1zM366 628h1v1h-1zM371 618h1v1h-1zM368 579h1v1h-1zM367 572h1v1h-1zM369 619h1v1h-1zM369 597h1v1h-1zM373 574h1v1h-1zM368 613h1v1h-1zM370 576h1v1h-1zM370 566h1v1h-1zM395 609h1v1h-1zM395 623h1v1h-1zM427 586h1v1h-1zM396 625h1v1h-1zM423 603h1v1h-1zM385 634h1v1h-1zM399 616h1v1h-1zM441 579h1v1h-1zM417 596h1v1h-1zM413 593h1v1h-1zM418 599h1v1h-1zM400 618h1v1h-1zM428 585h1v1h-1zM438 580h1v1h-1zM425 586h1v1h-1zM417 596h1v1h-1zM445 573h1v1h-1zM411 603h1v1h-1zM435 591h1v1h-1zM384 625h1v1h-1zM447 579h1v1h-1zM412 616h1v1h-1zM434 581h1v1h-1zM436 597h1v1h-1zM431 577h1v1h-1zM433 592h1v1h-1zM429 581h1v1h-1zM426 590h1v1h-1zM436 580h1v1h-1zM434 574h1v1h-1zM430 576h1v1h-1zM394 613h1v1h-1zM406 613h1v1h-1zM392 630h1v1h-1zM403 617h1v1h-1zM422 590h1v1h-1zM387 634h1v1h-1zM436 579h1v1h-1zM435 573h1v1h-1zM410 615h1v1h-1zM417 609h1v1h-1zM385 622h1v1h-1zM413 611h1v1h-1zM415 601h1v1h-1zM426 599h1v1h-1zM441 574h1v1h-1zM387 627h1v1h-1zM425 612h1v1h-1zM439 581h1v1h-1zM431 584h1v1h-1zM412 594h1v1h-1zM401 609h1v1h-1zM418 595h1v1h-1zM385 635h1v1h-1zM389 615h1v1h-1zM415 594h1v1h-1zM404 612h1v1h-1zM430 581h1v1h-1zM419 594h1v1h-1zM434 586h1v1h-1zM407 611h1v1h-1zM408 609h1v1h-1zM441 573h1v1h-1zM423 597h1v1h-1zM380 627h1v1h-1zM417 608h1v1h-1zM409 599h1v1h-1zM429 595h1v1h-1zM421 607h1v1h-1zM435 577h1v1h-1zM401 621h1v1h-1zM439 591h1v1h-1zM404 632h1v1h-1zM435 572h1v1h-1zM409 623h1v1h-1zM440 571h1v1h-1zM407 601h1v1h-1zM397 625h1v1h-1zM445 578h1v1h-1zM413 590h1v1h-1zM394 610h1v1h-1zM433 585h1v1h-1zM399 612h1v1h-1zM426 605h1v1h-1zM396 608h1v1h-1zM434 589h1v1h-1zM377 627h1v1h-1zM408 612h1v1h-1zM422 600h1v1h-1zM427 585h1v1h-1zM390 602h1v1h-1zM419 585h1v1h-1zM435 589h1v1h-1zM420 600h1v1h-1zM429 591h1v1h-1zM390 634h1v1h-1zM411 607h1v1h-1zM387 627h1v1h-1zM442 576h1v1h-1zM427 603h1v1h-1zM409 618h1v1h-1zM397 633h1v1h-1zM384 632h1v1h-1zM394 625h1v1h-1zM395 609h1v1h-1zM387 616h1v1h-1zM428 601h1v1h-1zM400 615h1v1h-1zM405 612h1v1h-1zM432 585h1v1h-1zM422 595h1v1h-1zM391 623h1v1h-1zM417 591h1v1h-1zM387 615h1v1h-1zM411 623h1v1h-1zM436 573h1v1h-1zM396 612h1v1h-1zM414 603h1v1h-1zM421 607h1v1h-1zM410 600h1v1h-1zM401 619h1v1h-1zM432 595h1v1h-1zM443 579h1v1h-1zM392 606h1v1h-1zM414 596h1v1h-1zM392 628h1v1h-1zM431 594h1v1h-1zM421 581h1v1h-1zM405 620h1v1h-1zM389 623h1v1h-1zM420 587h1v1h-1zM437 585h1v1h-1zM426 591h1v1h-1zM415 594h1v1h-1zM443 569h1v1h-1zM416 592h1v1h-1zM385 629h1v1h-1zM402 601h1v1h-1zM414 602h1v1h-1zM423 595h1v1h-1zM404 620h1v1h-1zM391 611h1v1h-1zM409 626h1v1h-1zM408 617h1v1h-1zM378 620h1v1h-1zM421 604h1v1h-1zM393 602h1v1h-1zM391 620h1v1h-1zM431 600h1v1h-1zM411 620h1v1h-1zM424 605h1v1h-1zM407 600h1v1h-1zM431 595h1v1h-1zM394 611h1v1h-1zM421 590h1v1h-1zM384 615h1v1h-1zM401 626h1v1h-1zM394 608h1v1h-1zM438 588h1v1h-1zM406 612h1v1h-1zM386 630h1v1h-1zM409 615h1v1h-1zM410 622h1v1h-1zM403 621h1v1h-1zM425 583h1v1h-1zM409 597h1v1h-1zM407 619h1v1h-1zM394 623h1v1h-1zM401 605h1v1h-1zM386 623h1v1h-1zM394 628h1v1h-1zM428 584h1v1h-1zM417 617h1v1h-1zM420 608h1v1h-1zM432 594h1v1h-1zM447 582h1v1h-1zM435 576h1v1h-1zM439 574h1v1h-1zM406 623h1v1h-1zM432 583h1v1h-1zM422 588h1v1h-1zM446 572h1v1h-1zM397 618h1v1h-1zM394 607h1v1h-1zM412 621h1v1h-1zM402 602h1v1h-1zM410 599h1v1h-1zM407 606h1v1h-1zM417 609h1v1h-1zM413 596h1v1h-1zM400 630h1v1h-1zM412 612h1v1h-1zM409 593h1v1h-1zM389 614h1v1h-1zM438 587h1v1h-1zM440 577h1v1h-1zM444 584h1v1h-1zM387 634h1v1h-1zM398 618h1v1h-1zM403 607h1v1h-1zM423 599h1v1h-1zM421 593h1v1h-1zM413 617h1v1h-1zM410 615h1v1h-1zM401 613h1v1h-1zM389 619h1v1h-1zM434 589h1v1h-1zM386 630h1v1h-1zM423 595h1v1h-1zM404 629h1v1h-1zM424 588h1v1h-1zM434 595h1v1h-1zM401 610h1v1h-1zM414 605h1v1h-1zM444 579h1v1h-1zM422 603h1v1h-1zM421 589h1v1h-1zM430 585h1v1h-1zM439 580h1v1h-1zM399 624h1v1h-1zM441 581h1v1h-1zM410 604h1v1h-1zM408 620h1v1h-1zM395 612h1v1h-1zM447 577h1v1h-1zM406 593h1v1h-1zM414 594h1v1h-1zM405 618h1v1h-1zM378 622h1v1h-1zM403 607h1v1h-1zM405 615h1v1h-1zM412 595h1v1h-1zM442 582h1v1h-1zM399 606h1v1h-1zM431 591h1v1h-1zM418 605h1v1h-1zM399 621h1v1h-1zM422 591h1v1h-1zM394 628h1v1h-1zM406 618h1v1h-1zM426 582h1v1h-1zM392 634h1v1h-1zM398 624h1v1h-1zM380 628h1v1h-1zM386 624h1v1h-1zM403 614h1v1h-1zM432 577h1v1h-1zM427 602h1v1h-1zM402 596h1v1h-1zM399 618h1v1h-1zM425 592h1v1h-1zM431 583h1v1h-1zM399 609h1v1h-1zM441 578h1v1h-1zM419 598h1v1h-1zM407 605h1v1h-1zM425 575h1v1h-1zM401 625h1v1h-1zM429 599h1v1h-1zM409 598h1v1h-1zM387 619h1v1h-1zM421 593h1v1h-1zM407 598h1v1h-1zM383 634h1v1h-1zM379 619h1v1h-1zM409 609h1v1h-1zM420 588h1v1h-1zM414 610h1v1h-1zM435 593h1v1h-1zM406 612h1v1h-1zM408 608h1v1h-1zM427 590h1v1h-1zM395 617h1v1h-1zM392 620h1v1h-1zM441 589h1v1h-1zM435 583h1v1h-1zM398 617h1v1h-1zM401 632h1v1h-1zM426 583h1v1h-1zM429 587h1v1h-1zM412 600h1v1h-1zM390 614h1v1h-1zM397 609h1v1h-1zM409 614h1v1h-1zM429 585h1v1h-1zM414 606h1v1h-1zM417 603h1v1h-1zM404 626h1v1h-1zM434 578h1v1h-1zM428 601h1v1h-1zM425 601h1v1h-1zM441 577h1v1h-1zM421 594h1v1h-1zM404 612h1v1h-1zM416 600h1v1h-1zM424 605h1v1h-1zM411 611h1v1h-1zM402 603h1v1h-1zM412 595h1v1h-1zM447 575h1v1h-1zM388 634h1v1h-1zM386 607h1v1h-1zM409 605h1v1h-1zM420 617h1v1h-1zM407 616h1v1h-1zM413 599h1v1h-1zM420 586h1v1h-1zM393 635h1v1h-1zM420 592h1v1h-1zM409 610h1v1h-1zM435 581h1v1h-1zM382 619h1v1h-1zM398 615h1v1h-1zM421 605h1v1h-1zM437 584h1v1h-1zM424 604h1v1h-1zM398 606h1v1h-1zM400 611h1v1h-1zM431 582h1v1h-1zM421 609h1v1h-1zM391 625h1v1h-1zM428 591h1v1h-1zM405 604h1v1h-1zM383 632h1v1h-1zM430 584h1v1h-1zM430 590h1v1h-1zM388 618h1v1h-1zM409 602h1v1h-1zM408 614h1v1h-1zM389 588h1v1h-1zM390 580h1v1h-1zM380 583h1v1h-1zM402 600h1v1h-1zM390 577h1v1h-1zM388 580h1v1h-1zM425 594h1v1h-1zM379 578h1v1h-1zM373 606h1v1h-1zM395 566h1v1h-1zM405 592h1v1h-1zM400 601h1v1h-1zM406 587h1v1h-1zM417 580h1v1h-1zM396 598h1v1h-1zM393 623h1v1h-1zM379 576h1v1h-1zM436 586h1v1h-1zM375 594h1v1h-1zM383 566h1v1h-1zM383 618h1v1h-1zM423 592h1v1h-1zM390 598h1v1h-1zM425 576h1v1h-1zM381 574h1v1h-1zM378 614h1v1h-1zM413 585h1v1h-1zM376 596h1v1h-1zM420 599h1v1h-1zM394 597h1v1h-1zM427 593h1v1h-1zM393 593h1v1h-1zM435 583h1v1h-1zM416 622h1v1h-1zM408 626h1v1h-1zM390 631h1v1h-1zM382 631h1v1h-1zM411 624h1v1h-1zM407 625h1v1h-1zM413 634h1v1h-1zM414 629h1v1h-1zM391 630h1v1h-1zM394 618h1v1h-1zM401 621h1v1h-1zM400 621h1v1h-1zM407 630h1v1h-1zM408 621h1v1h-1zM381 634h1v1h-1zM392 633h1v1h-1zM408 622h1v1h-1zM405 624h1v1h-1zM391 625h1v1h-1zM377 622h1v1h-1zM403 619h1v1h-1zM385 632h1v1h-1zM413 626h1v1h-1zM408 625h1v1h-1zM378 631h1v1h-1zM413 626h1v1h-1zM407 618h1v1h-1zM408 627h1v1h-1zM381 635h1v1h-1zM413 628h1v1h-1zM396 633h1v1h-1zM412 619h1v1h-1zM386 626h1v1h-1zM380 633h1v1h-1zM403 630h1v1h-1zM405 622h1v1h-1zM412 621h1v1h-1zM376 624h1v1h-1zM379 628h1v1h-1zM396 627h1v1h-1zM390 625h1v1h-1z"/>
<path fill="#3232f6" d="M371 617h1v1h-1zM371 631h1v1h-1zM372 572h1v1h-1zM369 596h1v1h-1zM370 586h1v1h-1zM370 622h1v1h-1zM368 573h1v1h-1zM373 594h1v1h-1zM371 626h1v1h-1zM369 631h1v1h-1zM371 582h1v1h-1zM371 627h1v1h-1zM369 613h1v1h-1zM369 571h1v1h-1zM369 580h1v1h-1zM368 571h1v1h-1zM369 613h1v1h-1zM368 587h1v1h-1zM371 613h1v1h-1zM371 625h1v1h-1zM368 613h1v1h-1zM367 607h1v1h-1zM369 579h1v1h-1zM370 630h1v1h-1zM369 576h1v1h-1zM370 601h1v1h-1zM370 573h1v1h-1zM371 626h1v1h-1zM369 597h1v1h-1zM371 620h1v1h-1zM371 624h1v1h-1zM369 602h1v1h-1zM366 619h1v1h-1zM369 586h1v1h-1zM369 579h1v1h-1zM371 571h1v1h-1zM369 617h1v1h-1zM372 627h1v1h-1zM433 599h1v1h-1zM385 629h1v1h-1zM440 576h1v1h-1zM382 631h1v1h-1zM393 616h1v1h-1zM415 607h1v1h-1zM441 576h1v1h-1zM426 595h1v1h-1zM420 593h1v1h-1zM393 611h1v1h-1zM380 620h1v1h-1zM408 607h1v1h-1zM400 594h1v1h-1zM399 618h1v1h-1zM401 626h1v1h-1zM398 605h1v1h-1zM409 601h1v1h-1zM389 606h1v1h-1zM401 608h1v1h-1zM418 604h1v1h-1zM426 597h1v1h-1zM406 609h1v1h-1zM393 615h1v1h-1zM416 598h1v1h-1zM397 610h1v1h-1zM420 602h1v1h-1zM417 598h1v1h-1zM437 575h1v1h-1zM383 619h1v1h-1zM403 602h1v1h-1zM407 602h1v1h-1zM418 596h1v1h-1zM441 582h1v1h-1zM412 607h1v1h-1zM412 604h1v1h-1zM410 604h1v1h-1zM416 589h1v1h-1zM423 603h1v1h-1zM405 606h1v1h-1zM419 591h1v1h-1zM379 628h1v1h-1zM403 618h1v1h-1zM415 606h1v1h-1zM396 625h1v1h-1zM392 609h1v1h-1zM401 623h1v1h-1zM416 599h1v1h-1zM389 616h1v1h-1zM418 601h1v1h-1zM405 618h1v1h-1zM422 614h1v1h-1zM417 606h1v1h-1zM416 597h1v1h-1zM429 594h1v1h-1zM402 628h1v1h-1zM413 594h1v1h-1zM391 611h1v1h-1zM379 616h1v1h-1zM405 604h1v1h-1zM416 586h1v1h-1zM420 601h1v1h-1zM405 611h1v1h-1zM432 579h1v1h-1zM398 616h1v1h-1zM412 606h1v1h-1zM427 588h1v1h-1zM423 589h1v1h-1zM420 597h1v1h-1zM416 598h1v1h-1zM437 574h1v1h-1zM394 614h1v1h-1zM412 603h1v1h-1zM390 633h1v1h-1zM397 608h1v1h-1zM391 618h1v1h-1zM412 616h1v1h-1zM411 611h1v1h-1zM434 585h1v1h-1zM432 582h1v1h-1zM385 632h1v1h-1zM412 615h1v1h-1zM416 608h1v1h-1zM384 629h1v1h-1zM408 621h1v1h-1zM382 626h1v1h-1zM391 626h1v1h-1zM399 634h1v1h-1zM432 589h1v1h-1zM393 627h1v1h-1zM395 623h1v1h-1zM387 625h1v1h-1zM408 610h1v1h-1zM418 589h1v1h-1zM401 607h1v1h-1zM405 611h1v1h-1zM406 614h1v1h-1zM421 613h1v1h-1zM390 626h1v1h-1zM418 601h1v1h-1zM430 590h1v1h-1zM428 583h1v1h-1zM427 594h1v1h-1zM404 603h1v1h-1zM442 579h1v1h-1zM399 603h1v1h-1zM387 623h1v1h-1zM380 618h1v1h-1zM384 630h1v1h-1zM393 614h1v1h-1zM401 619h1v1h-1zM418 581h1v1h-1zM393 632h1v1h-1zM423 596h1v1h-1zM397 628h1v1h-1zM405 597h1v1h-1zM394 621h1v1h-1zM396 631h1v1h-1zM418 604h1v1h-1zM420 612h1v1h-1zM427 587h1v1h-1zM434 581h1v1h-1zM415 606h1v1h-1zM399 624h1v1h-1zM431 582h1v1h-1zM430 590h1v1h-1zM439 575h1v1h-1zM410 608h1v1h-1zM395 611h1v1h-1zM432 575h1v1h-1zM433 587h1v1h-1zM417 593h1v1h-1zM397 627h1v1h-1zM449 577h1v1h-1zM433 585h1v1h-1zM417 603h1v1h-1zM412 602h1v1h-1zM389 619h1v1h-1zM398 616h1v1h-1zM426 590h1v1h-1zM412 616h1v1h-1zM424 589h1v1h-1zM408 602h1v1h-1zM411 594h1v1h-1zM406 605h1v1h-1zM439 593h1v1h-1zM428 579h1v1h-1zM402 616h1v1h-1zM406 604h1v1h-1zM414 598h1v1h-1zM437 585h1v1h-1zM416 609h1v1h-1zM428 581h1v1h-1zM404 606h1v1h-1zM386 615h1v1h-1zM443 580h1v1h-1zM394 621h1v1h-1zM417 614h1v1h-1zM435 599h1v1h-1zM396 623h1v1h-1zM385 618h1v1h-1zM403 611h1v1h-1zM435 596h1v1h-1zM427 595h1v1h-1zM393 630h1v1h-1zM394 617h1v1h-1zM390 611h1v1h-1zM414 596h1v1h-1zM439 577h1v1h-1zM397 613h1v1h-1zM435 576h1v1h-1zM400 629h1v1h-1zM390 618h1v1h-1zM420 593h1v1h-1zM415 604h1v1h-1zM393 611h1v1h-1zM399 599h1v1h-1zM435 586h1v1h-1zM405 604h1v1h-1zM430 586h1v1h-1zM443 581h1v1h-1zM392 622h1v1h-1zM428 593h1v1h-1zM428 594h1v1h-1zM438 585h1v1h-1zM441 585h1v1h-1zM391 627h1v1h-1zM423 601h1v1h-1zM392 618h1v1h-1zM383 611h1v1h-1zM425 585h1v1h-1zM400 626h1v1h-1zM437 578h1v1h-1zM408 599h1v1h-1zM399 613h1v1h-1zM414 618h1v1h-1zM395 623h1v1h-1zM416 605h1v1h-1zM434 581h1v1h-1zM410 612h1v1h-1zM393 629h1v1h-1zM437 577h1v1h-1zM394 613h1v1h-1zM438 590h1v1h-1zM395 634h1v1h-1zM397 620h1v1h-1zM391 617h1v1h-1zM391 631h1v1h-1zM409 600h1v1h-1zM434 598h1v1h-1zM424 590h1v1h-1zM442 581h1v1h-1zM424 595h1v1h-1zM415 592h1v1h-1zM421 602h1v1h-1zM435 578h1v1h-1zM391 627h1v1h-1zM388 628h1v1h-1zM396 615h1v1h-1zM399 611h1v1h-1zM431 593h1v1h-1zM445 574h1v1h-1zM406 599h1v1h-1zM441 583h1v1h-1zM408 612h1v1h-1zM415 614h1v1h-1zM432 593h1v1h-1zM417 599h1v1h-1zM392 617h1v1h-1zM445 576h1v1h-1zM399 610h1v1h-1zM426 597h1v1h-1zM408 608h1v1h-1zM416 589h1v1h-1zM405 596h1v1h-1zM389 629h1v1h-1zM422 606h1v1h-1zM407 623h1v1h-1zM406 601h1v1h-1zM397 614h1v1h-1zM439 585h1v1h-1zM426 584h1v1h-1zM398 616h1v1h-1zM422 588h1v1h-1zM415 612h1v1h-1zM432 573h1v1h-1zM396 629h1v1h-1zM382 622h1v1h-1zM408 605h1v1h-1zM393 611h1v1h-1zM397 623h1v1h-1zM427 599h1v1h-1zM434 583h1v1h-1zM426 594h1v1h-1zM418 595h1v1h-1zM396 610h1v1h-1zM402 617h1v1h-1zM379 620h1v1h-1zM401 624h1v1h-1zM433 580h1v1h-1zM427 596h1v1h-1zM431 588h1v1h-1zM406 606h1v1h-1zM419 594h1v1h-1zM400 635h1v1h-1zM415 597h1v1h-1zM445 576h1v1h-1zM395 620h1v1h-1zM390 615h1v1h-1zM432 584h1v1h-1zM405 616h1v1h-1zM399 605h1v1h-1zM425 592h1v1h-1zM392 618h1v1h-1zM393 616h1v1h-1zM429 597h1v1h-1zM415 599h1v1h-1zM416 587h1v1h-1zM438 580h1v1h-1zM428 589h1v1h-1zM403 600h1v1h-1zM402 613h1v1h-1zM382 631h1v1h-1zM381 631h1v1h-1zM435 583h1v1h-1zM400 618h1v1h-1zM415 594h1v1h-1zM419 602h1v1h-1zM382 617h1v1h-1zM443 574h1v1h-1zM415 606h1v1h-1zM420 586h1v1h-1zM437 572h1v1h-1zM422 601h1v1h-1zM385 633h1v1h-1zM438 583h1v1h-1zM411 599h1v1h-1zM403 608h1v1h-1zM422 600h1v1h-1zM421 600h1v1h-1zM392 624h1v1h-1zM415 612h1v1h-1zM399 635h1v1h-1zM401 618h1v1h-1zM412 607h1v1h-1zM398 631h1v1h-1zM432 584h1v1h-1zM391 623h1v1h-1zM415 614h1v1h-1zM412 597h1v1h-1zM422 608h1v1h-1zM398 625h1v1h-1zM404 616h1v1h-1zM439 579h1v1h-1zM442 582h1v1h-1zM427 596h1v1h-1zM433 572h1v1h-1zM414 614h1v1h-1zM452 577h1v1h-1zM425 580h1v1h-1zM404 607h1v1h-1zM419 592h1v1h-1zM417 611h1v1h-1zM438 573h1v1h-1zM413 613h1v1h-1zM392 621h1v1h-1zM402 603h1v1h-1zM376 624h1v1h-1zM386 622h1v1h-1zM409 585h1v1h-1zM376 627h1v1h-1zM417 604h1v1h-1zM395 627h1v1h-1zM395 601h1v1h-1zM429 580h1v1h-1zM397 629h1v1h-1zM435 598h1v1h-1zM406 620h1v1h-1zM393 626h1v1h-1zM439 585h1v1h-1zM439 573h1v1h-1zM443 574h1v1h-1zM418 583h1v1h-1zM432 590h1v1h-1zM431 594h1v1h-1zM424 594h1v1h-1zM410 623h1v1h-1zM428 586h1v1h-1zM393 615h1v1h-1zM400 622h1v1h-1zM423 602h1v1h-1zM430 585h1v1h-1zM407 604h1v1h-1zM421 595h1v1h-1zM410 613h1v1h-1zM393 625h1v1h-1zM398 612h1v1h-1zM411 616h1v1h-1zM427 578h1v1h-1zM401 614h1v1h-1zM431 598h1v1h-1zM438 572h1v1h-1zM384 617h1v1h-1zM434 585h1v1h-1zM392 630h1v1h-1zM416 592h1v1h-1zM411 616h1v1h-1zM419 587h1v1h-1zM387 621h1v1h-1zM432 587h1v1h-1zM446 581h1v1h-1zM431 580h1v1h-1zM407 612h1v1h-1zM442 589h1v1h-1zM435 586h1v1h-1zM431 580h1v1h-1zM418 590h1v1h-1zM414 585h1v1h-1zM403 605h1v1h-1zM423 604h1v1h-1zM402 617h1v1h-1zM427 593h1v1h-1zM445 576h1v1h-1zM387 615h1v1h-1zM440 576h1v1h-1zM444 573h1v1h-1zM419 605h1v1h-1zM406 615h1v1h-1zM423 588h1v1h-1zM404 609h1v1h-1zM408 624h1v1h-1zM403 598h1v1h-1zM438 571h1v1h-1zM425 586h1v1h-1zM393 634h1v1h-1zM392 615h1v1h-1zM414 614h1v1h-1zM386 626h1v1h-1zM423 599h1v1h-1zM384 626h1v1h-1zM414 592h1v1h-1zM424 597h1v1h-1zM444 576h1v1h-1zM418 602h1v1h-1zM411 604h1v1h-1zM407 602h1v1h-1zM399 616h1v1h-1zM420 598h1v1h-1zM415 616h1v1h-1zM426 584h1v1h-1zM413 585h1v1h-1zM422 596h1v1h-1zM420 591h1v1h-1zM417 601h1v1h-1zM412 600h1v1h-1zM390 610h1v1h-1zM416 624h1v1h-1zM395 628h1v1h-1zM421 601h1v1h-1zM405 620h1v1h-1zM431 607h1v1h-1zM401 609h1v1h-1zM419 604h1v1h-1zM417 605h1v1h-1zM440 578h1v1h-1zM389 613h1v1h-1zM441 581h1v1h-1zM447 577h1v1h-1zM389 603h1v1h-1zM441 581h1v1h-1zM409 603h1v1h-1zM399 614h1v1h-1zM392 617h1v1h-1zM398 604h1v1h-1zM399 606h1v1h-1zM440 570h1v1h-1zM436 580h1v1h-1zM433 589h1v1h-1zM432 598h1v1h-1zM420 607h1v1h-1zM416 601h1v1h-1zM386 622h1v1h-1zM420 597h1v1h-1zM381 626h1v1h-1zM433 593h1v1h-1zM419 598h1v1h-1zM427 589h1v1h-1zM433 576h1v1h-1zM447 576h1v1h-1zM408 598h1v1h-1zM410 614h1v1h-1zM418 600h1v1h-1zM388 623h1v1h-1zM415 602h1v1h-1zM420 595h1v1h-1zM434 590h1v1h-1zM392 629h1v1h-1zM441 581h1v1h-1zM439 575h1v1h-1zM414 599h1v1h-1zM409 613h1v1h-1zM386 626h1v1h-1zM414 602h1v1h-1zM413 610h1v1h-1zM402 622h1v1h-1zM425 598h1v1h-1zM415 595h1v1h-1zM437 589h1v1h-1zM428 581h1v1h-1zM435 574h1v1h-1zM421 589h1v1h-1zM400 602h1v1h-1zM419 609h1v1h-1zM412 602h1v1h-1zM422 591h1v1h-1zM422 584h1v1h-1zM402 600h1v1h-1zM426 591h1v1h-1zM441 579h1v1h-1zM389 634h1v1h-1zM433 575h1v1h-1zM411 609h1v1h-1zM415 601h1v1h-1zM416 609h1v1h-1zM445 576h1v1h-1zM402 612h1v1h-1zM427 596h1v1h-1zM392 617h1v1h-1zM393 600h1v1h-1zM444 577h1v1h-1zM397 628h1v1h-1zM408 593h1v1h-1zM401 604h1v1h-1zM401 616h1v1h-1zM413 603h1v1h-1zM422 592h1v1h-1zM443 579h1v1h-1zM408 619h1v1h-1zM440 579h1v1h-1zM386 626h1v1h-1zM409 609h1v1h-1zM389 622h1v1h-1zM421 604h1v1h-1zM420 597h1v1h-1zM410 608h1v1h-1zM400 614h1v1h-1zM420 590h1v1h-1zM411 615h1v1h-1zM407 614h1v1h-1zM428 589h1v1h-1zM409 601h1v1h-1zM391 622h1v1h-1zM388 624h1v1h-1zM445 571h1v1h-1zM429 610h1v1h-1zM410 610h1v1h-1zM404 603h1v1h-1zM389 622h1v1h-1zM445 579h1v1h-1zM438 580h1v1h-1zM392 607h1v1h-1zM413 611h1v1h-1zM404 613h1v1h-1zM404 605h1v1h-1zM437 581h1v1h-1zM418 592h1v1h-1zM434 588h1v1h-1zM407 618h1v1h-1zM392 609h1v1h-1zM421 601h1v1h-1zM409 611h1v1h-1zM425 581h1v1h-1zM407 615h1v1h-1zM431 603h1v1h-1zM389 621h1v1h-1zM432 593h1v1h-1zM405 620h1v1h-1zM395 609h1v1h-1zM406 622h1v1h-1zM407 626h1v1h-1zM414 606h1v1h-1zM405 616h1v1h-1zM400 612h1v1h-1zM392 622h1v1h-1zM430 587h1v1h-1zM445 573h1v1h-1zM408 615h1v1h-1zM408 617h1v1h-1zM396 598h1v1h-1zM418 590h1v1h-1zM437 571h1v1h-1zM392 626h1v1h-1zM421 583h1v1h-1zM384 616h1v1h-1zM402 620h1v1h-1zM435 580h1v1h-1zM432 588h1v1h-1zM436 573h1v1h-1zM394 613h1v1h-1zM402 608h1v1h-1zM440 571h1v1h-1zM411 616h1v1h-1zM389 612h1v1h-1zM396 607h1v1h-1zM387 616h1v1h-1zM385 621h1v1h-1zM383 621h1v1h-1zM381 619h1v1h-1zM430 580h1v1h-1zM425 602h1v1h-1zM388 610h1v1h-1zM401 596h1v1h-1zM432 581h1v1h-1zM430 579h1v1h-1zM397 599h1v1h-1zM410 601h1v1h-1zM428 592h1v1h-1zM415 592h1v1h-1zM446 575h1v1h-1zM405 615h1v1h-1zM424 593h1v1h-1zM424 584h1v1h-1zM415 604h1v1h-1zM387 624h1v1h-1zM438 571h1v1h-1zM421 605h1v1h-1zM411 606h1v1h-1zM402 607h1v1h-1zM396 615h1v1h-1zM430 587h1v1h-1zM438 583h1v1h-1zM398 602h1v1h-1zM422 598h1v1h-1zM414 606h1v1h-1zM430 598h1v1h-1zM405 616h1v1h-1zM417 603h1v1h-1zM413 598h1v1h-1zM394 627h1v1h-1zM399 610h1v1h-1zM423 601h1v1h-1zM427 603h1v1h-1zM392 627h1v1h-1zM382 634h1v1h-1zM404 611h1v1h-1zM380 632h1v1h-1zM422 585h1v1h-1zM418 598h1v1h-1zM406 603h1v1h-1zM396 612h1v1h-1zM414 595h1v1h-1zM425 593h1v1h-1zM444 576h1v1h-1zM406 629h1v1h-1zM389 625h1v1h-1zM413 598h1v1h-1zM437 585h1v1h-1zM410 591h1v1h-1zM440 581h1v1h-1zM411 613h1v1h-1zM436 590h1v1h-1zM406 631h1v1h-1zM443 586h1v1h-1zM424 581h1v1h-1zM408 602h1v1h-1zM415 603h1v1h-1zM436 578h1v1h-1zM405 617h1v1h-1zM420 590h1v1h-1zM394 607h1v1h-1zM438 571h1v1h-1zM436 578h1v1h-1zM426 587h1v1h-1zM394 611h1v1h-1zM406 616h1v1h-1zM426 599h1v1h-1zM402 605h1v1h-1zM415 608h1v1h-1zM382 631h1v1h-1zM414 614h1v1h-1zM390 630h1v1h-1zM425 585h1v1h-1zM437 583h1v1h-1zM394 617h1v1h-1zM402 619h1v1h-1zM420 594h1v1h-1zM427 582h1v1h-1zM430 602h1v1h-1zM420 598h1v1h-1zM419 609h1v1h-1zM399 614h1v1h-1zM390 620h1v1h-1zM382 622h1v1h-1zM443 590h1v1h-1zM444 578h1v1h-1zM384 633h1v1h-1zM443 586h1v1h-1zM429 602h1v1h-1zM428 594h1v1h-1zM419 603h1v1h-1zM435 589h1v1h-1zM397 617h1v1h-1zM416 584h1v1h-1zM422 586h1v1h-1zM429 581h1v1h-1zM396 627h1v1h-1zM420 601h1v1h-1zM439 586h1v1h-1zM390 616h1v1h-1zM404 612h1v1h-1zM423 598h1v1h-1zM391 612h1v1h-1zM389 608h1v1h-1zM397 623h1v1h-1zM419 591h1v1h-1zM427 589h1v1h-1zM424 601h1v1h-1zM433 580h1v1h-1zM391 622h1v1h-1zM414 608h1v1h-1zM444 579h1v1h-1zM443 575h1v1h-1zM399 609h1v1h-1zM432 585h1v1h-1zM407 607h1v1h-1zM426 586h1v1h-1zM392 631h1v1h-1zM438 582h1v1h-1zM390 612h1v1h-1zM396 614h1v1h-1zM437 577h1v1h-1zM382 616h1v1h-1zM389 623h1v1h-1zM413 617h1v1h-1zM425 603h1v1h-1zM422 603h1v1h-1zM420 587h1v1h-1zM391 627h1v1h-1zM391 619h1v1h-1zM417 604h1v1h-1zM436 580h1v1h-1zM429 595h1v1h-1zM405 613h1v1h-1zM424 597h1v1h-1zM435 590h1v1h-1zM390 616h1v1h-1zM423 583h1v1h-1zM409 622h1v1h-1zM385 628h1v1h-1zM413 593h1v1h-1zM397 616h1v1h-1zM443 588h1v1h-1zM393 627h1v1h-1zM410 612h1v1h-1zM431 592h1v1h-1zM409 618h1v1h-1zM447 575h1v1h-1zM415 593h1v1h-1zM389 616h1v1h-1zM443 574h1v1h-1zM421 590h1v1h-1zM411 606h1v1h-1zM443 575h1v1h-1zM436 581h1v1h-1zM423 598h1v1h-1zM412 595h1v1h-1zM381 620h1v1h-1zM411 606h1v1h-1zM387 619h1v1h-1zM399 625h1v1h-1zM390 629h1v1h-1zM419 597h1v1h-1zM424 608h1v1h-1zM430 590h1v1h-1zM394 623h1v1h-1zM418 610h1v1h-1zM437 590h1v1h-1zM381 626h1v1h-1zM401 612h1v1h-1zM426 577h1v1h-1zM387 618h1v1h-1zM398 617h1v1h-1zM422 603h1v1h-1zM433 597h1v1h-1zM399 630h1v1h-1zM433 590h1v1h-1zM438 566h1v1h-1zM402 608h1v1h-1zM411 598h1v1h-1zM439 603h1v1h-1zM423 583h1v1h-1zM428 591h1v1h-1zM403 613h1v1h-1zM427 606h1v1h-1zM402 600h1v1h-1zM414 616h1v1h-1zM395 631h1v1h-1zM395 632h1v1h-1zM429 600h1v1h-1zM381 624h1v1h-1zM377 625h1v1h-1zM415 609h1v1h-1zM396 614h1v1h-1zM439 581h1v1h-1zM426 603h1v1h-1zM405 628h1v1h-1zM387 630h1v1h-1zM444 585h1v1h-1zM411 599h1v1h-1zM432 592h1v1h-1zM410 605h1v1h-1zM425 593h1v1h-1zM416 600h1v1h-1zM415 587h1v1h-1zM423 588h1v1h-1zM408 616h1v1h-1zM436 574h1v1h-1zM412 608h1v1h-1zM394 620h1v1h-1zM417 607h1v1h-1zM430 579h1v1h-1zM439 594h1v1h-1zM401 611h1v1h-1zM393 627h1v1h-1zM385 629h1v1h-1zM416 596h1v1h-1zM409 601h1v1h-1zM437 584h1v1h-1zM408 620h1v1h-1zM422 583h1v1h-1zM405 601h1v1h-1zM405 626h1v1h-1zM415 581h1v1h-1zM427 592h1v1h-1zM384 618h1v1h-1zM410 606h1v1h-1zM390 624h1v1h-1zM423 591h1v1h-1zM438 582h1v1h-1zM427 603h1v1h-1zM405 608h1v1h-1zM397 605h1v1h-1zM441 580h1v1h-1zM419 614h1v1h-1zM413 599h1v1h-1zM441 579h1v1h-1zM382 630h1v1h-1zM448 574h1v1h-1zM398 597h1v1h-1zM412 606h1v1h-1zM427 592h1v1h-1zM395 615h1v1h-1zM428 584h1v1h-1zM395 607h1v1h-1zM421 607h1v1h-1zM414 612h1v1h-1zM428 600h1v1h-1zM421 590h1v1h-1zM391 616h1v1h-1zM428 580h1v1h-1zM411 594h1v1h-1zM411 619h1v1h-1zM412 627h1v1h-1zM444 583h1v1h-1zM443 567h1v1h-1zM430 584h1v1h-1zM386 631h1v1h-1zM423 595h1v1h-1zM401 627h1v1h-1zM388 619h1v1h-1zM397 573h1v1h-1zM388 632h1v1h-1zM404 613h1v1h-1zM388 628h1v1h-1zM377 606h1v1h-1zM376 632h1v1h-1zM428 583h1v1h-1zM431 566h1v1h-1zM428 593h1v1h-1zM380 585h1v1h-1zM409 581h1v1h-1zM386 618h1v1h-1zM380 628h1v1h-1zM379 585h1v1h-1zM378 613h1v1h-1zM375 586h1v1h-1zM383 619h1v1h-1zM424 582h1v1h-1zM401 602h1v1h-1zM396 583h1v1h-1zM401 603h1v1h-1zM392 583h1v1h-1zM404 578h1v1h-1zM378 572h1v1h-1zM376 601h1v1h-1zM383 587h1v1h-1zM382 611h1v1h-1zM407 596h1v1h-1zM413 582h1v1h-1zM400 603h1v1h-1zM411 586h1v1h-1zM396 620h1v1h-1zM395 606h1v1h-1zM416 593h1v1h-1zM434 587h1v1h-1zM411 596h1v1h-1zM399 598h1v1h-1zM373 614h1v1h-1zM376 628h1v1h-1zM401 592h1v1h-1zM396 585h1v1h-1zM441 577h1v1h-1zM385 605h1v1h-1zM406 594h1v1h-1zM439 578h1v1h-1zM384 632h1v1h-1zM433 578h1v1h-1zM394 597h1v1h-1zM394 598h1v1h-1zM382 617h1v1h-1zM411 602h1v1h-1zM426 586h1v1h-1zM419 574h1v1h-1zM389 586h1v1h-1zM382 583h1v1h-1zM377 587h1v1h-1zM386 583h1v1h-1zM377 627h1v1h-1zM379 627h1v1h-1zM426 585h1v1h-1zM410 588h1v1h-1zM414 588h1v1h-1zM372 594h1v1h-1zM425 597h1v1h-1zM422 590h1v1h-1zM421 590h1v1h-1zM380 631h1v1h-1zM416 592h1v1h-1zM386 568h1v1h-1zM386 573h1v1h-1zM422 581h1v1h-1zM401 596h1v1h-1zM401 590h1v1h-1zM405 585h1v1h-1zM377 626h1v1h-1zM402 614h1v1h-1zM373 578h1v1h-1zM379 626h1v1h-1zM403 581h1v1h-1zM428 575h1v1h-1zM421 582h1v1h-1zM392 575h1v1h-1zM445 569h1v1h-1zM379 632h1v1h-1zM423 588h1v1h-1zM381 623h1v1h-1zM381 580h1v1h-1zM392 586h1v1h-1zM377 612h1v1h-1zM386 567h1v1h-1zM375 577h1v1h-1zM392 590h1v1h-1zM395 620h1v1h-1zM395 626h1v1h-1zM388 584h1v1h-1zM385 625h1v1h-1zM383 596h1v1h-1zM395 587h1v1h-1zM433 574h1v1h-1zM391 615h1v1h-1zM382 619h1v1h-1zM430 593h1v1h-1zM396 573h1v1h-1zM390 582h1v1h-1zM397 606h1v1h-1zM416 618h1v1h-1zM414 625h1v1h-1zM398 625h1v1h-1zM414 627h1v1h-1zM400 618h1v1h-1zM381 632h1v1h-1zM405 623h1v1h-1zM379 631h1v1h-1zM378 619h1v1h-1zM397 633h1v1h-1zM395 630h1v1h-1zM379 626h1v1h-1zM387 620h1v1h-1zM375 633h1v1h-1zM415 622h1v1h-1zM388 631h1v1h-1zM406 627h1v1h-1zM406 625h1v1h-1zM400 621h1v1h-1zM381 622h1v1h-1zM416 625h1v1h-1zM411 624h1v1h-1zM375 620h1v1h-1zM408 634h1v1h-1zM378 626h1v1h-1zM391 631h1v1h-1zM375 632h1v1h-1zM387 627h1v1h-1zM415 632h1v1h-1zM399 620h1v1h-1zM383 618h1v1h-1zM407 624h1v1h-1zM395 627h1v1h-1zM378 629h1v1h-1zM395 633h1v1h-1zM380 619h1v1h-1zM385 626h1v1h-1zM399 631h1v1h-1zM404 631h1v1h-1zM382 634h1v1h-1zM395 629h1v1h-1zM414 630h1v1h-1zM405 622h1v1h-1zM400 631h1v1h-1zM384 619h1v1h-1zM402 629h1v1h-1zM383 627h1v1h-1zM402 629h1v1h-1zM382 626h1v1h-1zM398 634h1v1h-1zM395 632h1v1h-1zM415 621h1v1h-1zM411 624h1v1h-1zM398 621h1v1h-1zM402 622h1v1h-1zM403 634h1v1h-1zM395 629h1v1h-1zM397 632h1v1h-1zM409 632h1v1h-1zM407 621h1v1h-1zM382 629h1v1h-1zM403 619h1v1h-1zM410 618h1v1h-1zM378 619h1v1h-1zM415 626h1v1h-1zM403 633h1v1h-1zM379 618h1v1h-1zM402 624h1v1h-1zM415 626h1v1h-1zM400 629h1v1h-1zM408 625h1v1h-1zM380 632h1v1h-1zM398 620h1v1h-1zM384 620h1v1h-1zM405 622h1v1h-1zM394 632h1v1h-1zM399 629h1v1h-1zM399 625h1v1h-1zM379 632h1v1h-1zM378 620h1v1h-1zM411 625h1v1h-1zM400 627h1v1h-1zM384 625h1v1h-1zM389 630h1v1h-1zM393 622h1v1h-1zM376 623h1v1h-1zM382 629h1v1h-1zM380 620h1v1h-1zM386 624h1v1h-1zM400 621h1v1h-1zM395 629h1v1h-1zM414 618h1v1h-1zM400 634h1v1h-1zM397 632h1v1h-1zM399 623h1v1h-1zM386 628h1v1h-1zM376 628h1v1h-1zM399 627h1v1h-1zM411 628h1v1h-1zM403 630h1v1h-1zM390 631h1v1h-1zM377 628h1v1h-1zM415 626h1v1h-1zM393 626h1v1h-1zM400 633h1v1h-1zM383 618h1v1h-1zM384 628h1v1h-1zM402 622h1v1h-1zM396 631h1v1h-1zM394 631h1v1h-1zM393 631h1v1h-1zM376 621h1v1h-1zM410 626h1v1h-1zM386 618h1v1h-1zM411 633h1v1h-1z"/>
<path fill="#30c030" d="M406 613h1v1h-1zM395 613h1v1h-1zM406 608h1v1h-1zM419 605h1v1h-1zM429 591h1v1h-1zM413 602h1v1h-1zM426 595h1v1h-1zM403 611h1v1h-1zM400 625h1v1h-1zM418 599h1v1h-1zM435 580h1v1h-1zM423 590h1v1h-1zM445 574h1v1h-1zM428 595h1v1h-1zM417 603h1v1h-1zM425 588h1v1h-1zM436 580h1v1h-1zM398 625h1v1h-1zM410 599h1v1h-1zM424 588h1v1h-1zM404 608h1v1h-1zM406 607h1v1h-1zM403 613h1v1h-1zM419 594h1v1h-1zM410 608h1v1h-1zM428 583h1v1h-1zM428 589h1v1h-1zM410 608h1v1h-1zM398 626h1v1h-1zM382 630h1v1h-1zM433 587h1v1h-1zM405 612h1v1h-1zM415 605h1v1h-1zM405 614h1v1h-1zM418 602h1v1h-1zM413 599h1v1h-1zM430 590h1v1h-1zM428 587h1v1h-1zM430 590h1v1h-1zM403 619h1v1h-1zM412 599h1v1h-1zM417 599h1v1h-1zM424 594h1v1h-1zM407 610h1v1h-1zM403 621h1v1h-1zM413 595h1v1h-1zM429 587h1v1h-1zM382 632h1v1h-1zM389 620h1v1h-1z"/>
<path fill="#e8e000" d="M412 599h1v1h-1zM413 601h1v1h-1zM392 619h1v1h-1zM407 609h1v1h-1zM394 612h1v1h-1zM419 604h1v1h-1zM418 604h1v1h-1zM409 610h1v1h-1zM406 609h1v1h-1zM406 608h1v1h-1zM407 607h1v1h-1zM411 600h1v1h-1zM429 588h1v1h-1zM427 592h1v1h-1zM411 601h1v1h-1zM392 621h1v1h-1z"/>
<path fill="#60d020" d="M412 606h1v1h-1zM405 614h1v1h-1zM402 619h1v1h-1zM388 621h1v1h-1zM413 607h1v1h-1zM438 580h1v1h-1zM415 600h1v1h-1zM432 588h1v1h-1zM403 610h1v1h-1zM412 597h1v1h-1zM418 605h1v1h-1zM425 593h1v1h-1zM426 589h1v1h-1zM428 591h1v1h-1zM429 589h1v1h-1zM398 617h1v1h-1zM393 621h1v1h-1zM430 584h1v1h-1zM393 612h1v1h-1zM393 611h1v1h-1zM402 619h1v1h-1zM391 619h1v1h-1zM394 612h1v1h-1zM425 587h1v1h-1zM392 622h1v1h-1zM403 610h1v1h-1zM423 594h1v1h-1zM405 607h1v1h-1zM442 576h1v1h-1zM426 592h1v1h-1zM421 595h1v1h-1zM420 603h1v1h-1zM415 607h1v1h-1zM427 590h1v1h-1zM419 599h1v1h-1zM410 615h1v1h-1zM380 631h1v1h-1zM433 589h1v1h-1zM404 619h1v1h-1zM407 609h1v1h-1zM406 615h1v1h-1zM387 623h1v1h-1zM414 602h1v1h-1zM413 597h1v1h-1zM392 612h1v1h-1zM401 616h1v1h-1zM394 627h1v1h-1zM392 619h1v1h-1z"/>
<path fill="#20b060" d="M403 618h1v1h-1zM407 611h1v1h-1zM402 617h1v1h-1zM416 607h1v1h-1zM427 589h1v1h-1zM428 588h1v1h-1zM411 606h1v1h-1zM429 589h1v1h-1zM437 579h1v1h-1zM411 607h1v1h-1zM420 593h1v1h-1zM421 594h1v1h-1zM390 621h1v1h-1zM428 584h1v1h-1zM430 583h1v1h-1zM405 609h1v1h-1zM403 611h1v1h-1zM442 576h1v1h-1zM431 587h1v1h-1zM413 594h1v1h-1zM403 611h1v1h-1zM407 609h1v1h-1zM426 589h1v1h-1zM424 595h1v1h-1zM404 610h1v1h-1zM419 594h1v1h-1zM394 621h1v1h-1zM392 619h1v1h-1zM418 599h1v1h-1zM419 598h1v1h-1zM414 597h1v1h-1zM395 612h1v1h-1zM414 600h1v1h-1zM388 622h1v1h-1zM406 610h1v1h-1zM395 611h1v1h-1zM381 631h1v1h-1zM414 602h1v1h-1zM395 611h1v1h-1zM420 596h1v1h-1zM429 584h1v1h-1zM441 580h1v1h-1zM411 603h1v1h-1zM427 586h1v1h-1zM425 593h1v1h-1zM399 617h1v1h-1zM410 605h1v1h-1zM403 608h1v1h-1zM391 620h1v1h-1zM390 621h1v1h-1zM437 579h1v1h-1zM409 610h1v1h-1zM410 609h1v1h-1zM390 623h1v1h-1zM397 625h1v1h-1z"/>
<path fill="#30c040" d="M423 588h1v1h-1zM397 616h1v1h-1zM411 599h1v1h-1zM436 583h1v1h-1zM407 612h1v1h-1zM413 593h1v1h-1zM417 605h1v1h-1zM430 587h1v1h-1zM434 588h1v1h-1zM416 600h1v1h-1zM401 610h1v1h-1zM402 603h1v1h-1zM387 623h1v1h-1zM391 614h1v1h-1zM431 586h1v1h-1zM441 575h1v1h-1zM421 601h1v1h-1zM424 586h1v1h-1zM436 577h1v1h-1zM437 578h1v1h-1zM434 585h1v1h-1zM394 622h1v1h-1zM423 591h1v1h-1zM419 604h1v1h-1zM400 617h1v1h-1zM412 616h1v1h-1zM402 608h1v1h-1zM421 601h1v1h-1zM405 615h1v1h-1zM409 614h1v1h-1zM410 610h1v1h-1zM432 589h1v1h-1zM430 595h1v1h-1zM429 583h1v1h-1zM420 596h1v1h-1zM400 623h1v1h-1zM404 614h1v1h-1zM382 631h1v1h-1zM383 630h1v1h-1zM401 624h1v1h-1zM388 622h1v1h-1zM390 619h1v1h-1z"/>
<path fill="#e02010" d="M417 599h1v1h-1zM404 612h1v1h-1zM412 601h1v1h-1zM411 602h1v1h-1zM406 608h1v1h-1zM418 600h1v1h-1zM411 603h1v1h-1zM390 620h1v1h-1z"/>
<path fill="#f0c010" d="M405 608h1v1h-1zM392 619h1v1h-1zM393 621h1v1h-1zM390 622h1v1h-1zM392 621h1v1h-1z"/>
<path fill="#f08020" d="M405 607h1v1h-1zM393 620h1v1h-1zM418 603h1v1h-1zM406 607h1v1h-1zM419 600h1v1h-1zM411 602h1v1h-1zM426 592h1v1h-1zM428 588h1v1h-1zM405 608h1v1h-1zM412 602h1v1h-1zM428 590h1v1h-1zM412 602h1v1h-1zM413 602h1v1h-1zM419 599h1v1h-1zM393 619h1v1h-1z"/>
<rect x="419.5" y="550.5" width="1" height="1" fill="#3232f6"/>
<line x1="593.60" y1="582.80" x2="593.60" y2="711.90" stroke="#2a2a2a" stroke-width="1.0"/>
<line x1="593.10" y1="711.40" x2="678.60" y2="711.40" stroke="#2a2a2a" stroke-width="1.0"/>
<line x1="588.60" y1="711.40" x2="593.60" y2="711.40" stroke="#2a2a2a" stroke-width="1.0"/>
<text font-family='"Liberation Serif", serif' font-size="13.3" font-style="italic" text-anchor="end" transform="translate(583.60,715.90) scale(1,1.2)">0.0</text>
<line x1="588.60" y1="685.78" x2="593.60" y2="685.78" stroke="#2a2a2a" stroke-width="1.0"/>
<text font-family='"Liberation Serif", serif' font-size="13.3" font-style="italic" text-anchor="end" transform="translate(583.60,690.28) scale(1,1.2)">0.1</text>
<line x1="588.60" y1="660.16" x2="593.60" y2="660.16" stroke="#2a2a2a" stroke-width="1.0"/>
<text font-family='"Liberation Serif", serif' font-size="13.3" font-style="italic" text-anchor="end" transform="translate(583.60,664.66) scale(1,1.2)">0.2</text>
<line x1="588.60" y1="634.54" x2="593.60" y2="634.54" stroke="#2a2a2a" stroke-width="1.0"/>
<text font-family='"Liberation Serif", serif' font-size="13.3" font-style="italic" text-anchor="end" transform="translate(583.60,639.04) scale(1,1.2)">0.3</text>
<line x1="588.60" y1="608.92" x2="593.60" y2="608.92" stroke="#2a2a2a" stroke-width="1.0"/>
<text font-family='"Liberation Serif", serif' font-size="13.3" font-style="italic" text-anchor="end" transform="translate(583.60,613.42) scale(1,1.2)">0.4</text>
<line x1="588.60" y1="583.30" x2="593.60" y2="583.30" stroke="#2a2a2a" stroke-width="1.0"/>
<text font-family='"Liberation Serif", serif' font-size="13.3" font-style="italic" text-anchor="end" transform="translate(583.60,587.80) scale(1,1.2)">0.5</text>
<line x1="617.70" y1="711.40" x2="617.70" y2="715.00" stroke="#2a2a2a" stroke-width="1.0"/>
<line x1="654.20" y1="711.40" x2="654.20" y2="715.00" stroke="#2a2a2a" stroke-width="1.0"/>
<line x1="654.20" y1="594.60" x2="654.20" y2="649.10" stroke="#2a2a2a" stroke-width="1.0"/>
<line x1="647.90" y1="594.60" x2="660.80" y2="594.60" stroke="#2a2a2a" stroke-width="1.0"/>
<line x1="647.90" y1="649.10" x2="660.80" y2="649.10" stroke="#2a2a2a" stroke-width="1.0"/>
<line x1="642.10" y1="622.50" x2="666.60" y2="622.50" stroke="#2a2a2a" stroke-width="1.0"/>
<line x1="617.70" y1="681.30" x2="617.70" y2="703.40" stroke="#2a2a2a" stroke-width="1.0"/>
<line x1="611.60" y1="681.30" x2="624.00" y2="681.30" stroke="#2a2a2a" stroke-width="1.0"/>
<line x1="611.60" y1="703.40" x2="624.00" y2="703.40" stroke="#2a2a2a" stroke-width="1.0"/>
<line x1="605.80" y1="692.40" x2="629.70" y2="692.40" stroke="#2a2a2a" stroke-width="1.0"/>
<circle cx="650.4" cy="597.7" r="1.85" fill="#000"/>
<circle cx="658.2" cy="601.0" r="1.85" fill="#000"/>
<circle cx="654.2" cy="610.1" r="1.85" fill="#000"/>
<circle cx="654.2" cy="642.3" r="1.85" fill="#000"/>
<circle cx="654.2" cy="659.3" r="1.85" fill="#000"/>
<circle cx="614.0" cy="680.3" r="1.85" fill="#000"/>
<circle cx="621.8" cy="680.8" r="1.85" fill="#000"/>
<circle cx="617.8" cy="696.8" r="1.85" fill="#000"/>
<circle cx="614.0" cy="703.1" r="1.85" fill="#000"/>
<circle cx="621.5" cy="702.3" r="1.85" fill="#000"/>
<line x1="619.80" y1="579.00" x2="656.90" y2="579.00" stroke="#000" stroke-width="1.9"/>
<text font-family='"Liberation Sans", sans-serif' font-size="13.8" font-style="italic" transform="translate(611.60,567.50) scale(1,1.06)">P=0.0007</text>
<text font-family='"Liberation Sans", sans-serif' font-size="13.7" transform="translate(600.50,741.00) rotate(-22) scale(1,1.06)">homo</text>
<text font-family='"Liberation Sans", sans-serif' font-size="13.7" transform="translate(631.50,743.50) rotate(-22) scale(1,1.06)">hetero</text>
<text font-family='"Liberation Sans", sans-serif' font-size="14" transform="translate(523.90,705.30) rotate(-90) scale(1,1.06)">Ratio:</text>
<text font-family='"Liberation Sans", sans-serif' font-size="14" transform="translate(541.00,705.30) rotate(-90) scale(1,1.06)">(D368R sensitive) /</text>
<text font-family='"Liberation Sans", sans-serif' font-size="14" transform="translate(557.80,705.30) rotate(-90) scale(1,1.06)">D386R insensitive)</text>
</svg>
</body></html>
